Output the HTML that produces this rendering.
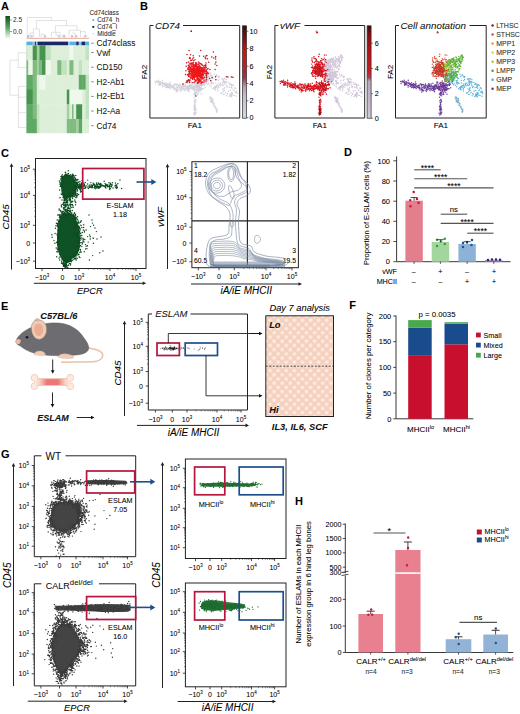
<!DOCTYPE html>
<html><head><meta charset="utf-8"><style>
html,body{margin:0;padding:0;background:#fff;width:520px;height:714px;overflow:hidden}
svg{display:block}
text{font-family:"Liberation Sans", sans-serif;stroke:rgba(0,0,0,0.3);stroke-width:0.22px}
</style></head><body>
<svg width="520" height="714" viewBox="0 0 520 714">
<defs>
<linearGradient id="gA" x1="0" y1="0" x2="0" y2="1"><stop offset="0" stop-color="#0b4f1c"/><stop offset="0.5" stop-color="#5aa55e"/><stop offset="1" stop-color="#ffffff"/></linearGradient>
<linearGradient id="gRed" x1="0" y1="0" x2="0" y2="1"><stop offset="0" stop-color="#3a0810"/><stop offset="0.12" stop-color="#7a0c14"/><stop offset="0.28" stop-color="#cc1414"/><stop offset="0.42" stop-color="#c81a1e"/><stop offset="0.56" stop-color="#9c3050"/><stop offset="0.66" stop-color="#b49aaa"/><stop offset="0.76" stop-color="#c6bece"/><stop offset="1" stop-color="#d8d4de"/></linearGradient>
<linearGradient id="gBone" x1="0" y1="0" x2="1" y2="0"><stop offset="0" stop-color="#fce9e0"/><stop offset="0.15" stop-color="#f8cfc4"/><stop offset="0.35" stop-color="#ec7676"/><stop offset="0.65" stop-color="#ec7676"/><stop offset="0.85" stop-color="#f8cfc4"/><stop offset="1" stop-color="#fce9e0"/></linearGradient>
<linearGradient id="gRed2" x1="0" y1="0" x2="0" y2="1"><stop offset="0" stop-color="#3a0810"/><stop offset="0.1" stop-color="#8a0c14"/><stop offset="0.3" stop-color="#b81418"/><stop offset="0.5" stop-color="#c42024"/><stop offset="0.56" stop-color="#a84058"/><stop offset="0.6" stop-color="#b8a8bc"/><stop offset="1" stop-color="#d0cad8"/></linearGradient>
<radialGradient id="rSpot"><stop offset="0" stop-color="#fff4ee"/><stop offset="0.45" stop-color="#fbe2d6"/><stop offset="1" stop-color="#f2c8b4" stop-opacity="0"/></radialGradient><pattern id="pLat" width="8.1" height="8.4" patternUnits="userSpaceOnUse" x="266" y="316"><rect width="8.1" height="8.4" fill="#f5d0bd"/><circle cx="0" cy="0" r="3.4" fill="url(#rSpot)"/><circle cx="8.1" cy="0" r="3.4" fill="url(#rSpot)"/><circle cx="0" cy="8.4" r="3.4" fill="url(#rSpot)"/><circle cx="8.1" cy="8.4" r="3.4" fill="url(#rSpot)"/><circle cx="4.05" cy="4.2" r="3.4" fill="url(#rSpot)"/></pattern>
</defs>
<text x="1" y="10" font-size="11" font-weight="bold" fill="#000">A</text>
<rect x="5.4" y="16" width="4.6" height="23" fill="url(#gA)"/>
<line x1="10" y1="20" x2="12" y2="20" stroke="#555" stroke-width="0.6"/>
<text x="13" y="22.3" font-size="6.5" fill="#444">2.5</text>
<line x1="10" y1="31.5" x2="12" y2="31.5" stroke="#555" stroke-width="0.6"/>
<text x="13" y="33.8" font-size="6.5" fill="#444">0.0</text>
<path d="M27.3 37V17.5H51.5V20.5 M36.4 20.5H66.5V25.7 M36.4 20.5V29 M33.4 29H39.4 M33.4 29V37 M39.4 29V37 M30 37V33H33.4 M41 37V34H44V37 M55.4 25.7H77V30.3 M55.4 25.7V32.3 M51.5 32.3H60V37 M51.5 32.3V37 M56 32.3V35H58V37 M69 30.3H80.5V33 M69 30.3V37 M72 33H75V37 M80.5 31.6H85.4V37 M80.5 31.6V37 M62 37V35H65V37 M87 37V35" fill="none" stroke="#c9c9c9" stroke-width="0.55"/>
<rect x="26.4" y="37.8" width="62.6" height="1.1" fill="#eab3a0"/>
<rect x="27" y="35.2" width="2.2" height="2.4" fill="#9fc6e8"/>
<rect x="30.5" y="35.2" width="2.2" height="2.4" fill="#c8c8e8"/>
<rect x="44" y="35.2" width="2.2" height="2.4" fill="#e0c0d0"/>
<rect x="58" y="35.2" width="2.2" height="2.4" fill="#d0d0e8"/>
<rect x="63" y="35.2" width="2.2" height="2.4" fill="#e0b8c8"/>
<rect x="71" y="35.2" width="2.2" height="2.4" fill="#e8b0c8"/>
<rect x="75" y="35.2" width="2.2" height="2.4" fill="#e8b8c8"/>
<rect x="84" y="35.2" width="2.2" height="2.4" fill="#e8c0c0"/>
<rect x="26.4" y="41.6" width="6.4" height="3.9" fill="#56b1e2"/>
<rect x="32.7" y="41.6" width="2.1" height="3.9" fill="#9cbde4"/>
<rect x="34.8" y="41.6" width="1.5" height="3.9" fill="#2a3a7a"/>
<rect x="36.2" y="41.6" width="1.3" height="3.9" fill="#9cbde4"/>
<rect x="37.5" y="41.6" width="30.6" height="3.9" fill="#1c2866"/>
<rect x="68" y="41.6" width="2" height="3.9" fill="#9cc4ea"/>
<rect x="70" y="41.6" width="6.3" height="3.9" fill="#5ab2e2"/>
<rect x="76.2" y="41.6" width="2.6" height="3.9" fill="#1c2866"/>
<rect x="78.8" y="41.6" width="2.8" height="3.9" fill="#8cbde4"/>
<rect x="81.5" y="41.6" width="3.5" height="3.9" fill="#1c2866"/>
<rect x="85" y="41.6" width="4" height="3.9" fill="#56b1e2"/>
<rect x="26.4" y="45.5" width="6.7" height="15.1" fill="#ddefd9"/>
<rect x="32.7" y="45.5" width="4.5" height="15.1" fill="#46944e"/>
<rect x="36.8" y="45.5" width="3.1" height="15.1" fill="#a3d0a1"/>
<rect x="39.5" y="45.5" width="6.4" height="15.1" fill="#46944e"/>
<rect x="45.5" y="45.5" width="5.8" height="15.1" fill="#c3e2bf"/>
<rect x="50.9" y="45.5" width="6.8" height="15.1" fill="#ddefd9"/>
<rect x="57.3" y="45.5" width="4.5" height="15.1" fill="#ddefd9"/>
<rect x="61.4" y="45.5" width="5.8" height="15.1" fill="#ddefd9"/>
<rect x="66.8" y="45.5" width="3" height="15.1" fill="#ddefd9"/>
<rect x="69.4" y="45.5" width="4.5" height="15.1" fill="#eff8ed"/>
<rect x="73.5" y="45.5" width="3.1" height="15.1" fill="#ddefd9"/>
<rect x="76.2" y="45.5" width="3" height="15.1" fill="#ddefd9"/>
<rect x="78.8" y="45.5" width="3.8" height="15.1" fill="#ddefd9"/>
<rect x="82.2" y="45.5" width="3.8" height="15.1" fill="#ddefd9"/>
<rect x="85.6" y="45.5" width="3.4" height="15.1" fill="#c3e2bf"/>
<rect x="26.4" y="60.2" width="6.7" height="15.1" fill="#eff8ed"/>
<rect x="32.7" y="60.2" width="4.5" height="15.1" fill="#7fbb7f"/>
<rect x="36.8" y="60.2" width="3.1" height="15.1" fill="#a3d0a1"/>
<rect x="39.5" y="60.2" width="6.4" height="15.1" fill="#46944e"/>
<rect x="45.5" y="60.2" width="5.8" height="15.1" fill="#eff8ed"/>
<rect x="50.9" y="60.2" width="6.8" height="15.1" fill="#ddefd9"/>
<rect x="57.3" y="60.2" width="4.5" height="15.1" fill="#7fbb7f"/>
<rect x="61.4" y="60.2" width="5.8" height="15.1" fill="#c3e2bf"/>
<rect x="66.8" y="60.2" width="3" height="15.1" fill="#ddefd9"/>
<rect x="69.4" y="60.2" width="4.5" height="15.1" fill="#7fbb7f"/>
<rect x="73.5" y="60.2" width="3.1" height="15.1" fill="#ddefd9"/>
<rect x="76.2" y="60.2" width="3" height="15.1" fill="#ddefd9"/>
<rect x="78.8" y="60.2" width="3.8" height="15.1" fill="#c3e2bf"/>
<rect x="82.2" y="60.2" width="3.8" height="15.1" fill="#ddefd9"/>
<rect x="85.6" y="60.2" width="3.4" height="15.1" fill="#ddefd9"/>
<rect x="26.4" y="74.9" width="6.7" height="15.1" fill="#5fa865"/>
<rect x="32.7" y="74.9" width="4.5" height="15.1" fill="#7fbb7f"/>
<rect x="36.8" y="74.9" width="3.1" height="15.1" fill="#ddefd9"/>
<rect x="39.5" y="74.9" width="6.4" height="15.1" fill="#eff8ed"/>
<rect x="45.5" y="74.9" width="5.8" height="15.1" fill="#ddefd9"/>
<rect x="50.9" y="74.9" width="6.8" height="15.1" fill="#ddefd9"/>
<rect x="57.3" y="74.9" width="4.5" height="15.1" fill="#ddefd9"/>
<rect x="61.4" y="74.9" width="5.8" height="15.1" fill="#ddefd9"/>
<rect x="66.8" y="74.9" width="3" height="15.1" fill="#ddefd9"/>
<rect x="69.4" y="74.9" width="4.5" height="15.1" fill="#ddefd9"/>
<rect x="73.5" y="74.9" width="3.1" height="15.1" fill="#ddefd9"/>
<rect x="76.2" y="74.9" width="3" height="15.1" fill="#ddefd9"/>
<rect x="78.8" y="74.9" width="3.8" height="15.1" fill="#5fa865"/>
<rect x="82.2" y="74.9" width="3.8" height="15.1" fill="#5fa865"/>
<rect x="85.6" y="74.9" width="3.4" height="15.1" fill="#c3e2bf"/>
<rect x="26.4" y="89.6" width="6.7" height="15.1" fill="#46944e"/>
<rect x="32.7" y="89.6" width="4.5" height="15.1" fill="#7fbb7f"/>
<rect x="36.8" y="89.6" width="3.1" height="15.1" fill="#ddefd9"/>
<rect x="39.5" y="89.6" width="6.4" height="15.1" fill="#ddefd9"/>
<rect x="45.5" y="89.6" width="5.8" height="15.1" fill="#ddefd9"/>
<rect x="50.9" y="89.6" width="6.8" height="15.1" fill="#ddefd9"/>
<rect x="57.3" y="89.6" width="4.5" height="15.1" fill="#ddefd9"/>
<rect x="61.4" y="89.6" width="5.8" height="15.1" fill="#ddefd9"/>
<rect x="66.8" y="89.6" width="3" height="15.1" fill="#46944e"/>
<rect x="69.4" y="89.6" width="4.5" height="15.1" fill="#eff8ed"/>
<rect x="73.5" y="89.6" width="3.1" height="15.1" fill="#eff8ed"/>
<rect x="76.2" y="89.6" width="3" height="15.1" fill="#eff8ed"/>
<rect x="78.8" y="89.6" width="3.8" height="15.1" fill="#eff8ed"/>
<rect x="82.2" y="89.6" width="3.8" height="15.1" fill="#ddefd9"/>
<rect x="85.6" y="89.6" width="3.4" height="15.1" fill="#c3e2bf"/>
<rect x="26.4" y="104.3" width="6.7" height="15.1" fill="#5fa865"/>
<rect x="32.7" y="104.3" width="4.5" height="15.1" fill="#7fbb7f"/>
<rect x="36.8" y="104.3" width="3.1" height="15.1" fill="#c3e2bf"/>
<rect x="39.5" y="104.3" width="6.4" height="15.1" fill="#ddefd9"/>
<rect x="45.5" y="104.3" width="5.8" height="15.1" fill="#ddefd9"/>
<rect x="50.9" y="104.3" width="6.8" height="15.1" fill="#ddefd9"/>
<rect x="57.3" y="104.3" width="4.5" height="15.1" fill="#ddefd9"/>
<rect x="61.4" y="104.3" width="5.8" height="15.1" fill="#ddefd9"/>
<rect x="66.8" y="104.3" width="3" height="15.1" fill="#a3d0a1"/>
<rect x="69.4" y="104.3" width="4.5" height="15.1" fill="#ddefd9"/>
<rect x="73.5" y="104.3" width="3.1" height="15.1" fill="#ddefd9"/>
<rect x="76.2" y="104.3" width="3" height="15.1" fill="#46944e"/>
<rect x="78.8" y="104.3" width="3.8" height="15.1" fill="#46944e"/>
<rect x="82.2" y="104.3" width="3.8" height="15.1" fill="#ddefd9"/>
<rect x="85.6" y="104.3" width="3.4" height="15.1" fill="#c3e2bf"/>
<rect x="26.4" y="119" width="6.7" height="14.2" fill="#5fa865"/>
<rect x="32.7" y="119" width="4.5" height="14.2" fill="#5fa865"/>
<rect x="36.8" y="119" width="3.1" height="14.2" fill="#c3e2bf"/>
<rect x="39.5" y="119" width="6.4" height="14.2" fill="#ddefd9"/>
<rect x="45.5" y="119" width="5.8" height="14.2" fill="#ddefd9"/>
<rect x="50.9" y="119" width="6.8" height="14.2" fill="#ddefd9"/>
<rect x="57.3" y="119" width="4.5" height="14.2" fill="#ddefd9"/>
<rect x="61.4" y="119" width="5.8" height="14.2" fill="#ddefd9"/>
<rect x="66.8" y="119" width="3" height="14.2" fill="#7fbb7f"/>
<rect x="69.4" y="119" width="4.5" height="14.2" fill="#7fbb7f"/>
<rect x="73.5" y="119" width="3.1" height="14.2" fill="#7fbb7f"/>
<rect x="76.2" y="119" width="3" height="14.2" fill="#a3d0a1"/>
<rect x="78.8" y="119" width="3.8" height="14.2" fill="#5fa865"/>
<rect x="82.2" y="119" width="3.8" height="14.2" fill="#ddefd9"/>
<rect x="85.6" y="119" width="3.4" height="14.2" fill="#ddefd9"/>
<rect x="26.4" y="60.2" width="1.8" height="14.7" fill="#7fbb7f"/>
<rect x="39.5" y="60.2" width="2.5" height="14.7" fill="#7fbb7f"/>
<rect x="72" y="104.3" width="1.5" height="14.7" fill="#7fbb7f"/>
<rect x="26.4" y="45.5" width="0.9" height="14.7" fill="#c3e2bf"/>
<path d="M26 52.8H18.2V67.6H26 M18.2 60.2H10V95.2H18.5 M26 86.4H18.5V127.5H26 M18.5 97.2H26 M18.5 112.7H26" fill="none" stroke="#c9c9c9" stroke-width="0.55"/>
<line x1="91.3" y1="43.2" x2="93.6" y2="43.2" stroke="#444" stroke-width="0.7"/>
<text x="96.6" y="46.2" font-size="8.3" fill="#1a1a1a">Cd74class</text>
<line x1="91.3" y1="52.5" x2="93.6" y2="52.5" stroke="#444" stroke-width="0.7"/>
<text x="96.6" y="55.5" font-size="8.3" fill="#1a1a1a">Vwf</text>
<line x1="91.3" y1="67.3" x2="93.6" y2="67.3" stroke="#444" stroke-width="0.7"/>
<text x="96.6" y="70.3" font-size="8.3" fill="#1a1a1a">CD150</text>
<line x1="91.3" y1="81.8" x2="93.6" y2="81.8" stroke="#444" stroke-width="0.7"/>
<text x="96.6" y="84.8" font-size="8.3" fill="#1a1a1a">H2-Ab1</text>
<line x1="91.3" y1="96.4" x2="93.6" y2="96.4" stroke="#444" stroke-width="0.7"/>
<text x="96.6" y="99.4" font-size="8.3" fill="#1a1a1a">H2-Eb1</text>
<line x1="91.3" y1="111" x2="93.6" y2="111" stroke="#444" stroke-width="0.7"/>
<text x="96.6" y="114" font-size="8.3" fill="#1a1a1a">H2-Aa</text>
<line x1="91.3" y1="125.7" x2="93.6" y2="125.7" stroke="#444" stroke-width="0.7"/>
<text x="96.6" y="128.7" font-size="8.3" fill="#1a1a1a">Cd74</text>
<text x="89.5" y="14.6" font-size="6.3" fill="#333">Cd74class</text>
<rect x="92.4" y="19.2" width="1.8" height="1.8" fill="#56b1e2"/>
<text x="97.3" y="22.3" font-size="6.3" fill="#333">Cd74_h</text>
<rect x="92.4" y="26" width="1.8" height="1.8" fill="#111"/>
<text x="97.3" y="29.1" font-size="6.3" fill="#333">Cd74_l</text>
<rect x="92.4" y="32.8" width="1.8" height="1.8" fill="#dde8f5"/>
<text x="97.3" y="35.9" font-size="6.3" fill="#333">Middle</text>
<text x="140" y="10" font-size="11" font-weight="bold" fill="#000">B</text>
<path d="M183 25.5H239.7V118H149.9V25.5H153.4" fill="none" stroke="#222" stroke-width="1"/>
<text x="154.9" y="29.3" font-size="9.8" font-style="italic" fill="#111">CD74</text>
<text x="147.3" y="72" font-size="8" text-anchor="middle" transform="rotate(-90 147.3 72)">FA2</text>
<text x="194.8" y="127.8" font-size="8" text-anchor="middle">FA1</text>
<path d="M235.1 87.8h0M225.6 92.5h0M234.7 87.9h0M224.1 88.3h0M227 87.5h0M225.9 83.9h0M208.4 73h0M229.8 95.8h0M225.5 81.6h0M231.5 92.5h0M222.1 78.7h0M212.8 83h0M213.4 83.2h0M203.3 75.1h0M231.1 87h0M216.7 74.7h0M207.4 72.4h0M206.5 72.5h0M227.6 94.2h0M224.5 90.4h0M215.1 86.9h0M217.7 89.6h0M215 88.8h0M224.6 82.9h0M235.9 92.4h0M222.3 79.6h0M227.2 93.5h0M213.9 87.8h0M237.1 93.6h0M223.5 80h0M215.5 89.8h0M217.1 87.3h0M231.3 95.1h0M231.1 94.5h0M222.5 79.1h0M232.5 93h0M226.5 95.8h0M214.4 74.2h0M221.8 92.7h0M223.7 89.6h0M218.7 77.4h0M230.4 84h0M233.8 85.6h0M219.1 87.3h0M208.7 77h0M215 86.7h0M216.4 85.4h0M207.3 73.2h0M223.4 81h0M233.1 84.6h0M222.3 78.8h0M230 83.1h0M236 91.9h0M231.4 97.1h0M211 73h0M209.1 76.7h0M204.9 73.3h0M223.4 82.3h0M211.2 86.7h0M226 82.2h0M218 76.2h0M209.9 73h0M211.1 81.2h0M234.4 95.5h0M230.2 90.4h0M203.9 75.8h0M229.1 96.4h0M226.3 79.8h0M223.2 91.7h0M205.7 80.4h0M211.2 75.2h0M219.2 76.4h0M210.5 75.7h0M233.1 95.1h0M206.9 83.6h0M232.2 88.3h0M218.2 80.8h0M231.5 84.4h0M209.9 73.5h0M227.6 86.4h0M211.5 82.7h0M207.5 79h0M207.9 84.8h0M219.1 79.4h0M211.2 77.2h0M205.4 79.5h0M231.9 85.7h0M208.6 83.3h0M204.8 74.3h0M223.8 84.9h0M211.8 77.4h0M223.9 90.4h0M231.1 87.2h0M209.2 73.7h0M228.3 82.6h0M232.2 94.5h0M215.1 76.3h0M215.3 87.5h0M217.9 85.4h0M231.3 94.5h0M220.4 85.8h0M208.5 74.7h0M203 74.5h0M222.7 85.6h0M233.2 90.6h0M203.5 75.2h0M219.7 85h0M212 75.2h0M216.5 75.6h0M223.2 94.4h0M231.6 96.4h0M215.9 82.9h0M232.1 85.7h0M210.6 80.7h0M230.9 95.7h0M231.2 94h0M236.4 96.3h0M210.9 83h0M224.7 81.5h0M217.5 85.1h0M202.6 75.6h0M236.8 92.2h0M235.6 88.5h0M231 95h0M225 78.9h0M224.3 78.5h0M220.6 83.3h0M212.9 88.8h0M211.6 84.1h0M206.4 75.4h0M212.5 82.6h0M212.3 78.3h0M232.1 87.9h0M222.4 88.9h0M218.5 86.2h0M224 84.2h0M213.1 78.3h0M209.9 85.3h0M215.7 87.2h0M221.9 84.8h0M207.6 73.7h0M204.1 82.1h0M217.7 91.1h0M205.8 77.9h0M236.4 91.2h0M207.5 80.8h0M214.6 89.6h0M224.1 94.1h0M231.5 85.5h0M228.5 91.3h0M229.2 84.4h0M230.2 90.4h0M229.5 87.2h0M222.5 82.9h0M230.1 94.7h0M223.8 81.9h0M218.2 83.9h0M216 86.4h0M215.7 80.4h0M230.2 94.1h0M219.9 83.5h0M208.5 79.9h0M232.3 93.8h0M222.2 84.9h0M235 92.1h0M220.5 85.4h0M226.6 82.1h0M214.8 87.5h0M226.3 85.7h0M205.5 81.7h0M216.3 86.6h0M217.7 88.2h0M221 93.2h0M208 80.3h0M237.1 93.5h0M234.1 89.9h0M207.5 79.5h0M220.3 85.1h0M208.7 76.7h0M224.6 87.7h0M202.1 85.6h0M206.4 77.3h0M203.2 80.8h0M205.6 82.3h0M209 78.1h0M208.7 74.7h0M206.1 76.3h0M203.7 78.1h0M206.5 82.3h0M198.5 76h0M204.6 76.6h0M208 79.2h0M207 76.6h0M208.1 79.1h0M202.3 77.2h0M203.5 74.5h0M207.3 78.2h0M207.2 75.4h0M206.4 75.3h0M207.9 80.1h0M211.3 81.8h0M204.9 76.6h0M204.6 78.9h0M211.9 80.1h0M201.4 74.2h0M203.7 79.5h0M206.9 78.9h0M211.4 75.5h0M204.8 83.9h0M207.8 75.7h0M201.8 73.4h0M200.8 78.2h0M207 81h0M206.6 75.9h0M205 83.7h0M202.5 78.5h0M207 79.9h0M205.9 79.5h0M208.9 77.6h0M205.8 77.4h0M213.5 105.3h0M211 97.6h0M211.3 98.5h0M211.1 100.5h0M211.3 99.7h0M210.8 97.1h0M214.9 107.5h0M216 108.1h0M210.4 98h0M212.6 98.6h0M214.3 103.8h0M209.8 99.1h0M212.6 102.3h0M216.7 112.3h0M212.6 99.9h0M211.4 100.3h0M214.5 104h0M213 100.8h0M216.4 111.3h0M211.4 100.6h0M215.2 106.5h0M212.7 98.5h0M213.3 105h0M215.9 109.2h0M212.3 102.8h0M211.4 101.6h0M213.5 102.9h0M217 110.5h0M212.2 101.8h0M214 105.8h0M212 102.5h0M210.4 97.6h0M212.5 101.6h0M216.1 108.3h0M210.5 101.2h0M217.2 109.3h0M217.3 111.1h0M211.7 101.1h0M209.6 97h0M211.5 102.3h0M180.1 85h0M173.3 85.3h0M190 88.1h0M200.2 81.3h0M160 83.4h0M169.9 87.5h0M159.1 84.9h0M169.7 84.1h0M193.2 89h0M192 86.9h0M197.7 83.9h0M160.5 81.8h0M160.2 84h0M196.4 91.1h0M195.5 88.2h0M179.9 83.9h0M176.2 89.1h0M182.4 86.2h0M194.6 83.7h0M183.7 88.5h0M179.6 87.1h0M166 84.6h0M192.9 85.1h0M187.6 86.8h0M186.4 88.1h0M177.8 87.9h0M176.8 89.1h0M191.5 88.5h0M183.4 89.1h0M177.5 90.9h0M166.2 84.7h0M195.6 84.7h0M168 83.8h0M183.1 83.8h0M165 86.2h0M171.2 86.6h0M169.9 84.4h0M164.6 86.3h0M178.7 87.9h0M157.8 82.1h0M162.6 80.3h0M187.9 88.9h0M182.1 89.7h0M157.1 81.2h0M190.8 85.9h0M173.1 87.5h0M158.6 80.3h0M175.8 89.3h0M198.4 85h0M196.4 82.8h0M177.4 90.2h0M175.8 88.8h0M179.1 86.1h0M158.6 82.4h0M196.6 81h0M200.6 84.9h0M167.5 87.5h0M162.6 83.4h0M182.5 87.3h0M159.1 83.5h0M195 86.7h0M198.5 83.2h0M174.2 85.1h0M180.7 89.2h0M192.1 82.7h0M168 87.2h0M186.9 88.5h0M162.7 85.7h0M203.8 81.8h0M203.6 83.7h0M197.8 87.2h0M188.7 89.8h0M200.6 85.1h0M174.5 90h0M158.8 84.6h0M183.3 88.9h0M178.2 86.4h0M185.1 86.6h0M165.8 87.6h0M187.8 90.1h0M174 87.8h0M172 86.7h0M171.4 86h0M184.8 87h0M181.3 88.3h0M197.4 84.3h0M196.6 90.9h0M194.6 89.1h0M180.8 91.6h0M187.2 86.3h0M196 86.8h0M180 87.6h0M170.6 88.7h0M182.2 85.8h0M197.3 83.4h0M199.5 88.9h0M177.6 84.5h0M197.8 87.4h0M195.2 85.3h0M159.6 82.9h0M186.7 86.4h0M200.5 83.3h0M168.5 87h0M188 87.6h0M165 83.8h0M186.5 90.4h0M180.3 90.4h0M185.6 84h0M202.4 84.9h0M165.8 85.4h0M196.8 86.4h0M196.6 83.8h0M184.4 90.7h0M180.7 85.6h0M162.2 84.9h0M199.5 84.9h0M168 87h0M187.2 88.6h0M155.1 81.4h0M155.4 83.5h0M160.7 84.9h0M174 88.8h0M172.7 85.8h0M202.1 84.6h0M187.3 83.2h0M194.6 83.8h0M178.2 90.5h0M200.1 84.1h0M175.8 84.1h0M184.4 86.1h0M186.4 87.8h0M176.2 92h0M183.4 88.6h0M171.9 87.2h0M156.6 81h0M181.6 86.8h0M169.1 86.2h0M175.8 84.8h0M200.3 89.5h0M188.4 87.9h0M188.6 87.2h0M193.9 88.2h0M160.1 84.2h0M174.3 87.2h0M168.1 88h0M170.9 86.9h0M189.5 84.9h0M169.9 81.9h0M190 89.1h0M198.8 86.5h0M168 85.2h0M190.7 86.4h0M176.8 84.5h0M180.1 85.9h0M160.8 83.8h0M189.2 89.3h0M188.5 89.6h0M157.7 81.6h0M204 85.5h0M193.3 87.5h0M168.6 87.6h0M163.8 83h0M185.3 86.1h0M190.4 85.8h0M194.1 90h0M195.1 84.4h0M196.2 85.9h0M172.5 86.2h0M167.2 85.2h0M191 85h0M203.2 88.5h0M163.9 84.5h0M160.2 83.7h0M170 85.3h0M167.9 87.7h0M200.8 85.5h0M195.6 92.7h0M184 86.1h0M195.6 86.5h0M201.1 87.6h0M161.2 82.7h0M199.6 86.6h0M182.3 85.2h0M189.8 88.7h0M173.1 87.2h0M170.5 83.8h0M176 86.9h0M188.3 90.8h0M198.7 89.4h0M197 87.9h0M184.3 86.7h0M191.2 85.5h0M188.2 86.4h0M198.4 88.5h0M199.3 89.8h0M203.2 84.8h0M165.1 84.7h0M201.1 88.3h0M164.6 86.4h0M162.5 87.1h0M194.8 82.4h0M159 85.3h0M193.1 87.4h0M171.7 86.7h0M158.3 82.5h0M199.8 87.3h0M166.1 85.6h0M192.8 89.7h0M185.2 88.7h0M185.1 86.6h0M172.7 85.5h0M193.7 87.9h0M173.9 86.9h0M184.1 88.9h0M179.7 87.5h0M189.8 86.3h0M193.8 86.3h0M192.7 87.8h0M181.8 87.1h0M179.2 87.9h0M204.4 84.4h0M200.8 88.3h0M179.2 88.6h0M166 82.7h0M201.4 86.2h0M176.1 85.3h0M176.3 87.1h0M194.9 84.3h0M188.9 87.2h0M189.8 85h0M192.3 88.3h0M188.9 85.5h0M189.3 86.7h0M189 91.8h0M183.3 85.1h0M183.6 88.6h0M199.9 84.4h0M185.9 86.1h0M169.1 84.1h0M191.1 83h0M199.5 86.1h0M197.7 84.7h0M167.6 86.2h0M178.5 85.2h0M183.2 88.5h0M203 81.7h0M184 84.3h0M167.1 84.1h0M185.5 89.4h0M177.3 87.4h0M170.1 85.8h0M168.9 84.6h0M176.7 90.5h0M162.5 82.2h0M169.1 87.4h0M189.2 87.6h0M181.2 89.8h0M174.3 88.3h0M196.2 87.8h0M188.3 86.7h0M202.2 82.2h0M191.1 87.7h0M194 88.3h0M185.5 85.5h0M157.4 81.9h0M183.4 85.8h0M184.1 86.2h0M182.7 87.2h0M191.4 84.7h0M159.2 81.6h0M195.2 85.1h0M172.7 87.7h0M165.4 85.9h0M188.4 88.4h0M192.7 86.7h0M191.3 88.2h0M204 79.6h0M166.6 86.9h0M156.4 81.9h0M173.4 87.9h0M197.6 84.6h0M181.8 88h0M199.2 81h0M173.4 87.2h0M185.5 89.1h0M183.4 86.5h0M196.9 91h0M187.6 87.9h0M185.1 88.9h0M176.4 90.3h0M174.7 83.9h0M186.6 88.6h0M182.4 87h0M181.5 87h0M199.6 86.9h0M170.1 84.9h0M195.1 86.1h0M191.5 88.3h0M198.8 89.9h0M171 86.6h0M199.5 78.6h0M194.1 89.6h0M197.6 94.6h0M197.2 85.1h0M202.2 88.9h0M203.4 88.7h0M197.3 89.5h0M195.6 85.5h0M196.3 86.2h0M200.2 85.4h0M198.8 85.3h0M200.5 77.7h0M197.3 87.6h0M194.8 90.4h0M198.5 91.3h0M200.7 89.2h0M197.5 83.3h0M197.3 85.4h0M198.6 85.4h0M206.8 81.6h0M201.3 85.4h0M197.2 90.1h0M197.9 82.9h0M199.1 86.3h0M191.9 87.7h0M194.8 84.5h0M199.3 88h0M197.1 94.3h0M199.1 84.9h0M198.6 86.6h0M191.5 81.7h0M193.9 94h0M197.4 86.1h0M196.3 90.3h0M198 92.8h0M200.2 92.6h0M197.6 88.3h0M196.6 86.4h0M192.9 85h0M195.1 84.8h0M201.4 87.9h0M201.4 89.9h0M200.6 90.4h0M196.1 89.7h0M197 85.2h0M201.4 94.3h0M195.1 92.9h0M200.3 84.1h0M198.7 88.3h0M199 85.8h0M194.2 87.1h0M200.4 89.6h0M199.8 90.7h0M195 86.9h0M198.9 90.4h0M198.4 88.7h0M198.3 94.1h0M191.6 86.9h0M205.1 87.8h0M192.6 87.5h0M194.9 103.7h0M194.5 108h0M195.3 93.7h0M195.3 99.4h0M194.8 102.4h0M196.6 92h0M195.1 103.9h0M195.7 108.8h0M195.4 107.1h0M195.2 104.4h0M195.6 113.6h0M195.2 106.6h0M194.3 109.6h0M196 101.1h0M196.3 112.1h0M195.2 99.9h0M195.5 99.8h0M195.2 107.6h0M195.3 106.3h0M195.8 93.4h0M195.4 94.8h0M195.3 113.4h0M195 113.9h0M194.4 101.9h0M195.8 108.7h0M194.5 105.3h0M194.5 94.8h0M194.1 108.9h0M195.2 92.2h0M194.8 93.9h0M194.4 113.2h0M194.4 93.2h0M196.1 109.9h0M194.5 107.9h0M195.2 110h0M194.4 100.4h0M195.2 109.8h0M194 97.2h0M193.4 113.1h0M195 92.8h0M194.9 113.2h0M194.5 110.1h0M195.5 95.6h0M195.9 95.7h0M195.9 101.8h0M194.5 107h0M195.4 99.4h0M193.9 106.4h0M195.1 112.6h0M194.8 92.1h0M194.2 108.9h0M194.5 114.3h0M195.4 109h0M195.6 112.1h0M195.2 112.1h0M195.1 110.1h0M194.4 110.6h0M194.7 113.2h0M194.2 115.1h0M194.5 110.9h0M195.3 112.8h0M194.7 109.9h0M194.3 108.9h0M195.6 114.1h0" stroke="#d2cedb" stroke-width="1.4" stroke-linecap="round"/>
<path d="M204 81.9h0M198.4 73.1h0M186.3 82.2h0M193.1 66.2h0M201.8 82.2h0M201.2 83.7h0M205.2 57.4h0M211.8 56.9h0M216.9 65.5h0M192.9 82.7h0M195.9 63.8h0M196.5 72.7h0M186.6 62.7h0M190.9 78.2h0M185.9 70.7h0M193.9 65.4h0M203.3 74.2h0M190.2 58.2h0M189.6 82.6h0M190.5 54.7h0M202.1 69.8h0M213.4 51.9h0M193.2 55.7h0M204.1 65.4h0M198.6 80.2h0M206.4 79.2h0M215.6 59.1h0M215.1 63.9h0M187.5 81.1h0M189.1 50.6h0M194.9 59.8h0M215.9 79.6h0M198.9 68h0M212.2 77.4h0M206.2 67.4h0M189.5 58.3h0M206.3 69.9h0M210.7 80.6h0M215.7 56.6h0M188.3 80.5h0M203.6 56.2h0M207.4 58.7h0M193.2 62.5h0M202.1 73h0M188.2 75.2h0M205.3 66h0M206.7 77.2h0M186.2 66.2h0M206.9 74.1h0M206 56.1h0M215.6 76.7h0M193.1 64.6h0M215.6 57h0M198.6 82.7h0M213.8 57.9h0M208.7 62.2h0M206.5 76.1h0M189.9 57.6h0M192.6 59h0M187 54.6h0M198.5 64.3h0M188.3 69.8h0M215.1 69.6h0M196.9 74h0M199.5 56h0M200.8 50.6h0M206.9 55.5h0M197.4 82.7h0M209.7 78.4h0M205.8 71.6h0" stroke="#b4141e" stroke-width="1.5" stroke-linecap="round"/>
<path d="M198.7 82h0M188.4 65.5h0M192.1 75.5h0M202.8 70.4h0M200.3 71.8h0M198.4 69.5h0M196.8 72h0M202.6 82.3h0M187.8 74.5h0M196.9 76.5h0M202.2 75.6h0M200.9 67.6h0M188.4 79.7h0M203 67.6h0M203.4 75.1h0M192 77.4h0M193.5 68.6h0M189.2 71h0M202 68.9h0M187.6 81.9h0M206.1 75.2h0M194.2 66.4h0M188.7 74.6h0M203.4 67.1h0M196.9 70.7h0M195.6 74.3h0M207.4 69.1h0M201.2 77h0M195.5 71.3h0M190.2 77h0M194.2 69h0M197.2 68h0M191.7 70.6h0M204.4 71h0M199.5 65.2h0M194.9 64.9h0M196.4 74.8h0M188.2 67.9h0M198.2 67.7h0M200.9 76.5h0M199.1 70h0M196.7 69.1h0M196.2 73.5h0M195.4 76.5h0M209.9 69.5h0M198.6 75.8h0M200.1 70.9h0M194.5 76.7h0M200 74.3h0M192.9 74.9h0M200.9 71.1h0M200.1 82.1h0M187.5 74.8h0M191 65.7h0M195.7 74.5h0M197.2 66.6h0M189.7 69.4h0M197 68.1h0M189.3 80.1h0M192.7 71.3h0M194.1 69.3h0M197.1 70.6h0M200 66.5h0M189.4 81.1h0M196.5 75.6h0M202.8 74.6h0M197.1 64.8h0M188.8 76.5h0M200.3 74.6h0M188.5 62.1h0M191.6 66.5h0M197.7 67.2h0M204.9 69.1h0M194.1 76h0M198.6 67.8h0M201 80.9h0M190.7 70.8h0M191.5 63h0M200.1 75.2h0M201.8 74h0M193.5 66.5h0M191.3 75.6h0M195.4 81.2h0M199.3 63.1h0M201.4 77.8h0M197.1 66.3h0M205.8 65.9h0M196.5 63.1h0M190.6 64.1h0M202.4 77.5h0M194.8 65.7h0M196.6 73.8h0M189.2 66.6h0M196.4 75.3h0M197.3 74.1h0M190.6 60.4h0M198.5 67.7h0M196.3 70.2h0M199.3 68.4h0M204.2 72.1h0M199.6 74.9h0M202.2 73.9h0M188 69.1h0M206.3 74.2h0M199.7 74.2h0M193.6 68.8h0M193.6 77.4h0M198.8 80.4h0M199.4 80.9h0M199.2 66.4h0M205.8 73.6h0M203 73h0M195.2 72.8h0M191.2 66.4h0M192.4 69.5h0M190 71.5h0M198.5 81.5h0M206.3 71.8h0M201.4 71h0M198.9 71.8h0M194.1 72.4h0M189.3 74.1h0M195.4 66.9h0M195.1 74.6h0M193.4 74.2h0M199.8 79.4h0M191.3 71.5h0M199.5 79.1h0M198.2 75.6h0M189.4 69.2h0M205.4 70.7h0M208 68.6h0M195.5 64.5h0M200.2 73.3h0M207.2 72.8h0M195.6 65.3h0M196.5 76.5h0M200.7 77.8h0M201.3 71.8h0M200 72.8h0M190.1 80.1h0M198.8 67h0M198.9 73.4h0M202 78.8h0M204.8 67.5h0M198.6 73.7h0M191.2 69.8h0M197.9 75.5h0M208.2 73.4h0M193.8 60.8h0M202.4 71.4h0M196.3 67.3h0M200.7 63.5h0M197.5 72.6h0M198.4 78.2h0M196.4 72.4h0M201.3 64.6h0M195.4 72.3h0M201.8 68.2h0M201 73.8h0M189.2 65h0M189.5 72.7h0M198 75.4h0M201.1 69.4h0M202.4 75.9h0M199.3 74.3h0M190.3 73.7h0M191.6 66.3h0M195.1 72.7h0M196.6 70.4h0M191.7 72.9h0M193.1 65.3h0M197.4 78.9h0M194.8 66.9h0M204.1 80.2h0M195.4 71h0M197.6 76.7h0M199.2 63.3h0M191.2 66.1h0M199.1 72.5h0M206.2 70.7h0M198.5 72.4h0M197.6 83.1h0M198.4 79h0M203.6 69.1h0M200.5 70.2h0M197.5 72.8h0M197 69.8h0M205 70.7h0M200.5 80h0M200.1 76.9h0M204.1 77.2h0M205.8 65.2h0M207.1 72.1h0M187.8 68.9h0M189.7 71.9h0M189.2 67.2h0M198.4 72.8h0M192.8 70.9h0M196.4 72.4h0M196.9 70.9h0M201.5 64.3h0M194.3 72.6h0M194.8 69.4h0M194.6 73h0M203.4 71.1h0M195.5 73.7h0M195.6 62.7h0M198.3 70.2h0M193.9 75h0M197.1 69.3h0M197 71.4h0M199.2 73.1h0M194.4 65.9h0M191.2 71.3h0M190.9 75.6h0M190 63.4h0M195.9 63.5h0M205.4 67.2h0M196.6 70.8h0M192.6 63.5h0M202.2 82.4h0M189.3 74.7h0M196.8 76.1h0M194.2 75.5h0M201.6 74.9h0M204.4 71.2h0M204.9 68.6h0M205.6 58.8h0M197 68.2h0M196.9 76.9h0M200.6 72.5h0M205.7 64.9h0M192.7 79.2h0M198.6 62h0M198.7 66.3h0M204.6 77.5h0M194.1 78.2h0M192.6 76.4h0M199.9 71.4h0M189.5 70.7h0M191.9 60.3h0M199.9 73.8h0M194.3 82.2h0M200.9 72.3h0M193.5 57.8h0M199.4 76.6h0M193.8 65.2h0M196.7 64h0M196.9 75.7h0M204.8 73.3h0M197.9 75.6h0M204.2 70.5h0M190.5 68.2h0M190.4 67.7h0M196.3 73.6h0M197.7 72.3h0M195 74h0M201.5 75.6h0M204.7 70.6h0M195.6 80.1h0M197.9 74h0M195.2 76.7h0M194.8 67.2h0M196.6 69.9h0M201.2 70.2h0M197.5 71h0M198.7 69h0M202.6 65.2h0M194.9 68.6h0M200.3 72.2h0M199.4 70.4h0M193.2 66.6h0M195.2 69.4h0M198.4 73.7h0M202 71.5h0M193 66.9h0M197.2 73.7h0M207 72.9h0M206 81h0M191.4 77.8h0M202.8 78.5h0M196.8 76.6h0M194.4 71.7h0M197 80.6h0M195.8 76.6h0M197.2 68.6h0M198.2 75.2h0M193.2 75h0M193.2 67.8h0M198 70.9h0M191.8 64.2h0M197 73.2h0M194.5 72.9h0M189 73.9h0M199.1 73.3h0M193.7 72.4h0M197.6 77.1h0M198.3 73.2h0M193.1 76.1h0M203 69.6h0M200.2 73.5h0M196.7 65.8h0M206 63h0M198.5 70.2h0M202.9 70h0M197.1 74.9h0M199.3 69.5h0M200.4 73.9h0M202 69.6h0M196.7 70.1h0M192.5 73.2h0M199 78.8h0M195.2 73.9h0M202.8 71.5h0M197.2 72.6h0M193.3 67.3h0M202.7 72.8h0M196.5 66.1h0M197.5 77.6h0M190.9 67.7h0M202.6 78.8h0M204.9 69.4h0M200 68.4h0M199.6 70.3h0M197.9 78.4h0M198.7 70.8h0M197.2 73.3h0M194.2 73h0M200 79.4h0" stroke="#e8161e" stroke-width="1.6" stroke-linecap="round"/>
<path d="M192.1 63.5h0M197 79.1h0M194 75.8h0M197.1 68.4h0M199.4 66.7h0M192.8 71.7h0M199.6 73.4h0M194.4 70h0M195.2 73.2h0M197.6 78.2h0M197.6 73.1h0M194.3 79h0M195.6 72.9h0M201.6 78.8h0M197 72.6h0M192.5 77h0M193.2 76.6h0M192 73.4h0M196.4 73.5h0M195.8 74.4h0M190.7 68.9h0M194.4 79.7h0M194.4 69.6h0M192.4 73.1h0M199.3 70.9h0M197 73.7h0M193.6 69.5h0M194.3 70.3h0M196.9 66.5h0M199.1 75.8h0M197 78.6h0M197.1 66.7h0M195.1 74.7h0M192.4 68.8h0M196.5 74.9h0M193.3 72.1h0M193 70.9h0M194.7 77h0M188.9 71.7h0M200.9 74.2h0M195.5 76.1h0M191.2 68.5h0M188.7 67.6h0M195.8 76.1h0M193.4 70.5h0M196.4 75.3h0M195.9 65.9h0M192.9 63.6h0M195.8 69.9h0M192.5 78.6h0M199.8 74.8h0M195.9 73.6h0M192.7 72.8h0M202 69.8h0M192.5 73.6h0M198.2 76.1h0M191.3 72.5h0M193.9 68.4h0M195.2 71.2h0M198.3 74.6h0M192 73.3h0M193.6 70.7h0M193.1 76.9h0M193.4 66.7h0M192 76h0M202.9 69.1h0M193.6 71.8h0M189.7 74.5h0M194.7 74h0M203.2 72h0M197.8 76.1h0M192.6 70.8h0M200.7 75.6h0M195.4 69h0M198.2 74.9h0M203 78.4h0M197.9 74h0M195.1 71h0M196 73.9h0M197.3 77h0M196.1 71h0M197.9 78.7h0M191.8 74.6h0M196.9 75h0M196.8 72.7h0M194.5 79.2h0M201.3 67.8h0M185.5 74.6h0M192.4 71.1h0M189 74.3h0M194.7 71h0M198.2 82h0M200.3 77.3h0M193.4 75.4h0M194.8 77.3h0M197.1 72.9h0M196.9 70.4h0M197.8 78.6h0M193.6 75.1h0M188.8 76.5h0" stroke="#f01818" stroke-width="1.6" stroke-linecap="round"/>
<path d="M191.2 31.2h0" stroke="#b0141c" stroke-width="1.8" stroke-linecap="round"/>
<path d="M226.4 76.8h0M227.9 77h0M231.4 77h0M232.9 77.3h0M186.9 81h0M215.9 62h0M182.9 84h0M195.9 96h0" stroke="#b0141c" stroke-width="1.6" stroke-linecap="round"/>
<rect x="242.4" y="25.8" width="4.2" height="92.4" fill="url(#gRed)" stroke="#333" stroke-width="0.7"/>
<line x1="246.6" y1="31.2" x2="248.4" y2="31.2" stroke="#333" stroke-width="0.7"/>
<text x="249.6" y="33.7" font-size="7.2">10</text>
<line x1="246.6" y1="48.5" x2="248.4" y2="48.5" stroke="#333" stroke-width="0.7"/>
<text x="249.6" y="51" font-size="7.2">8</text>
<line x1="246.6" y1="66.2" x2="248.4" y2="66.2" stroke="#333" stroke-width="0.7"/>
<text x="249.6" y="68.7" font-size="7.2">6</text>
<line x1="246.6" y1="83.5" x2="248.4" y2="83.5" stroke="#333" stroke-width="0.7"/>
<text x="249.6" y="86" font-size="7.2">4</text>
<line x1="246.6" y1="100.8" x2="248.4" y2="100.8" stroke="#333" stroke-width="0.7"/>
<text x="249.6" y="103.3" font-size="7.2">2</text>
<line x1="246.6" y1="117.7" x2="248.4" y2="117.7" stroke="#333" stroke-width="0.7"/>
<text x="249.6" y="120.2" font-size="7.2">0</text>
<path d="M304.5 25.5H364.7V118H274.9V25.5H278.4" fill="none" stroke="#222" stroke-width="1"/>
<text x="279.9" y="29.3" font-size="9.8" font-style="italic" fill="#111">vWF</text>
<text x="272.3" y="72" font-size="8" text-anchor="middle" transform="rotate(-90 272.3 72)">FA2</text>
<text x="319.8" y="127.8" font-size="8" text-anchor="middle">FA1</text>
<path d="M324.5 63.6h0M325 62.2h0M324.7 69.2h0M326.3 67.1h0M322.2 68.6h0M323.4 74.3h0M327.2 67.5h0M323.5 65.2h0M322.1 66.6h0M325.8 70.1h0M329.6 78.5h0M325.8 68.1h0M336.3 58.7h0M326.3 68.8h0M328.4 70h0M327.2 69.8h0M328.1 71.9h0M322.2 63.6h0M327.9 62.8h0M324.8 71.1h0M326 71.2h0M330.1 69.5h0M329.4 67.5h0M323.7 67.8h0M329.3 65.4h0M327.6 71.7h0M325.3 71.2h0M333.5 65.2h0M328.3 67.2h0M332.5 69.6h0M330.6 64.5h0M327.9 68h0M322.6 75.2h0M330.6 59.3h0M330.1 67.3h0M329.2 69.8h0M323.4 66.9h0M332.4 65.1h0M324.8 61.2h0M324.2 69.7h0M333 70.1h0M328.6 79.2h0M326.3 64.6h0M329.5 70.7h0M324.9 62.2h0M328.8 69.2h0M324 67h0M326.3 70.3h0M327.5 67.6h0M326.8 73.3h0M326.8 61.2h0M332.4 72.7h0M330.7 61.4h0M329 65.9h0M336.2 59.8h0M332.5 60h0M339.1 60.7h0M326.6 75h0M328.1 80.2h0M332.3 59.6h0M326.6 65.8h0M325 65.1h0M326.4 80.8h0M323.2 65.1h0M325.8 79.8h0M335.9 64.7h0M329.8 63.5h0M327.8 64h0M342 57.8h0M342.1 60.1h0M329.4 76.7h0M339.2 66.2h0M322.9 67.3h0M329.7 79.3h0M326 64.3h0M340.7 55.3h0M330.5 76.4h0M341.2 61.4h0M329 61.9h0M327.4 73.8h0M328.5 61.9h0M322 74.9h0M341.7 55.2h0M326.8 67.3h0M330 61.3h0M330.9 67.8h0M341.4 59.4h0M334.7 63.4h0M328.6 64.3h0M338.3 56.6h0M326 74.8h0M322.6 69.4h0M328.7 81h0M323.9 68h0M336.8 66.6h0M326.8 65.8h0M334.9 72.7h0M335.9 57.8h0M339.6 62.4h0M333.8 64.6h0M337.4 59.9h0M327.1 61.1h0M325.1 78.4h0M334 63.3h0M332.6 60.7h0M342.7 57.3h0M331.9 76.6h0M340.1 66.6h0M327.4 75.5h0M341.8 57.4h0M334.4 71.2h0M326.5 64.5h0M327.3 70.7h0M335.6 60h0M322.1 63.3h0M336.1 59.5h0M328.5 60h0M338.6 69.3h0M330.2 69.4h0M335.3 57h0M325.3 73.3h0M330.5 62.1h0M328.4 80.2h0M328.5 69.8h0M329.4 65.7h0M329.5 59.8h0M337.2 60h0M330.8 76.6h0M330.4 78.3h0M331.6 58.9h0M322.2 69.4h0M323.8 71.3h0M329.7 68.1h0M325 62.1h0M332.8 79.5h0M324.2 67.7h0M339.2 58.8h0M338.4 60.5h0M330.4 77.4h0M339.3 59.4h0M326.5 65.3h0M332.8 64.9h0M322.8 69.7h0M339.5 57.7h0M334.5 69.4h0M335.1 62.8h0M330.7 70.2h0M330.8 72.3h0M331.3 66.3h0M322.4 71.2h0M332.2 60.9h0M331.5 59.3h0M324.6 66.1h0M323.8 66.4h0M332.5 64.7h0M341.9 58.2h0M326 81h0M332.2 80.3h0M341.1 59h0M323.3 64h0M337.8 58.8h0M340.7 61.9h0M339 58.4h0M332.4 79.3h0M326.3 61.6h0M332.5 63.1h0M325.3 79.8h0M325.4 75.7h0M324.3 68.8h0M335.3 64.2h0M334.1 78.3h0M335.1 65.1h0M338.7 61.6h0M329.5 75.1h0M331.2 59.3h0M339.1 61.3h0M334.2 72.4h0M334.8 66.2h0M332.7 78.7h0M322 64.1h0M324.1 64.1h0M326.6 70.3h0M334.3 60h0M335 67.3h0M324.7 79.8h0M323.9 71.7h0M330.3 61.6h0M322.1 71.9h0M333.7 64h0M335.5 66.5h0M327.1 78.9h0M322.8 68.9h0M330.4 60.9h0M323.1 75.5h0M322.2 69.4h0M341.7 58.3h0M326.1 70.9h0M332.5 71.8h0M339 59.2h0M328.4 62.6h0M337.5 67.1h0M337.5 66.7h0M328.9 74.7h0M336.8 61.7h0M333.5 66.3h0M338.5 68.6h0M327.5 71.8h0M327.4 60.9h0M337.6 63.3h0M340.4 63.4h0M326.9 79h0M335.1 73.2h0M331.8 77.2h0M331.1 74.1h0M333.9 62.8h0M326.4 71.3h0M324.1 79.6h0M336.4 71.6h0M336.5 74.4h0M323.3 70.4h0M329.5 76.6h0M323.3 77.9h0M335.2 76.8h0M335.2 62.3h0M337.8 60h0M328.6 65.9h0M327.8 73.8h0M329.6 63.2h0M322.6 65.6h0M331.1 75.4h0M329.2 73.5h0M333.2 60.3h0M340 57h0M339.1 59.1h0M322 67.8h0M332.2 76h0M325.8 67.9h0M329.2 77h0M327.4 80h0M327.9 60.3h0M336.6 68h0M324.2 71.7h0M323.6 75.8h0M335.1 64.1h0M330.3 65.2h0M340.6 56.8h0M340.6 55.2h0M326.2 61.6h0M329.9 78.4h0M326.8 66.9h0M333.1 74.9h0M337.7 72h0M329.2 63.3h0M325.2 77.3h0M335.8 74.5h0M325.5 66.3h0M338.1 70.1h0M324.5 67h0M340.5 60.9h0M325.9 62.6h0M327.1 63.3h0M332.9 58.8h0M328.8 59.6h0M324 64.9h0M337.3 66.2h0M326 71.7h0M330.3 75.9h0M336.5 68h0M335.2 67h0M324.9 70.8h0M330.4 74.5h0M334 74.7h0M330.7 60.7h0M335.4 66.8h0M328.5 71.5h0M324 65.8h0M335.1 61.3h0M330.8 66.8h0M335 65.6h0M325.7 72.2h0M338.2 65h0M332.2 80.8h0M322.7 69.2h0M325.3 75.6h0M324 70h0M333.3 73.9h0M332.7 71.8h0M339.3 68.6h0M330.5 80.1h0M326.3 73h0M330.1 75.1h0M327.7 65.3h0M322.2 65.8h0M330.7 73.4h0M329.3 61.7h0M326.6 74.5h0M326.5 76.1h0M330.1 60.2h0M324.6 75.5h0M331.8 69.7h0M326.6 80.5h0M329.3 71.7h0M331.7 62.4h0M333.4 57.9h0M339.4 64.1h0M339.8 61.7h0M329.8 61.3h0M330.8 59.5h0M322 74h0M327.8 61.1h0M328.2 67.4h0M330.9 71.7h0M335.7 64.3h0M323.1 76.9h0M324.8 76.9h0M335.7 61.3h0M326.8 75.5h0M325.4 78.6h0M334.7 75.6h0M326 73.2h0M333 74.5h0M331.1 78.3h0M333.6 61.6h0M331.7 58.4h0M332.2 68h0M333.2 77.8h0M331.7 69.7h0M329.8 65.8h0M342.1 56.5h0M335.3 71.7h0M322.5 71h0M328.8 81h0M332.6 67.6h0M340.7 55.4h0M337 71.4h0M329 77.8h0M329.6 67.3h0M332.9 75.3h0M326.3 66.3h0M330.8 69.5h0M339.3 62.4h0M339.3 65.4h0M332.5 61.8h0M332.5 80.8h0M335.6 75.9h0M328.8 63.1h0M328.2 70.3h0M335.2 75.7h0M322.7 74h0M322.9 62.6h0M360.1 87.8h0M350.6 92.5h0M359.7 87.9h0M349.1 88.3h0M352 87.5h0M350.9 83.9h0M333.4 73h0M354.8 95.8h0M350.5 81.6h0M356.5 92.5h0M347.1 78.7h0M337.8 83h0M338.4 83.2h0M328.3 75.1h0M356.1 87h0M341.7 74.7h0M332.4 72.4h0M331.5 72.5h0M352.6 94.2h0M349.5 90.4h0M340.1 86.9h0M342.7 89.6h0M340 88.8h0M349.6 82.9h0M360.9 92.4h0M347.3 79.6h0M352.2 93.5h0M338.9 87.8h0M362.1 93.6h0M348.5 80h0M340.5 89.8h0M342.1 87.3h0M356.3 95.1h0M356.1 94.5h0M347.5 79.1h0M357.5 93h0M351.5 95.8h0M339.4 74.2h0M346.8 92.7h0M348.7 89.6h0M343.7 77.4h0M355.4 84h0M358.8 85.6h0M344.1 87.3h0M333.7 77h0M340 86.7h0M341.4 85.4h0M332.3 73.2h0M348.4 81h0M358.1 84.6h0M347.3 78.8h0M355 83.1h0M361 91.9h0M356.4 97.1h0M336 73h0M334.1 76.7h0M329.9 73.3h0M348.4 82.3h0M336.2 86.7h0M351 82.2h0M343 76.2h0M334.9 73h0M336.1 81.2h0M359.4 95.5h0M355.2 90.4h0M328.9 75.8h0M354.1 96.4h0M351.3 79.8h0M348.2 91.7h0M330.7 80.4h0M336.2 75.2h0M344.2 76.4h0M335.5 75.7h0M358.1 95.1h0M331.9 83.6h0M357.2 88.3h0M343.2 80.8h0M356.5 84.4h0M334.9 73.5h0M352.6 86.4h0M336.5 82.7h0M332.5 79h0M332.9 84.8h0M344.1 79.4h0M336.2 77.2h0M330.4 79.5h0M356.9 85.7h0M333.6 83.3h0M329.8 74.3h0M348.8 84.9h0M336.8 77.4h0M348.9 90.4h0M356.1 87.2h0M334.2 73.7h0M353.3 82.6h0M357.2 94.5h0M340.1 76.3h0M340.3 87.5h0M342.9 85.4h0M356.3 94.5h0M345.4 85.8h0M333.5 74.7h0M328 74.5h0M347.7 85.6h0M358.2 90.6h0M328.5 75.2h0M344.7 85h0M337 75.2h0M341.5 75.6h0M348.2 94.4h0M356.6 96.4h0M340.9 82.9h0M357.1 85.7h0M335.6 80.7h0M355.9 95.7h0M356.2 94h0M361.4 96.3h0M335.9 83h0M349.7 81.5h0M342.5 85.1h0M327.6 75.6h0M361.8 92.2h0M360.6 88.5h0M356 95h0M350 78.9h0M349.3 78.5h0M345.6 83.3h0M337.9 88.8h0M336.6 84.1h0M331.4 75.4h0M337.5 82.6h0M337.3 78.3h0M357.1 87.9h0M347.4 88.9h0M343.5 86.2h0M349 84.2h0M338.1 78.3h0M334.9 85.3h0M340.7 87.2h0M346.9 84.8h0M332.6 73.7h0M329.1 82.1h0M342.7 91.1h0M330.8 77.9h0M361.4 91.2h0M332.5 80.8h0M339.6 89.6h0M349.1 94.1h0M356.5 85.5h0M353.5 91.3h0M354.2 84.4h0M355.2 90.4h0M354.5 87.2h0M347.5 82.9h0M355.1 94.7h0M348.8 81.9h0M343.2 83.9h0M341 86.4h0M340.7 80.4h0M355.2 94.1h0M344.9 83.5h0M333.5 79.9h0M357.3 93.8h0M347.2 84.9h0M360 92.1h0M345.5 85.4h0M351.6 82.1h0M339.8 87.5h0M351.3 85.7h0M330.5 81.7h0M341.3 86.6h0M342.7 88.2h0M346 93.2h0M333 80.3h0M362.1 93.5h0M359.1 89.9h0M332.5 79.5h0M345.3 85.1h0M333.7 76.7h0M349.6 87.7h0M327.1 85.6h0M331.4 77.3h0M328.2 80.8h0M330.6 82.3h0M334 78.1h0M333.7 74.7h0M331.1 76.3h0M328.7 78.1h0M331.5 82.3h0M323.5 76h0M329.6 76.6h0M333 79.2h0M332 76.6h0M333.1 79.1h0M327.3 77.2h0M328.5 74.5h0M332.3 78.2h0M332.2 75.4h0M331.4 75.3h0M332.9 80.1h0M336.3 81.8h0M329.9 76.6h0M329.6 78.9h0M336.9 80.1h0M326.4 74.2h0M328.7 79.5h0M331.9 78.9h0M336.4 75.5h0M329.8 83.9h0M332.8 75.7h0M326.8 73.4h0M325.8 78.2h0M332 81h0M331.6 75.9h0M330 83.7h0M327.5 78.5h0M332 79.9h0M330.9 79.5h0M333.9 77.6h0M330.8 77.4h0M338.5 105.3h0M336 97.6h0M336.3 98.5h0M336.1 100.5h0M336.3 99.7h0M335.8 97.1h0M339.9 107.5h0M341 108.1h0M335.4 98h0M337.6 98.6h0M339.3 103.8h0M334.8 99.1h0M337.6 102.3h0M341.7 112.3h0M337.6 99.9h0M336.4 100.3h0M339.5 104h0M338 100.8h0M341.4 111.3h0M336.4 100.6h0M340.2 106.5h0M337.7 98.5h0M338.3 105h0M340.9 109.2h0M337.3 102.8h0M336.4 101.6h0M338.5 102.9h0M342 110.5h0M337.2 101.8h0M339 105.8h0M337 102.5h0M335.4 97.6h0M337.5 101.6h0M341.1 108.3h0M335.5 101.2h0M342.2 109.3h0M342.3 111.1h0M336.7 101.1h0M334.6 97h0M336.5 102.3h0" stroke="#d0c4da" stroke-width="1.4" stroke-linecap="round"/>
<path d="M315 76h0M313.2 86.4h0M315.2 72.7h0M315.1 64.5h0M318.9 106.4h0M320.4 109h0M313.5 68.1h0M306.5 87h0M318.9 74.5h0M329 79.6h0M299.3 88.3h0M310.5 89.1h0M305.7 89.2h0M318.7 87.9h0M326.4 87.9h0M317.3 68.9h0M284.2 81.6h0M314.8 85h0M319.9 64.4h0M322.5 83.3h0M323.2 71.8h0M312.2 86.3h0M326.4 89.9h0M329 85.5h0M326.4 86.2h0M322.2 59.9h0M308.4 89.1h0M319.7 68.3h0M315.7 73.1h0M319.7 113.2h0M315.7 69.3h0M317.1 71.3h0M323.4 88.7h0M321.3 70.1h0M312 57.9h0M320.9 76.1h0M318.8 86.3h0M319.6 83.7h0M324.3 88h0M324.5 78.6h0M317.6 66.3h0M301.4 90.3h0M320.2 85.1h0M321.3 69.1h0M324.2 74.2h0M321.6 72.9h0M317.3 73.6h0M321.6 73.3h0M299.2 85.1h0M298.4 87.9h0M310.9 86.1h0M314.5 84.9h0M316.4 64.7h0M318.7 62.3h0M319.2 70.8h0M320.2 104.4h0M326.2 70.4h0M317.8 61.4h0M321.4 91.1h0M320 86.7h0M314.2 87.6h0M320.6 92.7h0M318.6 83.2h0M283.6 80.3h0M292.2 85.2h0M314.2 73.4h0M325.5 70.5h0M317.6 75.9h0M319.7 74.4h0M326.2 55.1h0M327.2 82.2h0M321.1 73.9h0M281.6 81h0M280.1 81.4h0M317.1 61.7h0M327 76h0M305.3 90.4h0M319.3 75.1h0M319.5 105.3h0M320.2 92.2h0M293.5 87h0M303.2 90.5h0M322.9 71h0M311.4 87.8h0M325.6 85.1h0M294.7 84.1h0M302.4 90.2h0M292.9 87.7h0M318.3 69.6h0M323.4 71.6h0M315.9 65.7h0M315.4 73.6h0M319 97.2h0M285.7 84.9h0M320 86.9h0M313.1 72.7h0M314.3 86.7h0M301 86.9h0M325.3 89.5h0M316.8 64.5h0M317.9 85.1h0M308.4 86.5h0M317.9 63.9h0M323 74.8h0M327.4 84.9h0M319.9 113.2h0M325.5 77.7h0M318.4 71.6h0M322.7 84.7h0M301.2 89.1h0M322.7 70.6h0M320.2 107.6h0M312.3 83.2h0M316.8 71.8h0M314 58.2h0M320.3 106.3h0M320.8 67.2h0M319.6 67h0M321.6 81h0M284.1 84.9h0M322.2 85.1h0M317.1 82.7h0M320.4 94.8h0M322 85.2h0M323.8 89.9h0M307.4 86.2h0M309.1 88.9h0M298.1 87.5h0M318.9 65h0M320.1 86.1h0M285.8 83.8h0M312.7 74.8h0M321.1 71.4h0M322.4 86.1h0M320.4 71.9h0M313.3 90.8h0M317 86.9h0M313.9 87.2h0M301.2 92h0M319.5 108h0M316.6 86.9h0M306.6 86.8h0M299 87.8h0M321.3 75.8h0M315.9 70.1h0M313.3 86.7h0M293.1 88h0M288.9 84.5h0M319.4 64h0M319.2 108.9h0M317.4 76.2h0M300.8 88.8h0M321 86.8h0M318.6 64.2h0M321.2 85.9h0M295.9 86.9h0M323.4 88.5h0M312.9 62.2h0M313.1 70.1h0M321 61h0M320.1 92.9h0M295.1 84.9h0M287.5 87.1h0M286.2 82.7h0M324.1 84.9h0M322.7 83.9h0M320.1 103.9h0M320.7 108.8h0M282.4 81.9h0M310.3 86.1h0M287.7 85.7h0M320.2 110h0M309.4 90.7h0M322.2 75.5h0M284.6 82.9h0M331.8 81.6h0M322.7 68.3h0M320.2 112.1h0M322.7 67h0M325.4 75.7h0M306.2 89.8h0M317.9 73.2h0M319.8 93.9h0M316.8 68.5h0M321.6 82.2h0M318.9 88.2h0M301.8 89.1h0M320 65.3h0M315 66.9h0M325 61.1h0M319.8 82.4h0M324.8 87.3h0M311.7 64.1h0M310.6 84h0M283.6 82.4h0M320.4 107.1h0M322 87.9h0M315.7 73h0M317.6 87.5h0M304.7 87.5h0M293 87.2h0M321.2 63.4h0M312.8 90.1h0M320.3 99.4h0M323.7 88.3h0M305.8 91.6h0M300.8 84.1h0M318.1 74.9h0M317.6 71.5h0M319.4 113.2h0M313.4 88.4h0M304.6 87.1h0M322.6 71.5h0M306.3 88.3h0M322.6 67.8h0M321.9 72.7h0M320.9 95.7h0M315.7 86.4h0M317.9 72.7h0M317.5 32.5h0M303.5 85.2h0M322.1 94.3h0M324.5 55h0M316.6 32.7h0M282.7 81.6h0M318.2 89h0M321.6 86.4h0M291 82.7h0M307.7 87.2h0M319.3 109.6h0M312.2 88.6h0M320.3 112.8h0M296.2 86.6h0M297.7 87.7h0M308.6 88.6h0M316.8 70.7h0M316.1 74.3h0M303.2 86.4h0M325.5 75.7h0M320.2 62.3h0M317.4 69.9h0M320 113.9h0M319.3 70.1h0M322.6 84.6h0M321.4 70.7h0M320.6 67.6h0M320.7 76.4h0M318.1 87.4h0M320.7 64.7h0M296 86.6h0M313 87.6h0M314.2 70.1h0M318.3 74.2h0M324.4 64.2h0M319.2 67.4h0M283.3 82.5h0M293 83.8h0M322.9 82.9h0M325.2 92.6h0M291 84.6h0M321.5 75.4h0M320.4 76.2h0M324.6 86.9h0M323.6 85.4h0M318.9 69.2h0M325.8 59.7h0M314.8 88.7h0M300.8 84.8h0M314.2 89.3h0M309 86.1h0M293.6 87.6h0M322.2 90.1h0M317.8 89.7h0M322.9 64.1h0M326.3 85.4h0M308.4 88.6h0M287.5 82.2h0M322.2 71.1h0M319.9 84.3h0M305.7 85.6h0M321.3 86.2h0M319.1 67.8h0M319.6 71.2h0M318.3 87.5h0M321.8 86.4h0M312.6 87.9h0M320.9 69.1h0M323.5 91.3h0M313.7 89.8h0M313.4 87.9h0M315.4 85.8h0M320.6 112.1h0M320.5 69.6h0M318.6 71.9h0M321.3 90.3h0M323.4 59.6h0M324.6 86.6h0M310.1 86.6h0M316.2 67.3h0M306.8 87.1h0M322.3 89.5h0M325.5 83.3h0M280.4 83.5h0M317.3 70.2h0M315.7 78.6h0M302.5 90.9h0M315.5 58.4h0M320.5 99.8h0M314.5 62.4h0M313.6 87.2h0M324.8 90.7h0M316.5 88.3h0M315.3 71.8h0M307.3 85.2h0M309.4 86.1h0M310.1 86.6h0M322.4 84.3h0M325.3 84.1h0M290.8 87.6h0M318.3 63.2h0M310.2 88.7h0M316.2 74.5h0M320.2 109.8h0M324.5 70.5h0M316.5 88.5h0M319.9 64.7h0M293 85.2h0M319 71.9h0M312.6 70.7h0M319.7 83.5h0M325.2 59.6h0M315.2 70.1h0M294.1 86.2h0M324.8 76.6h0M317.7 73.3h0M313.6 76.2h0M284.1 83.5h0M299 88.8h0M316.1 68.6h0M298.4 87.2h0M319.8 69h0M322.2 74.6h0M314.8 86.3h0M319.9 66.2h0M319.8 92.1h0M325.8 88.3h0M314.4 67.8h0M321.2 63.7h0M281.4 81.9h0M316.4 63.3h0M311.8 72.7h0M291.1 85.6h0" stroke="#e8161e" stroke-width="1.45" stroke-linecap="round"/>
<path d="M319.5 110.9h0M307.4 87h0M318.3 76.1h0M304.2 87.9h0M298.9 86.9h0M299.7 83.9h0M290.4 85.9h0M285.2 83.7h0M316.2 85.5h0M312.4 72.8h0M316.4 59.5h0M282.1 81.2h0M318 64.4h0M322.7 71.6h0M324.5 88.9h0M319.3 73.9h0M312.3 61.2h0M322 69.7h0M285.5 81.8h0M308.1 83.8h0M290 86.2h0M318.2 75.2h0M313.9 70.4h0M321.1 72.8h0M293 87h0M305.1 85.9h0M317.3 88.3h0M316.3 72.3h0M320.1 110.1h0M297.7 85.8h0M310.5 89.4h0M320.6 114.1h0M324.9 66h0M316.7 73.5h0M318.3 68.7h0M324.2 58.1h0M290.1 84.7h0M289.6 86.4h0M326 74.9h0M289.6 86.3h0M315.7 76.7h0M330.1 87.8h0M325.6 90.4h0M311.6 88.6h0M322.1 72.4h0M321.1 109.9h0M319.5 107.9h0M308.4 85.8h0M325.2 81.3h0M299.3 87.2h0M317.1 71h0M309 84.3h0M328.8 81.8h0M320.5 88.2h0M311.4 88.1h0M311.6 67.4h0M325.1 84.1h0M320.1 71.3h0M319.5 110.1h0M310.1 88.9h0M307.1 89.7h0M298.1 87.2h0M299.5 90h0M314.8 68h0M320.2 85.3h0M290 83.8h0M323.5 83.2h0M321.6 92h0M294.9 87.5h0M321.5 62.5h0M321.7 58.6h0M324 85.8h0M308.2 88.5h0M318.5 74.3h0M320.2 99.9h0M321.6 90.9h0M315.8 85.9h0M295.5 83.8h0M295 85.3h0M321.3 69h0M322.3 83.4h0M327.1 84.6h0M292.6 86.2h0M319.3 62.3h0M321.6 70.9h0M315 88.1h0M304.9 83.9h0M323.8 86.5h0M318.9 70.7h0M320.7 75.7h0M304.1 86.1h0M315.2 71.9h0M326.1 88.3h0M326.4 94.3h0M319.7 109.9h0M326.1 87.6h0M321.7 72h0M321.7 62.5h0M320.6 85.5h0M312.6 71.3h0M315 73.3h0M316.1 87.7h0M316.9 87.7h0M323.9 70h0M297 86.7h0M321 66.4h0M321.5 69.7h0M323.8 69.2h0M321.4 67.7h0M319.2 54.2h0M317.2 68.7h0M319.3 108.9h0M320.1 84.8h0M309.3 86.7h0M324.5 86.1h0M309.1 86.2h0M318.1 67.4h0M326.4 62.6h0M294.1 87.4h0M316.7 72.2h0M302.8 87.9h0M324.5 84.9h0M319.1 71h0M310.5 85.5h0M319.1 108.9h0M316.5 81.7h0M325.7 89.2h0M316.3 67h0M318.7 56.4h0M320.4 71.5h0M328.4 88.7h0M312.6 86.8h0M321.2 68.2h0M319.9 103.7h0M320.7 60.8h0M318.7 69.5h0M317.7 73.7h0M319.4 110.6h0M329.4 84.4h0M319.5 94.8h0M319.2 73.5h0M314.7 68.6h0M303.7 87.9h0M316.1 74.6h0M301.3 87.1h0M297.5 86.2h0M318.5 74.4h0M313.8 68.9h0M322.8 64.4h0M319.4 74.9h0M320.6 113.6h0M287.2 84.9h0M316.9 73.7h0M318.2 74.8h0M305.1 85h0M318.2 75h0M314 91.8h0M320.9 67.8h0M318.5 69.5h0M320 92.8h0M321.4 75.3h0M294.9 81.9h0M318.8 66.7h0M318.3 72.2h0M325.8 85.5h0M317.2 67.6h0M304.2 88.6h0M323.3 94.1h0M316.4 84.7h0M298.3 85.3h0M319 88.3h0M316.3 88.2h0M320.4 99.4h0M319.1 89.6h0M295.1 85.8h0M317.9 85h0M321 70.1h0M293.9 84.6h0M316.9 31.8h0M311.9 60h0M315.4 70.4h0M316.8 70.4h0M320.2 106.6h0M319.2 69.8h0M322.3 85.4h0M322.5 64.4h0M284 85.3h0M292.1 84.1h0M321.7 74.4h0M301.8 84.5h0M322 72.4h0M285 83.4h0M318.8 68.9h0M322.6 77.3h0M313.5 89.6h0M314.7 66.6h0M328.2 88.5h0M312.4 76h0M320.5 75h0M312.8 65.9h0M324.2 79.7h0M319.5 114.3h0M328 81.7h0M319.5 72.2h0M324.9 84.4h0M317.5 65.3h0M316.1 83h0M318.9 94h0M320.8 108.7h0M317.4 67.7h0M295.6 88.7h0M311.4 73.8h0M321.9 91h0M320 70.1h0M321.2 71.8h0M319.2 73.5h0M319.2 87.1h0M316.1 70.6h0M319.6 66.1h0M308.3 85.1h0M306.8 88h0M301.1 85.3h0M323.1 65.8h0M319.8 90.4h0M307.5 87.3h0M320.6 84.7h0M287.6 83.4h0M315.6 68h0M323 92.8h0M312.3 67.4h0M319.4 93.2h0M318 66.3h0M320.1 84.4h0M322.8 87.4h0M315.6 65.8h0M319 69.6h0M314.9 70.9h0M322.7 68.2h0M319.6 89.1h0M302.3 87.4h0M308.7 88.5h0M321.2 87.8h0M324.7 74.4h0M322.8 64.8h0M288.8 83h0M320.4 68.8h0M319.5 68.7h0M319.1 90h0M319.8 84.5h0M320.5 95.6h0M319.1 65.7h0M327.2 88.9h0M313.8 67.9h0M323.6 86.6h0M320.8 93.4h0M307.2 85.8h0M323.3 66.8h0M326 73.5h0M320.3 93.7h0M320.9 101.8h0M315 89.1h0M320.6 86.5h0M317.7 87.8h0M316.5 71.9h0M301.7 90.5h0M324.1 86.3h0M322.6 88.3h0M318.9 66.2h0M325.2 85.4h0M296.4 86h0M312.9 88.9h0M319.4 101.9h0M323.4 85h0M321.3 112.1h0M322.3 87.6h0M282.8 82.1h0M320.1 112.6h0M297.7 85.5h0M287.6 80.3h0M296.9 87.2h0M328.2 84.8h0M322.5 73.6h0M318.4 113.1h0M313.9 85.5h0M319.2 70.1h0M325.4 89.6h0M325.9 70.6h0M311.7 86.4h0M319.5 107h0M319.8 102.4h0M320.1 73.3h0M319.2 115.1h0M318.7 65h0M321.6 75.7h0M316.5 67.3h0M315.4 61.2h0M305 87.6h0M322.8 87.2h0M317.1 64.3h0M324.3 89.8h0M296.7 86.7h0M328.6 83.7h0M323.7 89.4h0M324.2 81h0M315.7 67.1h0M291.6 86.9h0M321.1 82.6h0M321.4 82.8h0M319.4 71.8h0M308.3 88.9h0M322.1 63.3h0M311.9 88.5h0M317.7 86.7h0M327.8 69.5h0M321.8 72.6h0M319.4 100.4h0M316 85h0M321.6 83.8h0M325.6 84.9h0M294.1 84.1h0M314 56.8h0M294.9 84.4h0M325.5 73.1h0M319 71.8h0M313.3 68.4h0M320.3 113.4h0M315.1 58.7h0M322.6 94.6h0M321 101.1h0M285.1 84.2h0M318.9 70.8h0M315.9 71.2h0M322.8 76.2h0M285.2 84h0M290.8 85.4h0M319.6 83.8h0M309.8 87h0M323.9 90.4h0M311.5 90.4h0M291.2 84.7h0M302.6 84.5h0M319 65.8h0M300.8 89.3h0M314 72h0M292.5 87.5h0M318.7 71h0M319.6 71.5h0M321.1 89.7h0M316.6 60.7h0M318.9 68.8h0M283.8 84.6h0M323.8 85.3h0M319.3 66.9h0" stroke="#c8141e" stroke-width="1.45" stroke-linecap="round"/>
<path d="M319.9 110h0M319.9 112h0M319.9 114h0" stroke="#901018" stroke-width="2.2" stroke-linecap="round"/>
<path d="M316.2 31.2h0" stroke="#c8a0b8" stroke-width="1.8" stroke-linecap="round"/>
<rect x="367.1" y="25.8" width="4" height="92.4" fill="url(#gRed2)" stroke="#333" stroke-width="0.7"/>
<line x1="371.1" y1="43.2" x2="372.9" y2="43.2" stroke="#333" stroke-width="0.7"/>
<text x="374.8" y="45.7" font-size="7.2">6</text>
<line x1="371.1" y1="68.6" x2="372.9" y2="68.6" stroke="#333" stroke-width="0.7"/>
<text x="374.8" y="71.1" font-size="7.2">4</text>
<line x1="371.1" y1="93.6" x2="372.9" y2="93.6" stroke="#333" stroke-width="0.7"/>
<text x="374.8" y="96.1" font-size="7.2">2</text>
<line x1="371.1" y1="118.2" x2="372.9" y2="118.2" stroke="#333" stroke-width="0.7"/>
<text x="374.8" y="120.7" font-size="7.2">0</text>
<path d="M469.5 25.5H486.2V118H395.5V25.5H399" fill="none" stroke="#222" stroke-width="1"/>
<text x="400.5" y="29.3" font-size="9.8" font-style="italic" fill="#111">Cell annotation</text>
<text x="392.9" y="72" font-size="8" text-anchor="middle" transform="rotate(-90 392.9 72)">FA2</text>
<text x="440.9" y="127.8" font-size="8" text-anchor="middle">FA1</text>
<path d="M459.1 105.3h0M456.6 97.6h0M456.9 98.5h0M456.7 100.5h0M456.9 99.7h0M456.4 97.1h0M460.5 107.5h0M461.6 108.1h0M456 98h0M458.2 98.6h0M459.9 103.8h0M455.4 99.1h0M458.2 102.3h0M462.3 112.3h0M458.2 99.9h0M457 100.3h0M460.1 104h0M458.6 100.8h0M462 111.3h0M457 100.6h0M460.8 106.5h0M458.3 98.5h0M458.9 105h0M461.5 109.2h0M457.9 102.8h0M457 101.6h0M459.1 102.9h0M462.6 110.5h0M457.8 101.8h0M459.6 105.8h0M457.6 102.5h0M456 97.6h0M458.1 101.6h0M461.7 108.3h0M456.1 101.2h0M462.8 109.3h0M462.9 111.1h0M457.3 101.1h0M455.2 97h0M457.1 102.3h0" stroke="#7ab0c8" stroke-width="1.4" stroke-linecap="round"/>
<path d="M480.7 87.8h0M471.2 92.5h0M480.3 87.9h0M469.7 88.3h0M472.6 87.5h0M471.5 83.9h0M454 73h0M475.4 95.8h0M471.1 81.6h0M477.1 92.5h0M467.7 78.7h0M458.4 83h0M459 83.2h0M448.9 75.1h0M476.7 87h0M462.3 74.7h0M453 72.4h0M452.1 72.5h0M473.2 94.2h0M470.1 90.4h0M460.7 86.9h0M463.3 89.6h0M460.6 88.8h0M470.2 82.9h0M481.5 92.4h0M467.9 79.6h0M472.8 93.5h0M459.5 87.8h0M482.7 93.6h0M469.1 80h0M461.1 89.8h0M462.7 87.3h0M476.9 95.1h0M476.7 94.5h0M468.1 79.1h0M478.1 93h0M472.1 95.8h0M460 74.2h0M467.4 92.7h0M469.3 89.6h0M464.3 77.4h0M476 84h0M479.4 85.6h0M464.7 87.3h0M454.3 77h0M460.6 86.7h0M462 85.4h0M452.9 73.2h0M469 81h0M478.7 84.6h0M467.9 78.8h0M475.6 83.1h0M481.6 91.9h0M477 97.1h0M456.6 73h0M454.7 76.7h0M450.5 73.3h0M469 82.3h0M456.8 86.7h0M471.6 82.2h0M463.6 76.2h0M455.5 73h0M456.7 81.2h0M480 95.5h0M475.8 90.4h0M449.5 75.8h0M474.7 96.4h0M471.9 79.8h0M468.8 91.7h0M451.3 80.4h0M456.8 75.2h0M464.8 76.4h0M456.1 75.7h0M478.7 95.1h0M452.5 83.6h0M477.8 88.3h0M463.8 80.8h0M477.1 84.4h0M455.5 73.5h0M473.2 86.4h0M457.1 82.7h0M453.1 79h0M453.5 84.8h0M464.7 79.4h0M456.8 77.2h0M451 79.5h0M477.5 85.7h0M454.2 83.3h0M450.4 74.3h0M469.4 84.9h0M457.4 77.4h0M469.5 90.4h0M476.7 87.2h0M454.8 73.7h0M473.9 82.6h0M477.8 94.5h0M460.7 76.3h0M460.9 87.5h0M463.5 85.4h0M476.9 94.5h0M466 85.8h0M454.1 74.7h0M448.6 74.5h0M468.3 85.6h0M478.8 90.6h0M449.1 75.2h0M465.3 85h0M457.6 75.2h0M462.1 75.6h0M468.8 94.4h0M477.2 96.4h0M461.5 82.9h0M477.7 85.7h0M456.2 80.7h0M476.5 95.7h0M476.8 94h0M482 96.3h0M456.5 83h0M470.3 81.5h0M463.1 85.1h0M448.2 75.6h0M482.4 92.2h0M481.2 88.5h0M476.6 95h0M470.6 78.9h0M469.9 78.5h0M466.2 83.3h0M458.5 88.8h0M457.2 84.1h0M452 75.4h0M458.1 82.6h0M457.9 78.3h0M477.7 87.9h0M468 88.9h0M464.1 86.2h0M469.6 84.2h0M458.7 78.3h0M455.5 85.3h0M461.3 87.2h0M467.5 84.8h0M453.2 73.7h0M449.7 82.1h0M463.3 91.1h0M451.4 77.9h0M482 91.2h0M453.1 80.8h0M460.2 89.6h0M469.7 94.1h0M477.1 85.5h0M474.1 91.3h0M474.8 84.4h0M475.8 90.4h0M475.1 87.2h0M468.1 82.9h0M475.7 94.7h0M469.4 81.9h0M463.8 83.9h0M461.6 86.4h0M461.3 80.4h0M475.8 94.1h0M465.5 83.5h0M454.1 79.9h0M477.9 93.8h0M467.8 84.9h0M480.6 92.1h0M466.1 85.4h0M472.2 82.1h0M460.4 87.5h0M471.9 85.7h0M451.1 81.7h0M461.9 86.6h0M463.3 88.2h0M466.6 93.2h0M453.6 80.3h0M482.7 93.5h0M479.7 89.9h0M453.1 79.5h0M465.9 85.1h0M454.3 76.7h0M470.2 87.7h0M447.7 85.6h0M452 77.3h0M448.8 80.8h0M451.2 82.3h0M454.6 78.1h0M454.3 74.7h0M451.7 76.3h0M449.3 78.1h0M452.1 82.3h0M444.1 76h0M450.2 76.6h0M453.6 79.2h0M452.6 76.6h0M453.7 79.1h0M447.9 77.2h0M449.1 74.5h0M452.9 78.2h0M452.8 75.4h0M452 75.3h0M453.5 80.1h0M456.9 81.8h0M450.5 76.6h0M450.2 78.9h0M457.5 80.1h0M447 74.2h0M449.3 79.5h0M452.5 78.9h0M457 75.5h0M450.4 83.9h0M453.4 75.7h0M447.4 73.4h0M446.4 78.2h0M452.6 81h0M452.2 75.9h0M450.6 83.7h0M448.1 78.5h0M452.6 79.9h0M451.5 79.5h0M454.5 77.6h0M451.4 77.4h0" stroke="#5ab4d8" stroke-width="1.4" stroke-linecap="round"/>
<path d="M425.7 85h0M418.9 85.3h0M435.6 88.1h0M445.8 81.3h0M405.6 83.4h0M415.5 87.5h0M404.7 84.9h0M415.3 84.1h0M438.8 89h0M437.6 86.9h0M443.3 83.9h0M406.1 81.8h0M405.8 84h0M442 91.1h0M441.1 88.2h0M425.5 83.9h0M421.8 89.1h0M428 86.2h0M440.2 83.7h0M429.3 88.5h0M425.2 87.1h0M411.6 84.6h0M438.5 85.1h0M433.2 86.8h0M432 88.1h0M423.4 87.9h0M422.4 89.1h0M437.1 88.5h0M429 89.1h0M423.1 90.9h0M411.8 84.7h0M441.2 84.7h0M413.6 83.8h0M428.7 83.8h0M410.6 86.2h0M416.8 86.6h0M415.5 84.4h0M410.2 86.3h0M424.3 87.9h0M403.4 82.1h0M408.2 80.3h0M433.5 88.9h0M427.7 89.7h0M402.7 81.2h0M436.4 85.9h0M418.7 87.5h0M404.2 80.3h0M421.4 89.3h0M444 85h0M442 82.8h0M423 90.2h0M421.4 88.8h0M424.7 86.1h0M404.2 82.4h0M442.2 81h0M446.2 84.9h0M413.1 87.5h0M408.2 83.4h0M428.1 87.3h0M404.7 83.5h0M440.6 86.7h0M444.1 83.2h0M419.8 85.1h0M426.3 89.2h0M437.7 82.7h0M413.6 87.2h0M432.5 88.5h0M408.3 85.7h0M449.4 81.8h0M449.2 83.7h0M443.4 87.2h0M434.3 89.8h0M446.2 85.1h0M420.1 90h0M404.4 84.6h0M428.9 88.9h0M423.8 86.4h0M430.7 86.6h0M411.4 87.6h0M433.4 90.1h0M419.6 87.8h0M417.6 86.7h0M417 86h0M430.4 87h0M426.9 88.3h0M443 84.3h0M442.2 90.9h0M440.2 89.1h0M426.4 91.6h0M432.8 86.3h0M441.6 86.8h0M425.6 87.6h0M416.2 88.7h0M427.8 85.8h0M442.9 83.4h0M445.1 88.9h0M423.2 84.5h0M443.4 87.4h0M440.8 85.3h0M405.2 82.9h0M432.3 86.4h0M446.1 83.3h0M414.1 87h0M433.6 87.6h0M410.6 83.8h0M432.1 90.4h0M425.9 90.4h0M431.2 84h0M448 84.9h0M411.4 85.4h0M442.4 86.4h0M442.2 83.8h0M430 90.7h0M426.3 85.6h0M407.8 84.9h0M445.1 84.9h0M413.6 87h0M432.8 88.6h0M400.7 81.4h0M401 83.5h0M406.3 84.9h0M419.6 88.8h0M418.3 85.8h0M447.7 84.6h0M432.9 83.2h0M440.2 83.8h0M423.8 90.5h0M445.7 84.1h0M421.4 84.1h0M430 86.1h0M432 87.8h0M421.8 92h0M429 88.6h0M417.5 87.2h0M402.2 81h0M427.2 86.8h0M414.7 86.2h0M421.4 84.8h0M445.9 89.5h0M434 87.9h0M434.2 87.2h0M439.5 88.2h0M405.7 84.2h0M419.9 87.2h0M413.7 88h0M416.5 86.9h0M435.1 84.9h0M415.5 81.9h0M435.6 89.1h0M444.4 86.5h0M413.6 85.2h0M436.3 86.4h0M422.4 84.5h0M425.7 85.9h0M406.4 83.8h0M434.8 89.3h0M434.1 89.6h0M403.3 81.6h0M449.6 85.5h0M438.9 87.5h0M414.2 87.6h0M409.4 83h0M430.9 86.1h0M436 85.8h0M439.7 90h0M440.7 84.4h0M441.8 85.9h0M418.1 86.2h0M412.8 85.2h0M436.6 85h0M448.8 88.5h0M409.5 84.5h0M405.8 83.7h0M415.6 85.3h0M413.5 87.7h0M446.4 85.5h0M441.2 92.7h0M429.6 86.1h0M441.2 86.5h0M446.7 87.6h0M406.8 82.7h0M445.2 86.6h0M427.9 85.2h0M435.4 88.7h0M418.7 87.2h0M416.1 83.8h0M421.6 86.9h0M433.9 90.8h0M444.3 89.4h0M442.6 87.9h0M429.9 86.7h0M436.8 85.5h0M433.8 86.4h0M444 88.5h0M444.9 89.8h0M448.8 84.8h0M410.7 84.7h0M446.7 88.3h0M410.2 86.4h0M408.1 87.1h0M440.4 82.4h0M404.6 85.3h0M438.7 87.4h0M417.3 86.7h0M403.9 82.5h0M445.4 87.3h0M411.7 85.6h0M438.4 89.7h0M430.8 88.7h0M430.7 86.6h0M418.3 85.5h0M439.3 87.9h0M419.5 86.9h0M429.7 88.9h0M425.3 87.5h0M435.4 86.3h0M439.4 86.3h0M438.3 87.8h0M427.4 87.1h0M424.8 87.9h0M450 84.4h0M446.4 88.3h0M424.8 88.6h0M411.6 82.7h0M447 86.2h0M421.7 85.3h0M421.9 87.1h0M440.5 84.3h0M434.5 87.2h0M435.4 85h0M437.9 88.3h0M434.5 85.5h0M434.9 86.7h0M434.6 91.8h0M428.9 85.1h0M429.2 88.6h0M445.5 84.4h0M431.5 86.1h0M414.7 84.1h0M436.7 83h0M445.1 86.1h0M443.3 84.7h0M413.2 86.2h0M424.1 85.2h0M428.8 88.5h0M448.6 81.7h0M429.6 84.3h0M412.7 84.1h0M431.1 89.4h0M422.9 87.4h0M415.7 85.8h0M414.5 84.6h0M422.3 90.5h0M408.1 82.2h0M414.7 87.4h0M434.8 87.6h0M426.8 89.8h0M419.9 88.3h0M441.8 87.8h0M433.9 86.7h0M447.8 82.2h0M436.7 87.7h0M439.6 88.3h0M431.1 85.5h0M403 81.9h0M429 85.8h0M429.7 86.2h0M428.3 87.2h0M437 84.7h0M404.8 81.6h0M440.8 85.1h0M418.3 87.7h0M411 85.9h0M434 88.4h0M438.3 86.7h0M436.9 88.2h0M449.6 79.6h0M412.2 86.9h0M402 81.9h0M419 87.9h0M443.2 84.6h0M427.4 88h0M444.8 81h0M419 87.2h0M431.1 89.1h0M429 86.5h0M442.5 91h0M433.2 87.9h0M430.7 88.9h0M422 90.3h0M420.3 83.9h0M432.2 88.6h0M428 87h0M427.1 87h0M445.2 86.9h0M415.7 84.9h0M440.7 86.1h0M437.1 88.3h0M444.4 89.9h0M416.6 86.6h0M445.1 78.6h0M439.7 89.6h0M443.2 94.6h0M442.8 85.1h0M447.8 88.9h0M449 88.7h0M442.9 89.5h0M441.2 85.5h0M441.9 86.2h0M445.8 85.4h0M444.4 85.3h0M446.1 77.7h0M442.9 87.6h0M440.4 90.4h0M444.1 91.3h0M446.3 89.2h0M443.1 83.3h0M442.9 85.4h0M444.2 85.4h0M452.4 81.6h0M446.9 85.4h0M442.8 90.1h0M443.5 82.9h0M444.7 86.3h0M437.5 87.7h0M440.4 84.5h0M444.9 88h0M442.7 94.3h0M444.7 84.9h0M444.2 86.6h0M437.1 81.7h0M439.5 94h0M443 86.1h0M441.9 90.3h0M443.6 92.8h0M445.8 92.6h0M443.2 88.3h0M442.2 86.4h0M438.5 85h0M440.7 84.8h0M447 87.9h0M447 89.9h0M446.2 90.4h0M441.7 89.7h0M442.6 85.2h0M447 94.3h0M440.7 92.9h0M445.9 84.1h0M444.3 88.3h0M444.6 85.8h0M439.8 87.1h0M446 89.6h0M445.4 90.7h0M440.6 86.9h0M444.5 90.4h0M444 88.7h0M443.9 94.1h0M437.2 86.9h0M450.7 87.8h0M438.2 87.5h0M440.5 103.7h0M440.1 108h0M440.9 93.7h0M440.9 99.4h0M440.4 102.4h0M442.2 92h0M440.7 103.9h0M441.3 108.8h0M441 107.1h0M440.8 104.4h0M441.2 113.6h0M440.8 106.6h0M439.9 109.6h0M441.6 101.1h0M441.9 112.1h0M440.8 99.9h0M441.1 99.8h0M440.8 107.6h0M440.9 106.3h0M441.4 93.4h0M441 94.8h0M440.9 113.4h0M440.6 113.9h0M440 101.9h0M441.4 108.7h0M440.1 105.3h0M440.1 94.8h0M439.7 108.9h0M440.8 92.2h0M440.4 93.9h0M440 113.2h0M440 93.2h0M441.7 109.9h0M440.1 107.9h0M440.8 110h0M440 100.4h0M440.8 109.8h0M439.6 97.2h0M439 113.1h0M440.6 92.8h0M440.5 113.2h0M440.1 110.1h0M441.1 95.6h0M441.5 95.7h0M441.5 101.8h0M440.1 107h0M441 99.4h0M439.5 106.4h0M440.7 112.6h0M440.4 92.1h0M439.8 108.9h0M440.1 114.3h0M441 109h0M441.2 112.1h0M440.8 112.1h0M440.7 110.1h0M440 110.6h0M440.3 113.2h0M439.8 115.1h0M440.1 110.9h0M440.9 112.8h0M440.3 109.9h0M439.9 108.9h0M441.2 114.1h0" stroke="#6a3d9a" stroke-width="1.4" stroke-linecap="round"/>
<path d="M447.4 61.2h0M453 72.7h0M451.3 61.4h0M449.6 65.9h0M456.8 59.8h0M453.1 60h0M459.7 60.7h0M447.2 75h0M448.7 80.2h0M452.9 59.6h0M447.2 65.8h0M445.6 65.1h0M447 80.8h0M443.8 65.1h0M446.4 79.8h0M456.5 64.7h0M450.4 63.5h0M448.4 64h0M462.6 57.8h0M462.7 60.1h0M450 76.7h0M459.8 66.2h0M443.5 67.3h0M450.3 79.3h0M446.6 64.3h0M461.3 55.3h0M451.1 76.4h0M461.8 61.4h0M449.6 61.9h0M448 73.8h0M449.1 61.9h0M442.6 74.9h0M462.3 55.2h0M447.4 67.3h0M450.6 61.3h0M451.5 67.8h0M462 59.4h0M455.3 63.4h0M449.2 64.3h0M458.9 56.6h0M446.6 74.8h0M443.2 69.4h0M449.3 81h0M444.5 68h0M457.4 66.6h0M447.4 65.8h0M455.5 72.7h0M456.5 57.8h0M460.2 62.4h0M454.4 64.6h0M458 59.9h0M447.7 61.1h0M445.7 78.4h0M454.6 63.3h0M453.2 60.7h0M463.3 57.3h0M452.5 76.6h0M460.7 66.6h0M448 75.5h0M462.4 57.4h0M455 71.2h0M447.1 64.5h0M447.9 70.7h0M456.2 60h0M442.7 63.3h0M456.7 59.5h0M449.1 60h0M459.2 69.3h0M450.8 69.4h0M455.9 57h0M445.9 73.3h0M451.1 62.1h0M449 80.2h0M449.1 69.8h0M450 65.7h0M450.1 59.8h0M457.8 60h0M451.4 76.6h0M451 78.3h0M452.2 58.9h0M442.8 69.4h0M444.4 71.3h0M450.3 68.1h0M445.6 62.1h0M453.4 79.5h0M444.8 67.7h0M459.8 58.8h0M459 60.5h0M451 77.4h0M459.9 59.4h0M447.1 65.3h0M453.4 64.9h0M443.4 69.7h0M460.1 57.7h0M455.1 69.4h0M455.7 62.8h0M451.3 70.2h0M451.4 72.3h0M451.9 66.3h0M443 71.2h0M452.8 60.9h0M452.1 59.3h0M445.2 66.1h0M444.4 66.4h0M453.1 64.7h0M462.5 58.2h0M446.6 81h0M452.8 80.3h0M461.7 59h0M443.9 64h0M458.4 58.8h0M461.3 61.9h0M459.6 58.4h0M453 79.3h0M446.9 61.6h0M453.1 63.1h0M445.9 79.8h0M446 75.7h0M444.9 68.8h0M455.9 64.2h0M454.7 78.3h0M455.7 65.1h0M459.3 61.6h0M450.1 75.1h0M451.8 59.3h0M459.7 61.3h0M454.8 72.4h0M455.4 66.2h0M453.3 78.7h0M442.6 64.1h0M444.7 64.1h0M447.2 70.3h0M454.9 60h0M455.6 67.3h0M445.3 79.8h0M444.5 71.7h0M450.9 61.6h0M442.7 71.9h0M454.3 64h0M456.1 66.5h0M447.7 78.9h0M443.4 68.9h0M451 60.9h0M443.7 75.5h0M442.8 69.4h0M462.3 58.3h0M446.7 70.9h0M453.1 71.8h0M459.6 59.2h0M449 62.6h0M458.1 67.1h0M458.1 66.7h0M449.5 74.7h0M457.4 61.7h0M454.1 66.3h0M459.1 68.6h0M448.1 71.8h0M448 60.9h0M458.2 63.3h0M461 63.4h0M447.5 79h0M455.7 73.2h0M452.4 77.2h0M451.7 74.1h0M454.5 62.8h0M447 71.3h0M444.7 79.6h0M457 71.6h0M457.1 74.4h0M443.9 70.4h0M450.1 76.6h0M443.9 77.9h0M455.8 76.8h0M455.8 62.3h0M458.4 60h0M449.2 65.9h0M448.4 73.8h0M450.2 63.2h0M443.2 65.6h0M451.7 75.4h0M449.8 73.5h0M453.8 60.3h0M460.6 57h0M459.7 59.1h0M442.6 67.8h0M452.8 76h0M446.4 67.9h0M449.8 77h0M448 80h0M448.5 60.3h0M457.2 68h0M444.8 71.7h0M444.2 75.8h0M455.7 64.1h0M450.9 65.2h0M461.2 56.8h0M461.2 55.2h0M446.8 61.6h0M450.5 78.4h0M447.4 66.9h0M453.7 74.9h0M458.3 72h0M449.8 63.3h0M445.8 77.3h0M456.4 74.5h0M446.1 66.3h0M458.7 70.1h0M445.1 67h0M461.1 60.9h0M446.5 62.6h0M447.7 63.3h0M453.5 58.8h0M449.4 59.6h0M444.6 64.9h0M457.9 66.2h0M446.6 71.7h0M450.9 75.9h0M457.1 68h0M455.8 67h0M445.5 70.8h0M451 74.5h0M454.6 74.7h0M451.3 60.7h0M456 66.8h0M449.1 71.5h0M444.6 65.8h0M455.7 61.3h0M451.4 66.8h0M455.6 65.6h0M446.3 72.2h0M458.8 65h0M452.8 80.8h0M443.3 69.2h0M445.9 75.6h0M444.6 70h0M453.9 73.9h0M453.3 71.8h0M459.9 68.6h0M451.1 80.1h0M446.9 73h0M450.7 75.1h0M448.3 65.3h0M442.8 65.8h0M451.3 73.4h0M449.9 61.7h0M447.2 74.5h0M447.1 76.1h0M450.7 60.2h0M445.2 75.5h0M452.4 69.7h0M447.2 80.5h0M449.9 71.7h0M452.3 62.4h0M454 57.9h0M460 64.1h0M460.4 61.7h0M450.4 61.3h0M451.4 59.5h0M442.6 74h0M448.4 61.1h0M448.8 67.4h0M451.5 71.7h0M456.3 64.3h0M443.7 76.9h0M445.4 76.9h0M456.3 61.3h0M447.4 75.5h0M446 78.6h0M455.3 75.6h0M446.6 73.2h0M453.6 74.5h0M451.7 78.3h0M454.2 61.6h0M452.3 58.4h0M452.8 68h0M453.8 77.8h0M452.3 69.7h0M450.4 65.8h0M462.7 56.5h0M455.9 71.7h0M443.1 71h0M449.4 81h0M453.2 67.6h0M461.3 55.4h0M457.6 71.4h0M449.6 77.8h0M450.2 67.3h0M453.5 75.3h0M446.9 66.3h0M451.4 69.5h0M459.9 62.4h0M459.9 65.4h0M453.1 61.8h0M453.1 80.8h0M456.2 75.9h0M449.4 63.1h0M448.8 70.3h0M455.8 75.7h0M443.3 74h0M443.5 62.6h0" stroke="#5aae3a" stroke-width="1.4" stroke-linecap="round"/>
<path d="M450.2 78.5h0M446.4 68.1h0M456.9 58.7h0M446.9 68.8h0M449 70h0M447.8 69.8h0M448.7 71.9h0M442.8 63.6h0M448.5 62.8h0M445.4 71.1h0M446.6 71.2h0M450.7 69.5h0M450 67.5h0M444.3 67.8h0M449.9 65.4h0M448.2 71.7h0M445.9 71.2h0M454.1 65.2h0M448.9 67.2h0M453.1 69.6h0M451.2 64.5h0M448.5 68h0M443.2 75.2h0M451.2 59.3h0M450.7 67.3h0M449.8 69.8h0M444 66.9h0M453 65.1h0M445.4 61.2h0M444.8 69.7h0M453.6 70.1h0M449.2 79.2h0M446.9 64.6h0M450.1 70.7h0M445.5 62.2h0M449.4 69.2h0M444.6 67h0M446.9 70.3h0M448.1 67.6h0M447.4 73.3h0" stroke="#a6cc3c" stroke-width="1.4" stroke-linecap="round"/>
<path d="M445.1 63.6h0M445.6 62.2h0M445.3 69.2h0M446.9 67.1h0M442.8 68.6h0M444 74.3h0M447.8 67.5h0M444.1 65.2h0M442.7 66.6h0M446.4 70.1h0" stroke="#e6d43c" stroke-width="1.4" stroke-linecap="round"/>
<path d="M443.5 64.1h0M439.4 68.9h0M445.5 66h0M439.5 69.2h0M441.4 67.2h0M446.1 70.5h0M439.9 75.1h0M441.5 69.1h0M439.6 65.8h0M436.3 73.1h0M445.6 61.1h0M437 59.5h0M445 64.2h0M441.3 64.7h0" stroke="#f0a040" stroke-width="1.4" stroke-linecap="round"/>
<path d="M441.9 75.8h0M439.3 65h0M438 76.2h0M434.1 68.1h0M443.6 74.8h0M440 74.9h0M440.6 65.3h0M434.4 67.9h0M443.3 68.3h0M436.8 67.3h0M434.5 70.4h0M435.8 72.7h0M437.7 61.7h0M442.6 69.7h0M441 68.8h0M442.8 74.6h0M442.4 72.6h0M444.8 74.2h0M441.6 61h0M443.2 77.3h0M438.9 68.7h0M447 62.6h0M441.7 82.6h0M436.7 74.3h0M446.8 70.4h0M442 75.3h0M436.7 70.6h0M441.1 75h0M439.9 70.1h0M436.3 69.3h0M443.2 71.5h0M436.9 67h0M442.3 58.6h0M442.2 73.3h0M446.1 73.1h0M439.8 73.5h0M433 76h0M441.2 67.6h0M444.8 79.7h0M435 67.8h0M441 71.9h0M438.6 66.3h0M447.6 76h0M435.7 64.5h0M446.1 75.7h0M446.6 74.9h0M436.9 72.3h0M432.2 67.4h0M439.8 73.5h0M437.4 70.4h0M441.7 72.8h0M442.3 72h0M438.8 74.8h0M440.2 67h0M437.7 71h0M439.6 71.8h0M440 71.8h0M439.5 65h0M441.5 76.1h0M441.6 70.1h0M441.6 66.4h0M433.2 71.3h0M436.7 74.6h0M436.1 58.4h0M436.3 78.6h0M438.6 64.4h0M437.3 73.5h0M441.8 71.8h0M445.3 74.4h0M439.9 73.9h0M446 75.7h0M443.7 65.8h0M439.5 74.5h0M438.9 76.1h0M442.1 75.4h0M439.2 83.2h0M444.5 70h0M440.3 83.5h0M438.8 75.2h0M443.5 71h0M435.8 71.9h0M441.3 76.4h0M442.8 71.1h0M443.1 73.6h0M440.7 71.3h0M439.1 74.3h0M436.2 68h0M440 64h0M438.4 61.4h0M437.5 73.7h0M442 70.7h0M439.2 64.2h0M446.6 73.5h0M443.9 66.8h0M439.3 62.3h0M442.8 75.5h0M433.2 70.7h0M442.3 62.5h0M433.4 65.9h0M437.7 64.3h0M440.1 72.2h0M442.3 74.4h0M445.4 76.6h0M435.3 68.6h0M436.2 65.8h0M439.7 71h0M441.8 63.4h0M435.5 70.9h0M439.3 69.5h0M439.8 67.4h0M442.5 72.7h0M439.7 67.8h0M436.5 71.2h0M434.6 72h0M440.5 64.4h0M439.1 69.5h0M441.7 73.9h0M439.9 66.9h0M439.5 70.7h0M442.6 72.4h0M437.4 64.5h0M438.7 67.4h0M436 70.4h0M438.2 71.5h0M441.9 69h0M448.4 69.5h0M444 71.6h0M444 59.6h0M437.3 72.2h0M442.2 82.2h0M435.7 58.7h0M434.6 58.2h0M446.8 55.1h0M444.8 58.1h0M445.8 59.6h0M436 61.2h0M439.8 54.2h0M432.6 57.9h0M439.3 56.4h0M434.6 56.8h0M437.2 60.7h0M432.5 60h0M445.1 55h0M446.4 59.7h0" stroke="#d84a30" stroke-width="1.4" stroke-linecap="round"/>
<path d="M437.7 71.3h0M437.8 67.6h0M435.4 68h0M442.2 70.9h0M441.9 70.1h0M439.8 69.8h0M433 72.8h0M440.2 71.2h0M432.9 61.2h0M435.6 66.9h0M439.5 68.8h0M440.2 66.1h0M439.5 70.8h0M436.3 76.7h0M440.3 74.4h0M436.5 65.7h0M437.4 68.5h0M440.6 70.1h0M437 64.7h0M436.8 74.5h0M435.8 70.1h0M439.9 62.3h0M438.7 74.9h0M438.1 65.3h0M440.1 68.7h0M433.7 72.7h0M440.7 73.3h0M443.3 70.6h0M438.9 63.2h0M440.5 66.2h0M437 63.3h0M435.3 66.6h0M442.8 59.9h0M433.7 70.1h0M443.3 71.6h0M439.7 65.7h0M434.8 73.4h0M442.1 69.7h0M439.3 71h0M443.8 71.8h0M440.2 71.5h0M433.3 74.8h0M441.7 71.4h0M441.3 60.8h0M437.9 73.6h0M434.2 76.2h0M440.3 68.3h0M439.6 71.9h0M438.9 74.2h0M436.3 67.1h0M441.9 69.1h0M435.6 73.3h0M443.3 67h0M433.9 68.4h0M438 67.7h0M443.1 64.4h0M442.7 63.3h0M435.9 71.8h0M442.2 72.9h0M439.6 69.6h0M439 71.6h0M437.9 70.2h0M440.4 69h0M441 71.5h0M445.1 70.5h0M437.1 67.3h0M438.5 73.2h0M437.4 70.7h0M434.8 70.1h0M439.8 70.1h0M437.1 71.9h0M439.4 66.7h0M446.5 70.6h0M436.7 68.6h0M437.8 68.7h0M441.8 63.7h0M438.3 73.3h0M441.3 75.7h0M432.9 67.4h0M437.4 71.8h0M442.1 62.5h0M440.8 62.3h0M439.1 74.4h0M438 69.9h0M441.1 69.6h0M438.2 75.9h0M442 67.7h0M441.5 67.8h0M438.9 72.2h0M439.2 71.9h0M433.5 62.2h0M440.5 64.7h0M435.1 62.4h0M442.7 72.4h0M443.4 64.8h0M438.5 63.9h0M441 76.2h0M435.6 76h0M441.8 68.2h0M438.2 66.3h0M439.8 70.8h0M443.4 64.4h0M442.2 75.7h0M443.3 68.2h0M436 73.6h0M438.9 69.6h0M443.2 67.8h0M432.4 72.7h0M439.5 66.2h0M438.5 72.7h0M438.8 75h0M438.3 73.7h0M443.4 76.2h0M436.3 73h0M432.3 64.1h0M432 73.8h0M434.4 68.9h0M437.9 68.9h0M436.5 70.1h0M444.4 69.2h0M438.1 32.5h0M437.2 32.7h0M437.5 31.8h0" stroke="#c2372a" stroke-width="1.4" stroke-linecap="round"/>
<circle cx="492.6" cy="25.5" r="1.3" fill="#8a2a1e"/>
<text x="496.2" y="28" font-size="7" fill="#333">LTHSC</text>
<circle cx="492.6" cy="34.5" r="1.3" fill="#e0553a"/>
<text x="496.2" y="37" font-size="7" fill="#333">STHSC</text>
<circle cx="492.6" cy="43.6" r="1.3" fill="#f0a040"/>
<text x="496.2" y="46.1" font-size="7" fill="#333">MPP1</text>
<circle cx="492.6" cy="52.6" r="1.3" fill="#ecd83c"/>
<text x="496.2" y="55.1" font-size="7" fill="#333">MPP2</text>
<circle cx="492.6" cy="61.7" r="1.3" fill="#a6cc3c"/>
<text x="496.2" y="64.2" font-size="7" fill="#333">MPP3</text>
<circle cx="492.6" cy="70.7" r="1.3" fill="#4aa838"/>
<text x="496.2" y="73.2" font-size="7" fill="#333">LMPP</text>
<circle cx="492.6" cy="79.7" r="1.3" fill="#52acd6"/>
<text x="496.2" y="82.2" font-size="7" fill="#333">GMP</text>
<circle cx="492.6" cy="88.8" r="1.3" fill="#6a3a98"/>
<text x="496.2" y="91.3" font-size="7" fill="#333">MEP</text>
<text x="1" y="156.5" font-size="11" font-weight="bold" fill="#000">C</text>
<rect x="35.5" y="158.5" width="110.5" height="110" fill="none" stroke="#222" stroke-width="1"/>
<line x1="11.5" y1="269.5" x2="11.5" y2="165.2" stroke="#222" stroke-width="1"/>
<path d="M9.7 166.7L11.5 163.2L13.3 166.7Z" fill="#222"/>
<text x="8.6" y="216.9" font-size="9.8" text-anchor="middle" font-style="italic" transform="rotate(-90 8.6 216.9)">CD45</text>
<line x1="32.9" y1="169.2" x2="35.5" y2="169.2" stroke="#222" stroke-width="0.8"/>
<text x="30.1" y="171.7" font-size="7" text-anchor="end">10<tspan dy="-2.6" font-size="4.5">5</tspan></text>
<line x1="32.9" y1="195.4" x2="35.5" y2="195.4" stroke="#222" stroke-width="0.8"/>
<text x="30.1" y="197.9" font-size="7" text-anchor="end">10<tspan dy="-2.6" font-size="4.5">4</tspan></text>
<line x1="32.9" y1="225.3" x2="35.5" y2="225.3" stroke="#222" stroke-width="0.8"/>
<text x="30.1" y="227.8" font-size="7" text-anchor="end">10<tspan dy="-2.6" font-size="4.5">3</tspan></text>
<line x1="32.9" y1="243" x2="35.5" y2="243" stroke="#222" stroke-width="0.8"/>
<text x="30.1" y="245.5" font-size="7" text-anchor="end">0</text>
<line x1="32.9" y1="261.2" x2="35.5" y2="261.2" stroke="#222" stroke-width="0.8"/>
<text x="30.1" y="263.7" font-size="7" text-anchor="end">−10<tspan dy="-2.6" font-size="4.5">3</tspan></text>
<line x1="34.1" y1="187.5" x2="35.5" y2="187.5" stroke="#222" stroke-width="0.5"/>
<line x1="34.1" y1="182.9" x2="35.5" y2="182.9" stroke="#222" stroke-width="0.5"/>
<line x1="34.1" y1="179.6" x2="35.5" y2="179.6" stroke="#222" stroke-width="0.5"/>
<line x1="34.1" y1="177.1" x2="35.5" y2="177.1" stroke="#222" stroke-width="0.5"/>
<line x1="34.1" y1="175" x2="35.5" y2="175" stroke="#222" stroke-width="0.5"/>
<line x1="34.1" y1="173.3" x2="35.5" y2="173.3" stroke="#222" stroke-width="0.5"/>
<line x1="34.1" y1="171.7" x2="35.5" y2="171.7" stroke="#222" stroke-width="0.5"/>
<line x1="34.1" y1="170.4" x2="35.5" y2="170.4" stroke="#222" stroke-width="0.5"/>
<line x1="34.1" y1="216.3" x2="35.5" y2="216.3" stroke="#222" stroke-width="0.5"/>
<line x1="34.1" y1="211" x2="35.5" y2="211" stroke="#222" stroke-width="0.5"/>
<line x1="34.1" y1="207.3" x2="35.5" y2="207.3" stroke="#222" stroke-width="0.5"/>
<line x1="34.1" y1="204.4" x2="35.5" y2="204.4" stroke="#222" stroke-width="0.5"/>
<line x1="34.1" y1="202" x2="35.5" y2="202" stroke="#222" stroke-width="0.5"/>
<line x1="34.1" y1="200" x2="35.5" y2="200" stroke="#222" stroke-width="0.5"/>
<line x1="34.1" y1="198.3" x2="35.5" y2="198.3" stroke="#222" stroke-width="0.5"/>
<line x1="34.1" y1="196.8" x2="35.5" y2="196.8" stroke="#222" stroke-width="0.5"/>
<line x1="42" y1="268.5" x2="42" y2="271.1" stroke="#222" stroke-width="0.8"/>
<text x="42" y="279.5" font-size="7" text-anchor="middle">−10<tspan dy="-2.6" font-size="4.5">3</tspan></text>
<line x1="62.5" y1="268.5" x2="62.5" y2="271.1" stroke="#222" stroke-width="0.8"/>
<text x="62.5" y="279.5" font-size="7" text-anchor="middle">0</text>
<line x1="79" y1="268.5" x2="79" y2="271.1" stroke="#222" stroke-width="0.8"/>
<text x="79" y="279.5" font-size="7" text-anchor="middle">10<tspan dy="-2.6" font-size="4.5">3</tspan></text>
<line x1="110" y1="268.5" x2="110" y2="271.1" stroke="#222" stroke-width="0.8"/>
<text x="110" y="279.5" font-size="7" text-anchor="middle">10<tspan dy="-2.6" font-size="4.5">4</tspan></text>
<line x1="136" y1="268.5" x2="136" y2="271.1" stroke="#222" stroke-width="0.8"/>
<text x="136" y="279.5" font-size="7" text-anchor="middle">10<tspan dy="-2.6" font-size="4.5">5</tspan></text>
<line x1="88.3" y1="268.5" x2="88.3" y2="269.9" stroke="#222" stroke-width="0.5"/>
<line x1="93.8" y1="268.5" x2="93.8" y2="269.9" stroke="#222" stroke-width="0.5"/>
<line x1="97.7" y1="268.5" x2="97.7" y2="269.9" stroke="#222" stroke-width="0.5"/>
<line x1="100.7" y1="268.5" x2="100.7" y2="269.9" stroke="#222" stroke-width="0.5"/>
<line x1="103.1" y1="268.5" x2="103.1" y2="269.9" stroke="#222" stroke-width="0.5"/>
<line x1="105.2" y1="268.5" x2="105.2" y2="269.9" stroke="#222" stroke-width="0.5"/>
<line x1="107" y1="268.5" x2="107" y2="269.9" stroke="#222" stroke-width="0.5"/>
<line x1="108.6" y1="268.5" x2="108.6" y2="269.9" stroke="#222" stroke-width="0.5"/>
<line x1="117.8" y1="268.5" x2="117.8" y2="269.9" stroke="#222" stroke-width="0.5"/>
<line x1="122.4" y1="268.5" x2="122.4" y2="269.9" stroke="#222" stroke-width="0.5"/>
<line x1="125.7" y1="268.5" x2="125.7" y2="269.9" stroke="#222" stroke-width="0.5"/>
<line x1="128.2" y1="268.5" x2="128.2" y2="269.9" stroke="#222" stroke-width="0.5"/>
<line x1="130.2" y1="268.5" x2="130.2" y2="269.9" stroke="#222" stroke-width="0.5"/>
<line x1="132" y1="268.5" x2="132" y2="269.9" stroke="#222" stroke-width="0.5"/>
<line x1="133.5" y1="268.5" x2="133.5" y2="269.9" stroke="#222" stroke-width="0.5"/>
<line x1="134.8" y1="268.5" x2="134.8" y2="269.9" stroke="#222" stroke-width="0.5"/>
<line x1="33.8" y1="283.3" x2="144.2" y2="283.3" stroke="#222" stroke-width="1"/>
<path d="M142.7 281.5L146.2 283.3L142.7 285.1Z" fill="#222"/>
<text x="89.8" y="293.7" font-size="9.3" text-anchor="middle" font-style="italic">EPCR</text>
<path d="M66 174.5C67.2 174.3 68.8 174.5 70 175C71.2 175.5 72.6 176.3 73.5 177.5C74.4 178.7 75 180.2 75.5 182C76 183.8 76.5 186.2 76.5 188C76.5 189.8 76.2 191.6 75.5 193C74.8 194.4 73.8 195.7 72.5 196.5C71.2 197.3 69.5 197.9 68 198C66.5 198.1 64.6 198 63.5 197C62.4 196 61.9 194 61.5 192C61.1 190 61 187.2 61 185C61 182.8 61.2 180.5 61.5 179C61.8 177.5 62.2 176.8 63 176C63.8 175.2 64.8 174.7 66 174.5Z" fill="#0f5226"/>
<path d="M63 214C64.5 213.7 68.1 213.2 70 213.5C71.9 213.8 73.3 214.6 74.5 216C75.7 217.4 76.2 219.8 77 222C77.8 224.2 78.5 226.3 79 229C79.5 231.7 79.9 234.8 80 238C80.1 241.2 80 245.2 79.5 248C79 250.8 78.2 253.2 77 255C75.8 256.8 73.5 257.7 72 259C70.5 260.3 69.3 262.5 68 263C66.7 263.5 65.3 263.2 64 262C62.7 260.8 61.1 258.3 60 256C58.9 253.7 58 251.3 57.5 248C57 244.7 56.9 239.7 57 236C57.1 232.3 57.6 228.8 58 226C58.4 223.2 59 220.8 59.5 219C60 217.2 60.4 216.3 61 215.5C61.6 214.7 61.5 214.3 63 214Z" fill="#0f5226"/>
<path d="M75.5 182.6h0M72.3 174.4h0M70 198.5h0M68.3 170.8h0M74.3 175.9h0M68.9 193.9h0M68.4 173.5h0M73.7 179.8h0M75.3 194.6h0M73.9 177.3h0M74.3 189.6h0M70.4 194.8h0M76.1 187h0M74.8 189.4h0M63.8 198.1h0M65.5 172.1h0M63.6 197.4h0M73.7 181h0M62.3 174.6h0M76.7 186.8h0M60.6 185.3h0M71.7 177.2h0M70.4 174.6h0M61.4 178.2h0M65.2 197.3h0M61.7 176.8h0M61 185.4h0M77.5 187.4h0M70.5 197.7h0M74.9 194h0M62.7 183.4h0M72.6 196.9h0M77.1 187.6h0M62.1 194.3h0M65 197.6h0M60.3 186.4h0M65.9 197.3h0M75.1 180h0M65.1 177.9h0M73.5 181.1h0M75.7 192.3h0M75.5 189.2h0M73.2 174.9h0M60.8 178.6h0M68.8 176.8h0M67.1 174.1h0M74.1 196h0M66.2 174.5h0M62.4 178.7h0M74.6 190.7h0M70.2 192.6h0M59.6 190h0M70.2 196.9h0M76.5 187.1h0M61.8 175.8h0M61.2 193.9h0M61.5 180.2h0M59.8 184.1h0M77.3 191h0M61.4 186.4h0M61.3 182h0M68.4 175.2h0M65.3 172.7h0M75.9 193.4h0M72.4 175.8h0M71.1 177.6h0M60.9 179.9h0M67.2 198.4h0M61.8 184.9h0M60 182.4h0M68.6 177.1h0M74.9 195.6h0M61.8 194.4h0M68.6 177.1h0M62.2 176.5h0M60.8 183.8h0M60.2 186.5h0M76.9 185.3h0M64.2 196.8h0M65.4 174.5h0M72.5 177h0M75.7 192.8h0M76.7 182.6h0M70.2 196.1h0M66.9 174.4h0M60.1 197.8h0M66.7 175.3h0M76.1 179.4h0M75.8 195.6h0M60.9 176.6h0M72.7 174.1h0M71.5 176h0M67.4 198h0M74.9 194.7h0M63.4 195.2h0M64.1 195h0M72.6 194.7h0M64.6 175.5h0M73.4 175.7h0M74.9 177.8h0M73.3 195.9h0M65.5 172.7h0M66.3 198.6h0M62.9 176.4h0M59.3 181h0M72.7 193.8h0M63.9 197.1h0M74.8 182.8h0M75.2 178.5h0M72.3 193.5h0M76.3 225.5h0M73.6 256.1h0M78.5 237.3h0M79.1 245.5h0M71.9 213h0M79.9 230.5h0M60.1 214.6h0M75.7 218.9h0M81.2 239.1h0M61.2 216.8h0M68.1 214.4h0M64.4 265.1h0M78.6 221.1h0M70.4 261.2h0M70.5 265h0M61.1 216.1h0M59.7 220.2h0M75.5 252.7h0M76.1 256h0M79.1 223h0M59.2 215.2h0M60.1 254.6h0M57.6 244.2h0M76.6 242.6h0M77.9 254.9h0M77 224.6h0M65.4 262h0M58.9 226.8h0M77.5 232.5h0M81 237.7h0M77.1 224.5h0M57.4 225.8h0M79.1 226.5h0M64.3 259.3h0M78.5 226.5h0M77.9 242.3h0M66.1 217.7h0M80.4 249.5h0M78.7 228.8h0M61.9 260h0M78.3 246h0M77.8 223.2h0M69.7 260.4h0M71.3 215.3h0M75.2 217.6h0M58.5 228.1h0M57.2 235.1h0M59 258.1h0M70.1 214h0M58.9 242.3h0M63.9 260.4h0M57.1 220.1h0M61.8 214.6h0M58.4 234.3h0M71.1 258.9h0M57.5 248.9h0M67.2 259h0M62.1 214.8h0M79 249.1h0M66.4 263.6h0M77.2 258.3h0M66.9 266h0M79.9 238.5h0M67.6 261.3h0M77.8 241.9h0M75.2 223.3h0M57.4 223.8h0M76.6 247.5h0M54 240.6h0M72.6 219.2h0M79.6 231.5h0M80.1 235.3h0M68.6 264.9h0M55.1 233.4h0M61.5 263.2h0M80 229.4h0M66.6 216h0M75.3 217.1h0M74.2 220.1h0M75.7 215.1h0M67.9 265.6h0M77.2 224.5h0M74.4 216h0M77.8 250.7h0M59.6 217.8h0M58.4 223.3h0M61.8 213.4h0M73.8 259.6h0M63.8 263.6h0M65.3 214.6h0M57.8 229.9h0M78.3 248.7h0M64.3 213.1h0M70.9 261h0M81.8 246.6h0M76 221.6h0M58.7 239.8h0M58.1 242.3h0M64.4 261.7h0M79.9 252.4h0M56.7 256.8h0M75.6 258.8h0M80.6 245.4h0M58.1 224.3h0M79 245.5h0M77.9 236.6h0M79.5 227.5h0M59.9 256.9h0M80.4 250.9h0M54.9 243.3h0M65.4 213.3h0M79.2 256.8h0M60 215.8h0M75.4 214.2h0M76.4 226h0M60.7 216.1h0M57.5 224.8h0M64.5 256.9h0M61.7 261.7h0M70.4 210.3h0M72.2 260.5h0M56.4 223.3h0M78.8 227.6h0M79.9 233.5h0M79.1 254.6h0M75.1 219.3h0M80.2 242.6h0M59.9 216.4h0M73.2 256h0M74 255h0M71.3 215.1h0M57.1 234.2h0M80.8 225.1h0M63.9 215.8h0M59 241.2h0M72.4 260.1h0M59.9 215h0M76.1 226.4h0M60.9 211.8h0M69.7 261.1h0M71.4 261.7h0M74.4 256.6h0M67.5 213.2h0M51.9 234.8h0M67.9 212.1h0M77.1 235h0M73.5 215.2h0M60.2 254.8h0M74.9 252.5h0M74.9 255.4h0M63.3 211.6h0M80.8 233.2h0M78.2 253.9h0M80.8 238.3h0M65.7 262.2h0M62.1 221.2h0M61.8 212.6h0M76.9 218.7h0M69.4 263.4h0M60.8 225.1h0M80.5 222.3h0M76.2 259.9h0M71.9 256.3h0M64.3 214.1h0M78.9 239.8h0M78.5 236h0M70.6 263.7h0M57.9 251.7h0M77.3 223.6h0M63 264.4h0M57.3 219.9h0M76.2 217.4h0M80.8 221.8h0M57.5 249.7h0M59 231h0M79.6 246.9h0M58.5 221.4h0M56.2 247.9h0M76.8 224.8h0M59.4 217.4h0M74.6 223.7h0M69 261.8h0M79.8 243.3h0M58.7 237.6h0M78 225.2h0M56.4 242.1h0M67.4 261.4h0M59.6 216.1h0M70.7 260.2h0M62.9 213.4h0M84.3 251.7h0M77.4 252.2h0M76 257.9h0M58.4 222.2h0M77.5 219.8h0M55.4 228.3h0M70.4 257.5h0M52.1 237.3h0M55.9 225.7h0M75.1 216.1h0M77 224.5h0M58.7 220.1h0M75.1 217.8h0M80.6 235.9h0M74 218.5h0M76.6 222.3h0M56.8 242.4h0M74.6 256.3h0M61.9 217.6h0M78.6 232.9h0M77.6 216.7h0M75.1 258.5h0M73.8 257.7h0M57.5 226.7h0M74.4 258.5h0M56.9 251.7h0M59 245.2h0M66.2 211.3h0M59.6 260h0M81.3 252.1h0M67.9 196h0M71.2 201.2h0M63.7 208.7h0M61.4 204.9h0M66.4 200.1h0M61.4 206.7h0M62 200h0M63.5 202.2h0M66.1 203h0M68.4 210.6h0M64.9 210.6h0M65.9 198.3h0M67 197.9h0M64.9 201h0M64 213.7h0M66.7 214.8h0M65.7 209.9h0M73.2 207.2h0M66.7 215.1h0M76.3 196.3h0M65.4 200h0M69.9 204.6h0M67.7 212.7h0M66.5 202.2h0M75.1 201.4h0M67.7 200.2h0M69.7 198.4h0M69.4 199.6h0M67 204.9h0M72 202.1h0M60.5 210.5h0M65.9 202.9h0M72.9 207.2h0M63.7 205.5h0M66 213.7h0M68.8 208.2h0M74.1 213.7h0M72 196.7h0M66.1 206.7h0M64.3 212.7h0M64.4 209.3h0M70.6 199.8h0M64.2 215.7h0M64.1 199.8h0M66.7 201.5h0M65.9 198.4h0M69.8 199.5h0M70.7 211.9h0M71.4 213.2h0M70 198.5h0M68.3 205.4h0M73.3 214.6h0M65 215.2h0M70.3 202.9h0M74.8 200h0M65.3 206.9h0M68.8 213h0M66.3 211.5h0M67 198h0M61.9 215.2h0M72.3 210.5h0M71 202.3h0M65.4 211h0M63.4 196.9h0M70.4 212.1h0M65.5 205.4h0M68.2 206.9h0M64 196.5h0M65.5 213.2h0M67.1 209.5h0M57.8 214.9h0M71.7 215.1h0M72.2 210.6h0M69.9 208.1h0M75.6 204.8h0M67.9 207.9h0M68.2 196.6h0M64.2 214.5h0M66.9 198.7h0M68.1 215.9h0M66.8 198.9h0M64.4 214h0M64.4 198.6h0M62.7 204.3h0M67.3 204.4h0M66.9 197.1h0M68.8 215.1h0M67 212.8h0M66.9 209.9h0M65.9 205.9h0M64.9 206.2h0M67.1 212h0M72.3 204.4h0M72.7 201.3h0M67.3 208.9h0M71.2 207.4h0M70.5 206.3h0M64.1 215.8h0M67.2 202.6h0M67.7 202.3h0M69.8 196.7h0M69.8 214.4h0M59.2 209.9h0M67.8 210.6h0M67.2 210.6h0M63.8 200.1h0M62.2 211.5h0M65.3 199.4h0M63.1 212.1h0M72.9 215.6h0M68.9 198.1h0M68.8 210.5h0M66.8 211.6h0M61.5 206.3h0M59.1 209h0M63.7 209.1h0M63.2 211.1h0M64.7 207.5h0M69.8 204.4h0M69.9 204.6h0M63.7 203.8h0M65.7 204.5h0M60 197.8h0M74.3 196.3h0M66.3 205h0M63.3 207.8h0M65.1 196.3h0M69.1 213.5h0M69.9 205.3h0M65.8 202.5h0M74.5 212.7h0M69.9 200.8h0M66.8 211.9h0M72.9 205.4h0M64.9 212h0M68.8 213.3h0M68.2 207.9h0M65.5 215.7h0M66.1 198.9h0M62.9 197.2h0M66.8 212.2h0M65.6 209.3h0M59.1 214.7h0M68.3 208.3h0M71.1 204.4h0M70 201h0M72.5 198.4h0M64.3 200.6h0M64.3 202.5h0M71.1 204.8h0M67.9 210.4h0M64.8 202.6h0M75.8 202.5h0M63.8 208.1h0M70 208.5h0M69.5 208.8h0M66.5 198.5h0M67.8 207.2h0M68.5 208.4h0M69.9 214h0M64.1 207.7h0M66.7 201.5h0M67.4 201.2h0M64.8 204.8h0M68.9 199.8h0M65.8 198.6h0M67.8 203.9h0M70.3 211.2h0M63.5 203.9h0M69.5 211.5h0M81.3 186.5h0M81.4 183h0M81.8 188.5h0M79.8 185.6h0M76.9 180.7h0M81.2 185.2h0M79.9 187.2h0M78.7 182.1h0M76.2 184.7h0M79.8 188.9h0M75 192.2h0M78 179.4h0M76.8 182.2h0M80.8 189h0M77.3 183h0M77 183.6h0M77.4 193.8h0M80.5 192h0M81.2 191.1h0M75.8 178.9h0M76.2 183.2h0M78.7 194.4h0M79.1 186.6h0M76.7 197.6h0M80.3 184.8h0M75.3 197.6h0M76.8 195h0M75.8 191.1h0M77.5 195.8h0M77.1 180h0M85.8 187.4h0M104.2 181.3h0M105.8 185.2h0M80.7 187.2h0M117.4 187.3h0M92.3 186.3h0M85.3 182.5h0M88 187.2h0M84.3 184.3h0M98.9 183.9h0M85 186.4h0M84.7 185.3h0M87.7 184h0M100.7 185.4h0M107.5 186.8h0M78.4 184.9h0M111.5 186.7h0M83.3 186.1h0M102.6 185.7h0M90 184.9h0M112.3 185h0M105.9 184.7h0M110.1 184.6h0M104.9 186h0M91 186.4h0M94.5 186.4h0M82.6 184.4h0M100.6 186.9h0M94.6 185.9h0M91.5 185.1h0M115.5 187.6h0M109 182.7h0M100 186h0M82.1 183.9h0M88.3 188.5h0M91.1 187.6h0M94.7 184.9h0M106.7 185.3h0M110.2 186.3h0M90.9 182.6h0M83.4 186.1h0M93.2 183.2h0M92 187.4h0M96.9 188.1h0M110.8 184.6h0M99 186.8h0M108.2 186.5h0M106.2 184.4h0M94.6 187.4h0M100.7 183.5h0M92.9 185.2h0M110.4 188.6h0M90.4 186.7h0M116.6 185.8h0M78.3 186.7h0M100.7 183.7h0M100.1 183.8h0M80.8 187h0M115 186h0M105.4 186h0M104.1 186.3h0M115.4 182.9h0M78.9 187.2h0M109.5 185.4h0M83.7 183.2h0M83.9 185.3h0M99.6 187.7h0M94.3 184.1h0M97.7 184.9h0M109.7 189.4h0M105.7 184.6h0M98 188h0M110.3 183.2h0M105.9 187.9h0M96.5 183h0M99.7 184.5h0M116.5 188.6h0M107 185.6h0M98.1 186.1h0M91.8 185h0M107 186.1h0M117.8 183.8h0M104.4 186.3h0M80.1 186.2h0M101.3 185h0M96.4 186.8h0M80.2 188.5h0M100.9 183.9h0M96.2 184.9h0M92.2 187.7h0M117.1 187.7h0M111.4 184.6h0M80.1 187h0M82.5 186.9h0M95.3 188.7h0M116.4 185h0M86.8 185.9h0M89.1 186.1h0M79.2 184.6h0M105.4 185.2h0M101 184.4h0M107.8 184.6h0M106 185h0M97 183.9h0M89.6 187.5h0M103.2 185.9h0M85.2 188h0M112.4 182.8h0M111 184.3h0M89 185.9h0M98.4 183h0M100.6 186.6h0M96.1 187.4h0M97.2 186.2h0M103.5 185.6h0M105.3 185.9h0M98.5 187.2h0M109.1 186.2h0M101.2 186.1h0M89 186h0M116.4 186.2h0M105.4 187.2h0M108.7 186.5h0M105.2 186.3h0M116.7 187h0M99.2 188h0M94.1 187.7h0M115.5 185.3h0M103.9 185.9h0M100.6 186.3h0M85.5 187.9h0M99.8 187.6h0M95.5 186.1h0M97.4 184.8h0M113 188h0M109.7 187.3h0M97.7 187h0M121.6 188.5h0M102.4 185.2h0M105.1 183.4h0M107.7 185.8h0M98.7 187.9h0M111.3 186.3h0M93.5 184.5h0M92.5 187.3h0M102.7 185.8h0M101 186.3h0M91.1 186.1h0M109.6 188.7h0M95.8 186.8h0M76.6 188.1h0M79.8 186.1h0M84 188.6h0M81.6 187.7h0M82.1 180.4h0M81.4 184.7h0M85 186.2h0M77.7 184.3h0M83.2 186.4h0M80.3 190h0M82 185.8h0M84.1 188.1h0M81.7 187.3h0M71.9 189.3h0M78.8 188.3h0M78.2 186.3h0M76.2 188.7h0M77.6 190.8h0M80.6 187.3h0M77.7 183.6h0M81.2 185.3h0M79.9 181.5h0M78.9 187.1h0M76.1 182.7h0M76.7 186.6h0M78.4 182.2h0M78.3 186.9h0M76.3 186.9h0M87.7 180.1h0M77.5 185.1h0M80.7 190.2h0M79.8 183.7h0M75.8 175.4h0M74.5 190.5h0M76 187.7h0M81.4 184.5h0M75.1 193.1h0M82.4 187h0M75.1 186.7h0M75.3 180.9h0M79.9 185.9h0M80.7 186.4h0M79.4 186.3h0M75.8 185.3h0M81.7 191.6h0M73.5 189.9h0M77.4 189.3h0M77.7 185.4h0M80.1 185.7h0M80 188.6h0M83.3 230h0M83.1 239.9h0M85.7 249h0M74.3 245.7h0M74.3 243.1h0M90.2 236.7h0M86.1 230h0M78.1 232.7h0M88.2 242.1h0M75.7 225.5h0M77.5 245.3h0M84.4 232.1h0M83.5 239.1h0M77.9 241h0M89.7 235h0M79.2 237.2h0M76.9 240.4h0M77.6 220h0M81.2 220.8h0M79.6 239.1h0M87 248.6h0M81.9 227.4h0M80 257.6h0M82.2 244.1h0M93.3 238.3h0M81.1 225.5h0M87.6 236.6h0M90.5 226.6h0M86.2 246.2h0M79.7 246.8h0M84 242h0M76.3 246.8h0M78.7 222.4h0M82.3 232.4h0M83.7 224.7h0M74.4 233.5h0M77.2 236.4h0M82.5 242.9h0M80.1 240.2h0M77.3 222.1h0M76.5 233.5h0M77.4 219.6h0M76.4 233.1h0M74.4 234h0M78.7 243.6h0M83.7 227.4h0M81.8 235.5h0M78.5 249.9h0M83 241.1h0M73.4 235.1h0M84.5 230.9h0M74.7 227.9h0M80.1 228.7h0M93 238.1h0M79.7 233h0M81.7 242.6h0M77.6 233.6h0M84.8 239.5h0M82.9 238.3h0M76.5 242.6h0M66.6 265h0M65.1 267.2h0M63.4 266.2h0M64.8 265.4h0M66.7 261.5h0M64.8 265h0M63.7 265.5h0M66.8 260.2h0M66.7 267h0M64.1 264.5h0M63.7 261.9h0M63.6 263.3h0M65.3 265.2h0M67.1 260.7h0M65.7 264.4h0M65.1 263.5h0M64.2 266.4h0M67.4 261.4h0M66 262.9h0M66.4 264.2h0M62.3 263.3h0M65.2 267.4h0M67.9 267.6h0M65.4 266.2h0M63.4 262.7h0M67 261.7h0M65.6 268h0M65.7 266.6h0M65.5 265.8h0M64.5 264.1h0M87.5 245.7h0M92.5 223.1h0M85.5 244.6h0M93.6 225.2h0M96.4 231.6h0M93.4 243.2h0M89.4 259.9h0M90.3 238.9h0M92.6 255.6h0M99.8 252.8h0M120 180h0M103 251h0M89 215h0M92 220h0M97 239h0M101 237h0M95 228h0" stroke="#0c4a20" stroke-width="1.45" stroke-linecap="round"/>
<rect x="82.7" y="168.5" width="61.2" height="30.6" fill="none" stroke="#b5163c" stroke-width="1.7"/>
<line x1="136.5" y1="182" x2="154.3" y2="182" stroke="#1e4f8a" stroke-width="1.6"/>
<path d="M151.3 179L156.3 182L151.3 185Z" fill="#1e4f8a"/>
<text x="120" y="208.3" font-size="7.2" text-anchor="middle">E-SLAM</text>
<text x="120" y="216.5" font-size="7.2" text-anchor="middle">1.18</text>
<rect x="191.9" y="161.7" width="106.5" height="106" fill="none" stroke="#222" stroke-width="1"/>
<line x1="167.5" y1="269" x2="167.5" y2="165.7" stroke="#222" stroke-width="1"/>
<path d="M165.7 167.2L167.5 163.7L169.3 167.2Z" fill="#222"/>
<text x="163.8" y="217" font-size="9.8" text-anchor="middle" font-style="italic" transform="rotate(-90 163.8 217)">vWF</text>
<line x1="189.3" y1="171.5" x2="191.9" y2="171.5" stroke="#222" stroke-width="0.8"/>
<text x="186.5" y="174" font-size="7" text-anchor="end">10<tspan dy="-2.6" font-size="4.5">5</tspan></text>
<line x1="189.3" y1="197.8" x2="191.9" y2="197.8" stroke="#222" stroke-width="0.8"/>
<text x="186.5" y="200.3" font-size="7" text-anchor="end">10<tspan dy="-2.6" font-size="4.5">4</tspan></text>
<line x1="189.3" y1="227.2" x2="191.9" y2="227.2" stroke="#222" stroke-width="0.8"/>
<text x="186.5" y="229.7" font-size="7" text-anchor="end">10<tspan dy="-2.6" font-size="4.5">3</tspan></text>
<line x1="189.3" y1="243" x2="191.9" y2="243" stroke="#222" stroke-width="0.8"/>
<text x="186.5" y="245.5" font-size="7" text-anchor="end">0</text>
<line x1="189.3" y1="261.8" x2="191.9" y2="261.8" stroke="#222" stroke-width="0.8"/>
<text x="186.5" y="264.3" font-size="7" text-anchor="end">−10<tspan dy="-2.6" font-size="4.5">3</tspan></text>
<line x1="190.5" y1="189.9" x2="191.9" y2="189.9" stroke="#222" stroke-width="0.5"/>
<line x1="190.5" y1="185.3" x2="191.9" y2="185.3" stroke="#222" stroke-width="0.5"/>
<line x1="190.5" y1="182" x2="191.9" y2="182" stroke="#222" stroke-width="0.5"/>
<line x1="190.5" y1="179.4" x2="191.9" y2="179.4" stroke="#222" stroke-width="0.5"/>
<line x1="190.5" y1="177.3" x2="191.9" y2="177.3" stroke="#222" stroke-width="0.5"/>
<line x1="190.5" y1="175.6" x2="191.9" y2="175.6" stroke="#222" stroke-width="0.5"/>
<line x1="190.5" y1="174" x2="191.9" y2="174" stroke="#222" stroke-width="0.5"/>
<line x1="190.5" y1="172.7" x2="191.9" y2="172.7" stroke="#222" stroke-width="0.5"/>
<line x1="190.5" y1="218.3" x2="191.9" y2="218.3" stroke="#222" stroke-width="0.5"/>
<line x1="190.5" y1="213.2" x2="191.9" y2="213.2" stroke="#222" stroke-width="0.5"/>
<line x1="190.5" y1="209.5" x2="191.9" y2="209.5" stroke="#222" stroke-width="0.5"/>
<line x1="190.5" y1="206.7" x2="191.9" y2="206.7" stroke="#222" stroke-width="0.5"/>
<line x1="190.5" y1="204.3" x2="191.9" y2="204.3" stroke="#222" stroke-width="0.5"/>
<line x1="190.5" y1="202.4" x2="191.9" y2="202.4" stroke="#222" stroke-width="0.5"/>
<line x1="190.5" y1="200.6" x2="191.9" y2="200.6" stroke="#222" stroke-width="0.5"/>
<line x1="190.5" y1="199.1" x2="191.9" y2="199.1" stroke="#222" stroke-width="0.5"/>
<line x1="198.3" y1="267.7" x2="198.3" y2="270.3" stroke="#222" stroke-width="0.8"/>
<text x="198.3" y="279" font-size="7" text-anchor="middle">−10<tspan dy="-2.6" font-size="4.5">3</tspan></text>
<line x1="219" y1="267.7" x2="219" y2="270.3" stroke="#222" stroke-width="0.8"/>
<text x="219" y="279" font-size="7" text-anchor="middle">0</text>
<line x1="234.3" y1="267.7" x2="234.3" y2="270.3" stroke="#222" stroke-width="0.8"/>
<text x="234.3" y="279" font-size="7" text-anchor="middle">10<tspan dy="-2.6" font-size="4.5">3</tspan></text>
<line x1="266" y1="267.7" x2="266" y2="270.3" stroke="#222" stroke-width="0.8"/>
<text x="266" y="279" font-size="7" text-anchor="middle">10<tspan dy="-2.6" font-size="4.5">4</tspan></text>
<line x1="292" y1="267.7" x2="292" y2="270.3" stroke="#222" stroke-width="0.8"/>
<text x="292" y="279" font-size="7" text-anchor="middle">10<tspan dy="-2.6" font-size="4.5">5</tspan></text>
<line x1="243.8" y1="267.7" x2="243.8" y2="269.1" stroke="#222" stroke-width="0.5"/>
<line x1="249.4" y1="267.7" x2="249.4" y2="269.1" stroke="#222" stroke-width="0.5"/>
<line x1="253.4" y1="267.7" x2="253.4" y2="269.1" stroke="#222" stroke-width="0.5"/>
<line x1="256.5" y1="267.7" x2="256.5" y2="269.1" stroke="#222" stroke-width="0.5"/>
<line x1="259" y1="267.7" x2="259" y2="269.1" stroke="#222" stroke-width="0.5"/>
<line x1="261.1" y1="267.7" x2="261.1" y2="269.1" stroke="#222" stroke-width="0.5"/>
<line x1="262.9" y1="267.7" x2="262.9" y2="269.1" stroke="#222" stroke-width="0.5"/>
<line x1="264.5" y1="267.7" x2="264.5" y2="269.1" stroke="#222" stroke-width="0.5"/>
<line x1="273.8" y1="267.7" x2="273.8" y2="269.1" stroke="#222" stroke-width="0.5"/>
<line x1="278.4" y1="267.7" x2="278.4" y2="269.1" stroke="#222" stroke-width="0.5"/>
<line x1="281.7" y1="267.7" x2="281.7" y2="269.1" stroke="#222" stroke-width="0.5"/>
<line x1="284.2" y1="267.7" x2="284.2" y2="269.1" stroke="#222" stroke-width="0.5"/>
<line x1="286.2" y1="267.7" x2="286.2" y2="269.1" stroke="#222" stroke-width="0.5"/>
<line x1="288" y1="267.7" x2="288" y2="269.1" stroke="#222" stroke-width="0.5"/>
<line x1="289.5" y1="267.7" x2="289.5" y2="269.1" stroke="#222" stroke-width="0.5"/>
<line x1="290.8" y1="267.7" x2="290.8" y2="269.1" stroke="#222" stroke-width="0.5"/>
<line x1="191" y1="284" x2="300" y2="284" stroke="#222" stroke-width="1"/>
<path d="M298.5 282.2L302 284L298.5 285.8Z" fill="#222"/>
<text x="246.3" y="293.9" font-size="10" text-anchor="middle" font-style="italic">iA/iE MHCII</text>
<line x1="247.4" y1="161.7" x2="247.4" y2="267.7" stroke="#222" stroke-width="1.15"/>
<line x1="191.9" y1="220.8" x2="298.4" y2="220.8" stroke="#222" stroke-width="1.15"/>
<text x="194" y="168.2" font-size="6.8">1</text>
<text x="194" y="176.8" font-size="6.8">18.2</text>
<text x="296" y="168.2" font-size="6.8" text-anchor="end">2</text>
<text x="296" y="176.8" font-size="6.8" text-anchor="end">1.82</text>
<text x="194" y="253.4" font-size="6.8">4</text>
<text x="194" y="263.4" font-size="6.8">60.5</text>
<text x="296" y="253.4" font-size="6.8" text-anchor="end">3</text>
<text x="296" y="263.4" font-size="6.8" text-anchor="end">19.5</text>
<path d="M207.5 181.5C207.9 179 209.6 175.7 211 174C212.4 172.3 214.3 172.4 216 171.5C217.7 170.6 219.3 169.5 221 168.5C222.7 167.5 224.2 166.3 226 165.5C227.8 164.7 230.2 163.5 232 163.5C233.8 163.5 235.3 164.2 236.5 165.5C237.7 166.8 238.1 168.8 239 171C239.9 173.2 240.5 176.3 242 178.5C243.5 180.7 246.6 181.9 248 184C249.4 186.1 250.8 189 250.5 191C250.2 193 247.8 194.8 246 196C244.2 197.2 241.5 197.2 240 198.5C238.5 199.8 237.1 201.9 237 204C236.9 206.1 239.2 208.3 239.5 211C239.8 213.7 238.6 216.5 238.5 220C238.4 223.5 238.6 228.2 239 232C239.4 235.8 239 240.7 241 243C243 245.3 248.8 244.5 251 246C253.2 247.5 252 250.3 254.5 252C257 253.7 261.1 254.9 266 256C270.9 257.1 280.3 257.1 284 258.3C287.7 259.5 288.7 261.7 288 263C287.3 264.3 286.3 265.7 280 266.3C273.7 266.9 260 266.8 250 266.8C240 266.9 227 266.8 220 266.6C213 266.4 210.3 267.1 208 265.5C205.7 263.9 206.1 260.4 206 257C205.9 253.6 206.7 248.1 207.5 245C208.3 241.9 208.9 239.9 211 238.5C213.1 237.1 217.2 237.2 220 236.5C222.8 235.8 226.5 235.8 228 234C229.5 232.2 228.7 229.3 229 226C229.3 222.7 230.5 217.2 230 214C229.5 210.8 228 209.1 226 207C224 204.9 220.3 203.2 218 201.5C215.7 199.8 213.6 198.6 212 196.5C210.4 194.4 209.2 191.5 208.5 189C207.8 186.5 207.1 184 207.5 181.5Z" fill="none" stroke="#7888a0" stroke-width="0.65"/>
<path d="M210.5 182C210.8 180 211.6 177.6 213 176C214.4 174.4 216.8 173.8 219 172.5C221.2 171.2 223.8 169.1 226 168C228.2 166.9 230.4 166 232 166C233.6 166 234.6 166.7 235.5 168C236.4 169.3 236.8 171.8 237.5 174C238.2 176.2 238.7 179 240 181C241.3 183 244.3 184.3 245.5 186C246.7 187.7 247.4 189.7 247 191C246.6 192.3 244.6 193.1 243 194C241.4 194.9 238.9 195.2 237.5 196.5C236.1 197.8 234.7 199.8 234.5 202C234.3 204.2 236.3 206.8 236.5 210C236.7 213.2 235.6 217.3 235.5 221C235.4 224.7 235.5 228.1 236 232C236.5 235.9 236.3 241.8 238.5 244.5C240.7 247.2 246.7 246.9 249 248.5C251.3 250.1 250 252.4 252.5 254C255 255.6 259.1 256.9 264 258C268.9 259.1 278.7 259.5 282 260.5C285.3 261.5 286 263.1 284 264C282 264.9 277.3 265.5 270 265.8C262.7 266.1 249.3 266.1 240 266C230.7 265.9 219.1 266.7 214 265.5C208.9 264.3 210.2 262.1 209.5 259C208.8 255.9 209.2 250.1 210 247C210.8 243.9 211.7 241.8 214 240.5C216.3 239.2 221.2 239.8 224 239C226.8 238.2 229.7 238.2 231 236C232.3 233.8 231.7 229.7 232 226C232.3 222.3 233.5 217.7 233 214C232.5 210.3 231.2 206.5 229 204C226.8 201.5 222.5 200.7 220 199C217.5 197.3 215.5 195.8 214 194C212.5 192.2 211.6 190 211 188C210.4 186 210.2 184 210.5 182Z" fill="none" stroke="#7888a0" stroke-width="0.6"/>
<path d="M205.5 183C205.6 179.4 206.9 175.2 209.5 172.5C212.1 169.8 217.8 167.9 221 166.5C224.2 165.1 226.5 163.9 229 163.8C231.5 163.7 234.2 164.1 236 166C237.8 167.9 238 172.2 239.5 175C241 177.8 243.8 180.1 245 182.5C246.2 184.9 247.3 187.7 246.5 189.5C245.7 191.3 242.2 192.3 240 193.5C237.8 194.7 235.2 194.6 233.5 196.5C231.8 198.4 231.1 203.8 229.5 205C227.9 206.2 226.2 204.5 224 203.5C221.8 202.5 218.5 200.6 216 199C213.5 197.4 210.8 196.7 209 194C207.2 191.3 205.4 186.6 205.5 183Z" fill="none" stroke="#7888a0" stroke-width="0.6"/>
<path d="M208.5 184C208.2 181 209.9 177.8 212 175.5C214.1 173.2 218.2 171.5 221 170C223.8 168.5 226.3 166.8 228.5 166.5C230.7 166.2 232.7 166.8 234 168.5C235.3 170.2 235.2 174.3 236.5 177C237.8 179.7 241.2 182.3 241.5 184.5C241.8 186.7 240.2 188.8 238.5 190C236.8 191.2 233.6 190.9 231 192C228.4 193.1 225.8 196.2 223 196.5C220.2 196.8 216.4 195.6 214 193.5C211.6 191.4 208.8 187 208.5 184Z" fill="none" stroke="#7888a0" stroke-width="0.6"/>
<path d="M229 168C229.7 167 231 165.7 232 165.8C233 165.9 234.5 166.9 235 168.5C235.5 170.1 235.5 173.3 235 175.5C234.5 177.7 233.1 180.9 232 181.5C230.9 182.1 229.2 180.6 228.5 179C227.8 177.4 227.7 173.8 227.8 172C227.9 170.2 228.3 169 229 168Z" fill="none" stroke="#7888a0" stroke-width="0.6"/>
<path d="M220.3 185.6C220.3 186.1 220.1 186.7 219.8 187.1C219.5 187.6 219.1 188 218.6 188.3C218.1 188.6 217.5 188.8 216.9 188.8C216.3 188.8 215.7 188.7 215.2 188.5C214.7 188.2 214.3 187.7 214 187.3C213.7 186.8 213.5 186.1 213.5 185.6C213.5 185.1 213.7 184.5 214 184.1C214.3 183.6 214.7 183.2 215.2 182.9C215.7 182.6 216.3 182.4 216.9 182.4C217.5 182.4 218.1 182.5 218.6 182.7C219.1 183 219.5 183.5 219.8 183.9C220.1 184.4 220.3 185.1 220.3 185.6Z" fill="none" stroke="#7888a0" stroke-width="0.6"/>
<path d="M222.6 185.6C222.6 186.5 222.3 187.5 221.8 188.2C221.3 189 220.6 189.6 219.7 190.1C218.9 190.6 217.8 190.9 216.9 191C216 191.1 214.9 190.9 214.1 190.4C213.2 190 212.5 189.2 212 188.4C211.5 187.6 211.2 186.5 211.2 185.6C211.2 184.7 211.5 183.7 212 183C212.5 182.2 213.2 181.6 214.1 181.1C214.9 180.6 216 180.3 216.9 180.2C217.8 180.1 218.9 180.3 219.7 180.8C220.6 181.2 221.3 182 221.8 182.8C222.3 183.6 222.6 184.7 222.6 185.6Z" fill="none" stroke="#7888a0" stroke-width="0.6"/>
<path d="M224.9 185.6C224.9 186.9 224.5 188.2 223.8 189.3C223.1 190.3 222 191.3 220.9 192C219.7 192.6 218.2 193.1 216.9 193.2C215.6 193.3 214.1 193 212.9 192.4C211.8 191.8 210.7 190.7 210 189.5C209.3 188.4 208.9 186.9 208.9 185.6C208.9 184.3 209.3 183 210 181.9C210.7 180.9 211.8 179.9 212.9 179.2C214.1 178.6 215.6 178.1 216.9 178C218.2 177.9 219.7 178.2 220.9 178.8C222 179.4 223.1 180.5 223.8 181.7C224.5 182.8 224.9 184.3 224.9 185.6Z" fill="none" stroke="#7888a0" stroke-width="0.6"/>
<path d="M231 167.5C231.7 167.2 232.8 168.8 233.2 170C233.6 171.2 233.7 173.4 233.5 175C233.3 176.6 232.7 179 232 179.5C231.3 180 230 179.2 229.5 178C229 176.8 228.6 173.8 228.8 172C229.1 170.2 230.3 167.8 231 167.5Z" fill="none" stroke="#7888a0" stroke-width="0.6"/>
<path d="M228.5 186.5C228.7 185.3 229.7 185.1 230.5 186C231.3 186.9 232.9 190.1 233.5 192C234.1 193.9 234.2 196.4 234 197.5C233.8 198.6 232.8 199.2 232 198.5C231.2 197.8 230.1 195 229.5 193C228.9 191 228.3 187.7 228.5 186.5Z" fill="none" stroke="#7888a0" stroke-width="0.6"/>
<path d="M230.8 222C231.2 221.2 232.5 221.1 233 221.5C233.5 221.9 234.1 223.6 234 224.5C233.9 225.4 233.1 226.8 232.5 227C231.9 227.2 230.8 226.8 230.5 226C230.2 225.2 230.4 222.8 230.8 222Z" fill="none" stroke="#7888a0" stroke-width="0.6"/>
<path d="M254.5 239.3C254.5 238.1 254.8 236.4 255.5 235.8C256.2 235.2 257.7 235.2 258.5 235.8C259.3 236.4 260.5 238.1 260.5 239.3C260.5 240.5 259.3 242.2 258.5 242.8C257.7 243.4 256.2 243.4 255.5 242.8C254.8 242.2 254.5 240.5 254.5 239.3Z" fill="none" stroke="#7888a0" stroke-width="0.6"/>
<path d="M210.7 242.4C212.1 241 215.9 241.7 218.4 241.5C221 241.3 223.8 241 226.2 241.1C228.7 241.1 231.3 241.1 233.1 241.6C234.9 242 235.7 242.8 236.9 243.9C238.1 245 238.2 246.9 240.4 248C242.7 249.1 247.9 249.5 250.2 250.8C252.6 252.1 251.8 254.4 254.4 255.8C257.1 257.1 261.5 258.1 266 259C270.5 259.9 278.5 260.3 281.3 261.3C284.1 262.2 285.6 263.8 282.8 264.6C280 265.3 272.5 265.7 264.7 265.9C256.8 266.2 244.2 266.2 235.6 266.1C226.9 266.1 216.9 266.9 212.7 265.8C208.5 264.7 210.9 262.1 210.4 259.6C210 257 210 253.1 210.1 250.3C210.1 247.4 209.3 243.9 210.7 242.4Z" fill="none" stroke="#7888a0" stroke-width="0.55"/>
<path d="M211.3 244.4C212.7 243 216.4 243.7 218.9 243.5C221.4 243.3 224.1 243.1 226.4 243.1C228.8 243.1 231.4 243.2 233.2 243.6C235 244.1 236 244.8 237.3 245.8C238.6 246.8 238.7 248.5 240.9 249.5C243.1 250.5 248.1 250.9 250.4 252.1C252.8 253.2 252.3 255.3 254.9 256.6C257.5 257.8 261.7 258.6 266 259.5C270.3 260.3 278 260.7 280.7 261.6C283.3 262.4 284.8 263.9 282.1 264.6C279.3 265.3 272 265.6 264.3 265.9C256.7 266.1 244.6 266.1 236.1 266.1C227.6 266 217.5 266.7 213.3 265.7C209.1 264.7 211.3 262.5 210.9 260.1C210.4 257.7 210.5 254.2 210.6 251.6C210.7 248.9 210 245.7 211.3 244.4Z" fill="none" stroke="#7888a0" stroke-width="0.55"/>
<path d="M212 246.3C213.4 245.1 216.9 245.7 219.3 245.5C221.8 245.3 224.3 245.1 226.7 245.2C229 245.2 231.5 245.2 233.3 245.7C235.2 246.1 236.3 246.8 237.7 247.7C239 248.6 239.2 250.1 241.3 251C243.5 251.9 248.3 252.3 250.7 253.3C253 254.4 252.8 256.2 255.3 257.3C257.9 258.4 261.9 259.2 266 259.9C270.1 260.7 277.4 261 280 261.8C282.6 262.6 284 264 281.3 264.7C278.7 265.3 271.4 265.6 264 265.8C256.6 266.1 245 266 236.7 266C228.3 266 218.2 266.6 214 265.7C209.8 264.8 211.8 262.8 211.3 260.7C210.9 258.5 211.1 255.2 211.2 252.8C211.3 250.4 210.6 247.6 212 246.3Z" fill="none" stroke="#7888a0" stroke-width="0.55"/>
<path d="M212.7 248.3C214 247.2 217.4 247.7 219.8 247.5C222.1 247.3 224.6 247.2 226.9 247.2C229.2 247.3 231.6 247.3 233.4 247.7C235.3 248.1 236.7 248.8 238.1 249.6C239.4 250.4 239.6 251.7 241.8 252.5C243.9 253.3 248.6 253.7 250.9 254.6C253.2 255.5 253.3 257.1 255.8 258.1C258.3 259.1 262.1 259.7 266 260.4C269.9 261.1 276.9 261.4 279.3 262.1C281.8 262.8 283.2 264.1 280.6 264.7C278 265.3 270.9 265.6 263.7 265.8C256.4 266 245.4 266 237.2 265.9C229.1 265.9 218.9 266.5 214.7 265.7C210.4 264.9 212.3 263.1 211.8 261.2C211.3 259.3 211.6 256.3 211.7 254.1C211.9 252 211.3 249.4 212.7 248.3Z" fill="none" stroke="#7888a0" stroke-width="0.55"/>
<path d="M213.3 250.2C214.7 249.2 217.9 249.7 220.2 249.5C222.5 249.3 224.9 249.2 227.1 249.3C229.3 249.3 231.7 249.4 233.6 249.8C235.4 250.1 237 250.7 238.4 251.4C239.9 252.1 240.1 253.3 242.2 254C244.3 254.7 248.8 255.1 251.1 255.9C253.4 256.7 253.7 258.1 256.2 258.9C258.7 259.7 262.3 260.3 266 260.9C269.7 261.5 276.4 261.7 278.7 262.4C281 263 282.4 264.2 279.9 264.8C277.3 265.3 270.4 265.5 263.3 265.7C256.3 265.9 245.8 265.9 237.8 265.9C229.8 265.9 219.6 266.3 215.3 265.6C211.1 265 212.7 263.5 212.2 261.8C211.7 260.1 212.1 257.3 212.3 255.4C212.5 253.5 212 251.2 213.3 250.2Z" fill="none" stroke="#7888a0" stroke-width="0.55"/>
<path d="M214 252.2C215.3 251.3 218.4 251.6 220.7 251.5C222.9 251.4 225.2 251.3 227.3 251.3C229.5 251.4 231.8 251.5 233.7 251.8C235.6 252.2 237.3 252.7 238.8 253.3C240.3 253.9 240.6 254.9 242.7 255.5C244.8 256.1 249 256.5 251.3 257.2C253.7 257.9 254.2 259 256.7 259.7C259.1 260.4 262.4 260.9 266 261.4C269.6 261.9 275.8 262.1 278 262.7C280.2 263.2 281.7 264.3 279.2 264.8C276.7 265.3 269.8 265.5 263 265.7C256.2 265.8 246.2 265.8 238.3 265.8C230.5 265.8 220.3 266.2 216 265.6C211.7 265 213.2 263.8 212.7 262.3C212.1 260.8 212.6 258.4 212.8 256.7C213.1 255 212.7 253 214 252.2Z" fill="none" stroke="#7888a0" stroke-width="0.55"/>
<path d="M214.7 254.1C216 253.4 219 253.6 221.1 253.5C223.3 253.4 225.4 253.3 227.6 253.4C229.7 253.5 231.8 253.6 233.8 253.9C235.7 254.2 237.7 254.7 239.2 255.2C240.8 255.7 241.1 256.5 243.1 257C245.2 257.5 249.2 257.9 251.6 258.4C253.9 259 254.7 259.9 257.1 260.4C259.5 261 262.6 261.4 266 261.8C269.4 262.3 275.3 262.4 277.3 262.9C279.4 263.5 280.9 264.4 278.4 264.9C276 265.3 269.3 265.5 262.7 265.6C256.1 265.8 246.6 265.7 238.9 265.7C231.2 265.7 221 266 216.7 265.6C212.4 265.1 213.7 264.2 213.1 262.9C212.6 261.6 213.1 259.4 213.4 257.9C213.6 256.5 213.4 254.9 214.7 254.1Z" fill="none" stroke="#7888a0" stroke-width="0.55"/>
<path d="M215.3 256.1C216.6 255.4 219.5 255.6 221.6 255.5C223.6 255.4 225.7 255.4 227.8 255.4C229.8 255.5 231.9 255.7 233.9 255.9C235.9 256.2 238 256.7 239.6 257.1C241.2 257.5 241.5 258.1 243.6 258.5C245.6 258.9 249.4 259.3 251.8 259.7C254.1 260.2 255.2 260.8 257.6 261.2C259.9 261.7 262.8 262 266 262.3C269.2 262.7 274.7 262.8 276.7 263.2C278.6 263.7 280.1 264.6 277.7 264.9C275.3 265.3 268.7 265.4 262.3 265.6C256 265.7 246.9 265.7 239.4 265.7C231.9 265.7 221.6 265.9 217.3 265.5C213 265.2 214.1 264.5 213.6 263.4C213 262.4 213.6 260.5 213.9 259.2C214.2 258 214.1 256.7 215.3 256.1Z" fill="none" stroke="#7888a0" stroke-width="0.55"/>
<rect x="213" y="261.5" width="72" height="5.5" fill="#7f90a8" fill-opacity="0.6"/>
<rect x="210" y="264" width="60" height="3" fill="#6a7c94" fill-opacity="0.4"/>
<text x="344" y="155.5" font-size="11" font-weight="bold" fill="#000">D</text>
<line x1="396.6" y1="156.4" x2="396.6" y2="261.7" stroke="#222" stroke-width="0.9"/>
<line x1="396.7" y1="261.7" x2="510.5" y2="261.7" stroke="#222" stroke-width="0.9"/>
<line x1="393.3" y1="261.7" x2="396.6" y2="261.7" stroke="#222" stroke-width="0.8"/>
<text x="390" y="264.4" font-size="7.5" text-anchor="end">0</text>
<line x1="393.3" y1="241.5" x2="396.6" y2="241.5" stroke="#222" stroke-width="0.8"/>
<text x="390" y="244.2" font-size="7.5" text-anchor="end">20</text>
<line x1="393.3" y1="221.3" x2="396.6" y2="221.3" stroke="#222" stroke-width="0.8"/>
<text x="390" y="224" font-size="7.5" text-anchor="end">40</text>
<line x1="393.3" y1="201.2" x2="396.6" y2="201.2" stroke="#222" stroke-width="0.8"/>
<text x="390" y="203.9" font-size="7.5" text-anchor="end">60</text>
<line x1="393.3" y1="181" x2="396.6" y2="181" stroke="#222" stroke-width="0.8"/>
<text x="390" y="183.7" font-size="7.5" text-anchor="end">80</text>
<line x1="393.3" y1="160.8" x2="396.6" y2="160.8" stroke="#222" stroke-width="0.8"/>
<text x="390" y="163.5" font-size="7.5" text-anchor="end">100</text>
<text x="369.3" y="213" font-size="7.5" text-anchor="middle" transform="rotate(-90 369.3 213)">Proportion of E-SLAM cells (%)</text>
<rect x="405.4" y="200.7" width="17.4" height="61" fill="#e37f8c"/>
<line x1="414.1" y1="261.7" x2="414.1" y2="263.8" stroke="#222" stroke-width="0.8"/>
<path d="M413.7 192.1h0M410.2 200.2h0M418.6 202.7h0M410.5 206.2h0M417 199.1h0" stroke="#c8143c" stroke-width="2.5" stroke-linecap="round"/>
<rect x="431.7" y="242" width="17.5" height="19.7" fill="#a3d69f"/>
<line x1="440.4" y1="261.7" x2="440.4" y2="263.8" stroke="#222" stroke-width="0.8"/>
<path d="M437 239.7h0M444.8 238.7h0M437 246h0M444.8 244h0M441 241.5h0" stroke="#3c9c44" stroke-width="2.5" stroke-linecap="round"/>
<rect x="458.4" y="244" width="17.4" height="17.7" fill="#8db2d8"/>
<line x1="467.1" y1="261.7" x2="467.1" y2="263.8" stroke="#222" stroke-width="0.8"/>
<path d="M463 243h0M472 240h0M463 247.1h0M471.5 245.1h0M467 242h0" stroke="#1c5494" stroke-width="2.5" stroke-linecap="round"/>
<rect x="485" y="260.2" width="17.5" height="1.5" fill="#9a80c0"/>
<line x1="493.8" y1="261.7" x2="493.8" y2="263.8" stroke="#222" stroke-width="0.8"/>
<path d="M488 259.9h0M492 259.5h0M496 259.5h0M500 259.7h0" stroke="#3c2070" stroke-width="2.5" stroke-linecap="round"/>
<line x1="414.1" y1="200.7" x2="414.1" y2="197.5" stroke="#222" stroke-width="0.8"/>
<line x1="410.6" y1="197.5" x2="417.6" y2="197.5" stroke="#222" stroke-width="0.8"/>
<line x1="440.4" y1="242" x2="440.4" y2="239.7" stroke="#222" stroke-width="0.8"/>
<line x1="436.9" y1="239.7" x2="443.9" y2="239.7" stroke="#222" stroke-width="0.8"/>
<line x1="467.1" y1="244" x2="467.1" y2="241.7" stroke="#222" stroke-width="0.8"/>
<line x1="463.6" y1="241.7" x2="470.6" y2="241.7" stroke="#222" stroke-width="0.8"/>
<line x1="414.2" y1="169.8" x2="440.7" y2="169.8" stroke="#555" stroke-width="1.1"/>
<text x="427.4" y="170.9" font-size="8.6" text-anchor="middle">****</text>
<line x1="414.2" y1="178.8" x2="467.2" y2="178.8" stroke="#555" stroke-width="1.1"/>
<text x="440.7" y="179.9" font-size="8.6" text-anchor="middle">****</text>
<line x1="414.2" y1="187.9" x2="493.5" y2="187.9" stroke="#555" stroke-width="1.1"/>
<text x="453.9" y="189" font-size="8.6" text-anchor="middle">****</text>
<line x1="440.7" y1="214.2" x2="467.2" y2="214.2" stroke="#555" stroke-width="1.1"/>
<text x="453.9" y="212" font-size="7.8" text-anchor="middle">ns</text>
<line x1="440.7" y1="223.4" x2="493.5" y2="223.4" stroke="#555" stroke-width="1.1"/>
<text x="467.1" y="224.5" font-size="8.6" text-anchor="middle">****</text>
<line x1="467.2" y1="233.2" x2="493.5" y2="233.2" stroke="#555" stroke-width="1.1"/>
<text x="480.4" y="234.3" font-size="8.6" text-anchor="middle">****</text>
<text x="397" y="273.6" font-size="7.2" text-anchor="end">vWF</text>
<text x="397" y="284" font-size="7.2" text-anchor="end">MHCII</text>
<text x="413.7" y="273.6" font-size="7" text-anchor="middle">–</text>
<text x="413.7" y="284" font-size="7" text-anchor="middle">–</text>
<text x="440.4" y="273.6" font-size="7" text-anchor="middle">+</text>
<text x="440.4" y="284" font-size="7" text-anchor="middle">–</text>
<text x="467" y="273.6" font-size="7" text-anchor="middle">–</text>
<text x="467" y="284" font-size="7" text-anchor="middle">+</text>
<text x="494" y="273.6" font-size="7" text-anchor="middle">+</text>
<text x="494" y="284" font-size="7" text-anchor="middle">+</text>
<text x="1" y="310" font-size="11" font-weight="bold" fill="#000">E</text>
<text x="58.8" y="319" font-size="9.3" text-anchor="middle" font-weight="bold" font-style="italic" fill="#111">C57BL/6</text>
<path d="M86 347.5C94 349 101 350 102.5 354C103.5 358 100 361.5 92 361.8C82 362.2 70 362 61 362.3" fill="none" stroke="#e6c2aa" stroke-width="1.5"/>
<path d="M35.5 324.5C33 318 38 316.5 40.5 321C41 324 39.5 326 37 326Z" fill="#f0c6ae" stroke="#8a8a8a" stroke-width="0.4"/>
<path d="M15.8 341.5C17 337 22 332 29 328.5C36 325 46 322.5 58 323C70 323.5 79 330 84 338C87 342 89.5 346 88.5 349.5C87 353 82 354.5 76 355C64 356 48 356 38 354C30 352.5 24 349 20.5 346C18 345 16 344 15.8 341.5Z" fill="#6d6d71" stroke="#58585c" stroke-width="0.5"/>
<path d="M15.6 341.8C15.5 339.5 18 338 20 339.5C21.5 341 20.5 344 18 344.3C16.5 344.4 15.7 343 15.6 341.8Z" fill="#eab8a4"/>
<path d="M31.5 330C30.5 323.5 34 319.5 39 320C44.5 320.5 47.5 325.5 46.5 331.5C45.5 336.5 42 340 38 339.3C34.5 338.5 32 334.5 31.5 330Z" fill="#f2c9b1" stroke="#7a7a7e" stroke-width="0.5"/>
<path d="M34.2 330C33.8 326 36 323.5 39 323.8C42.2 324.3 43.6 327.5 43 331.5C42.3 335 40 336.5 37.8 335.8C35.8 335 34.5 332.5 34.2 330Z" fill="#e9ae96"/>
<circle cx="27" cy="337.2" r="1.3" fill="#151515"/>
<path d="M34 354.5C34.5 351.5 38 350.5 41 351C43.5 351.5 45.5 353 45.5 354.8C44 355.8 38 356 34 354.5Z" fill="#efcbb3" stroke="#c9a894" stroke-width="0.3"/>
<path d="M58 357C59 354 63 353.5 67 354C71 354.5 74 356 73.5 358C70 359 62 359 58 357Z" fill="#efcbb3" stroke="#c9a894" stroke-width="0.3"/>
<line x1="52.7" y1="359.5" x2="52.7" y2="371.8" stroke="#111" stroke-width="0.9"/>
<path d="M50.9 370.3L52.7 373.8L54.5 370.3Z" fill="#111"/>
<circle cx="34.5" cy="377.8" r="3.3" fill="#fce9e0" stroke="#efbfab" stroke-width="0.9"/>
<circle cx="34.5" cy="386.2" r="3.3" fill="#fce9e0" stroke="#efbfab" stroke-width="0.9"/>
<circle cx="70.2" cy="377.8" r="3.3" fill="#fce9e0" stroke="#efbfab" stroke-width="0.9"/>
<circle cx="70.2" cy="386.2" r="3.3" fill="#fce9e0" stroke="#efbfab" stroke-width="0.9"/>
<rect x="34.5" y="378.6" width="35.7" height="6.8" fill="#fce9e0" stroke="#efbfab" stroke-width="0.9"/>
<circle cx="34.5" cy="377.8" r="2.85" fill="#fce9e0"/>
<circle cx="34.5" cy="386.2" r="2.85" fill="#fce9e0"/>
<circle cx="70.2" cy="377.8" r="2.85" fill="#fce9e0"/>
<circle cx="70.2" cy="386.2" r="2.85" fill="#fce9e0"/>
<rect x="34.5" y="379.1" width="35.7" height="5.9" fill="url(#gBone)"/>
<line x1="52.5" y1="392.5" x2="52.5" y2="405.5" stroke="#111" stroke-width="0.9"/>
<path d="M50.7 404L52.5 407.5L54.3 404Z" fill="#111"/>
<text x="52.9" y="421.2" font-size="9" text-anchor="middle" font-weight="bold" font-style="italic" fill="#111">ESLAM</text>
<line x1="76.7" y1="417.5" x2="92.5" y2="417.5" stroke="#111" stroke-width="0.9"/>
<path d="M91 415.7L94.5 417.5L91 419.3Z" fill="#111"/>
<path d="M190.5 314H247.5V410H148.3V314H152" fill="none" stroke="#222" stroke-width="1"/>
<text x="155.2" y="317.4" font-size="9.5" font-style="italic" fill="#111">ESLAM</text>
<line x1="124.5" y1="416" x2="124.5" y2="322.8" stroke="#222" stroke-width="1"/>
<path d="M122.7 324.3L124.5 320.8L126.3 324.3Z" fill="#222"/>
<text x="121" y="373" font-size="9.8" text-anchor="middle" font-style="italic" transform="rotate(-90 121 373)">CD45</text>
<line x1="145.7" y1="322.3" x2="148.3" y2="322.3" stroke="#222" stroke-width="0.8"/>
<text x="142.9" y="324.8" font-size="7" text-anchor="end">10<tspan dy="-2.6" font-size="4.5">5</tspan></text>
<line x1="145.7" y1="346.3" x2="148.3" y2="346.3" stroke="#222" stroke-width="0.8"/>
<text x="142.9" y="348.8" font-size="7" text-anchor="end">10<tspan dy="-2.6" font-size="4.5">4</tspan></text>
<line x1="145.7" y1="371.5" x2="148.3" y2="371.5" stroke="#222" stroke-width="0.8"/>
<text x="142.9" y="374" font-size="7" text-anchor="end">10<tspan dy="-2.6" font-size="4.5">3</tspan></text>
<line x1="145.7" y1="386" x2="148.3" y2="386" stroke="#222" stroke-width="0.8"/>
<text x="142.9" y="388.5" font-size="7" text-anchor="end">0</text>
<line x1="145.7" y1="403.2" x2="148.3" y2="403.2" stroke="#222" stroke-width="0.8"/>
<text x="142.9" y="405.7" font-size="7" text-anchor="end">−10<tspan dy="-2.6" font-size="4.5">3</tspan></text>
<line x1="146.9" y1="339.1" x2="148.3" y2="339.1" stroke="#222" stroke-width="0.5"/>
<line x1="146.9" y1="334.8" x2="148.3" y2="334.8" stroke="#222" stroke-width="0.5"/>
<line x1="146.9" y1="331.9" x2="148.3" y2="331.9" stroke="#222" stroke-width="0.5"/>
<line x1="146.9" y1="329.5" x2="148.3" y2="329.5" stroke="#222" stroke-width="0.5"/>
<line x1="146.9" y1="327.6" x2="148.3" y2="327.6" stroke="#222" stroke-width="0.5"/>
<line x1="146.9" y1="326" x2="148.3" y2="326" stroke="#222" stroke-width="0.5"/>
<line x1="146.9" y1="324.6" x2="148.3" y2="324.6" stroke="#222" stroke-width="0.5"/>
<line x1="146.9" y1="323.4" x2="148.3" y2="323.4" stroke="#222" stroke-width="0.5"/>
<line x1="146.9" y1="363.9" x2="148.3" y2="363.9" stroke="#222" stroke-width="0.5"/>
<line x1="146.9" y1="359.5" x2="148.3" y2="359.5" stroke="#222" stroke-width="0.5"/>
<line x1="146.9" y1="356.3" x2="148.3" y2="356.3" stroke="#222" stroke-width="0.5"/>
<line x1="146.9" y1="353.9" x2="148.3" y2="353.9" stroke="#222" stroke-width="0.5"/>
<line x1="146.9" y1="351.9" x2="148.3" y2="351.9" stroke="#222" stroke-width="0.5"/>
<line x1="146.9" y1="350.2" x2="148.3" y2="350.2" stroke="#222" stroke-width="0.5"/>
<line x1="146.9" y1="348.7" x2="148.3" y2="348.7" stroke="#222" stroke-width="0.5"/>
<line x1="146.9" y1="347.5" x2="148.3" y2="347.5" stroke="#222" stroke-width="0.5"/>
<line x1="155.4" y1="410" x2="155.4" y2="412.6" stroke="#222" stroke-width="0.8"/>
<text x="155.4" y="421.5" font-size="7" text-anchor="middle">−10<tspan dy="-2.6" font-size="4.5">3</tspan></text>
<line x1="172.3" y1="410" x2="172.3" y2="412.6" stroke="#222" stroke-width="0.8"/>
<text x="172.3" y="421.5" font-size="7" text-anchor="middle">0</text>
<line x1="187" y1="410" x2="187" y2="412.6" stroke="#222" stroke-width="0.8"/>
<text x="187" y="421.5" font-size="7" text-anchor="middle">10<tspan dy="-2.6" font-size="4.5">3</tspan></text>
<line x1="217" y1="410" x2="217" y2="412.6" stroke="#222" stroke-width="0.8"/>
<text x="217" y="421.5" font-size="7" text-anchor="middle">10<tspan dy="-2.6" font-size="4.5">4</tspan></text>
<line x1="241" y1="410" x2="241" y2="412.6" stroke="#222" stroke-width="0.8"/>
<text x="241" y="421.5" font-size="7" text-anchor="middle">10<tspan dy="-2.6" font-size="4.5">5</tspan></text>
<line x1="196" y1="410" x2="196" y2="411.4" stroke="#222" stroke-width="0.5"/>
<line x1="201.3" y1="410" x2="201.3" y2="411.4" stroke="#222" stroke-width="0.5"/>
<line x1="205.1" y1="410" x2="205.1" y2="411.4" stroke="#222" stroke-width="0.5"/>
<line x1="208" y1="410" x2="208" y2="411.4" stroke="#222" stroke-width="0.5"/>
<line x1="210.3" y1="410" x2="210.3" y2="411.4" stroke="#222" stroke-width="0.5"/>
<line x1="212.4" y1="410" x2="212.4" y2="411.4" stroke="#222" stroke-width="0.5"/>
<line x1="214.1" y1="410" x2="214.1" y2="411.4" stroke="#222" stroke-width="0.5"/>
<line x1="215.6" y1="410" x2="215.6" y2="411.4" stroke="#222" stroke-width="0.5"/>
<line x1="224.2" y1="410" x2="224.2" y2="411.4" stroke="#222" stroke-width="0.5"/>
<line x1="228.5" y1="410" x2="228.5" y2="411.4" stroke="#222" stroke-width="0.5"/>
<line x1="231.4" y1="410" x2="231.4" y2="411.4" stroke="#222" stroke-width="0.5"/>
<line x1="233.8" y1="410" x2="233.8" y2="411.4" stroke="#222" stroke-width="0.5"/>
<line x1="235.7" y1="410" x2="235.7" y2="411.4" stroke="#222" stroke-width="0.5"/>
<line x1="237.3" y1="410" x2="237.3" y2="411.4" stroke="#222" stroke-width="0.5"/>
<line x1="238.7" y1="410" x2="238.7" y2="411.4" stroke="#222" stroke-width="0.5"/>
<line x1="239.9" y1="410" x2="239.9" y2="411.4" stroke="#222" stroke-width="0.5"/>
<line x1="137" y1="425.4" x2="247" y2="425.4" stroke="#222" stroke-width="1"/>
<path d="M245.5 423.6L249 425.4L245.5 427.2Z" fill="#222"/>
<text x="193.5" y="436.3" font-size="10" text-anchor="middle" font-style="italic">iA/iE MHCII</text>
<path d="M165.8 348.1h0M165.5 346.6h0M178.6 348.2h0M173.1 349.8h0M169.3 348.8h0M172.6 347.8h0M170.8 347.4h0M166.4 349.2h0M170.1 345.5h0M179.2 348.5h0M171.5 350h0M162.5 348.6h0M168.4 348.8h0M176.4 348.7h0M168.6 348.3h0M175.6 349.2h0M174.2 348.8h0M168.5 348.8h0M167.1 348.5h0M170.4 348.8h0M177.1 348.6h0M175.2 348.3h0M169.9 349.2h0M171.8 347.3h0M172.1 348.4h0M173.8 349h0M169.3 349.2h0M164.2 350.2h0M167.1 349h0M177.6 348.2h0M165.8 347.4h0M171.5 348.7h0M176.8 348.2h0M170.7 348.3h0M171.9 347.5h0M170 347.9h0M175.3 348h0M170.6 350.6h0M172.5 349.3h0M160.8 348.7h0M174.1 349h0M172.4 348.1h0M166 349.4h0M170.4 346.8h0M178.2 349.9h0M167.4 349.9h0M163.7 348.9h0M168.9 348.6h0M174.7 349.5h0M174.3 348.7h0M200.2 347.1h0M166.9 347.8h0M182.1 348.1h0M172.1 348.6h0M202.4 348.3h0M188 347.6h0M199.6 349.5h0M162.3 348.2h0M200.1 348.8h0M166.3 349h0M183.6 347.7h0M181.6 348.1h0M166.5 348.3h0M174.2 347.5h0M198.3 350.2h0M205.3 347.8h0M163.2 347.8h0M171.8 349.1h0M194.2 348.9h0M183.3 348.3h0M204.5 349.2h0M164.8 347.9h0M181 347.1h0M168.6 348.3h0M172.9 348.6h0M188.1 348.5h0M164.4 348.5h0M202.6 347.7h0M170.3 348.9h0M162.2 348.1h0M164 349.2h0M204.7 348.9h0M176.3 348.5h0M183.7 348.3h0M184.8 349.4h0M180.5 349.1h0M175.1 349.1h0M165.5 347.4h0M164.9 349.1h0M189.3 348.7h0" stroke="#555" stroke-width="0.9" stroke-linecap="round"/>
<path d="M179.5 348.1h0M173.8 348.2h0M174.1 347.2h0M164.9 349h0M172 348.3h0M173.3 348.9h0M170.3 347.8h0M173.2 348.4h0M179.7 348.6h0M172.9 349.1h0M173.8 348.2h0M174.4 346.9h0M169.8 348.1h0M176.4 348.5h0M169.8 347.6h0M171.8 348.5h0M173.6 349.6h0M174 348.7h0M173 349.9h0M170.8 348.3h0M176.2 348.3h0M173.2 349.5h0M174.5 347.9h0M170 348.9h0M176.6 348.4h0" stroke="#111" stroke-width="1.0" stroke-linecap="round"/>
<rect x="157" y="343" width="22.4" height="12.5" fill="none" stroke="#b5163c" stroke-width="1.7"/>
<rect x="185.2" y="343" width="32.3" height="12.5" fill="none" stroke="#1e4f8a" stroke-width="1.7"/>
<path d="M168.3 343V333.5H262" fill="none" stroke="#222" stroke-width="0.9"/>
<line x1="250" y1="333.5" x2="260.5" y2="333.5" stroke="#111" stroke-width="0.9"/>
<path d="M259 331.7L262.5 333.5L259 335.3Z" fill="#111"/>
<path d="M206 355.5V395.8H250" fill="none" stroke="#222" stroke-width="0.9"/>
<line x1="250" y1="395.8" x2="260.5" y2="395.8" stroke="#111" stroke-width="0.9"/>
<path d="M259 394L262.5 395.8L259 397.6Z" fill="#111"/>
<rect x="265.8" y="315.8" width="67.7" height="100.7" fill="url(#pLat)" stroke="#222" stroke-width="1"/>
<line x1="265.8" y1="366.2" x2="333.5" y2="366.2" stroke="#222" stroke-width="0.8" stroke-dasharray="2 1.5"/>
<text x="299.7" y="310.5" font-size="9.3" text-anchor="middle" font-style="italic">Day 7 analysis</text>
<text x="269.2" y="328" font-size="9.3" font-weight="bold" font-style="italic" fill="#111">Lo</text>
<text x="269.2" y="413.3" font-size="9.3" font-weight="bold" font-style="italic" fill="#111">Hi</text>
<text x="299.7" y="429.6" font-size="9.3" text-anchor="middle" font-weight="bold" font-style="italic" fill="#111">IL3, IL6, SCF</text>
<text x="349.3" y="309.4" font-size="11" font-weight="bold" fill="#000">F</text>
<line x1="396" y1="315.5" x2="396" y2="418.8" stroke="#222" stroke-width="0.9"/>
<line x1="396" y1="418.8" x2="473.3" y2="418.8" stroke="#222" stroke-width="0.9"/>
<line x1="393.2" y1="418.8" x2="396" y2="418.8" stroke="#222" stroke-width="0.8"/>
<text x="391.3" y="421.5" font-size="7.5" text-anchor="end">0</text>
<line x1="393.2" y1="393.1" x2="396" y2="393.1" stroke="#222" stroke-width="0.8"/>
<text x="391.3" y="395.8" font-size="7.5" text-anchor="end">50</text>
<line x1="393.2" y1="367.4" x2="396" y2="367.4" stroke="#222" stroke-width="0.8"/>
<text x="391.3" y="370.1" font-size="7.5" text-anchor="end">100</text>
<line x1="393.2" y1="341.7" x2="396" y2="341.7" stroke="#222" stroke-width="0.8"/>
<text x="391.3" y="344.4" font-size="7.5" text-anchor="end">150</text>
<line x1="393.2" y1="316" x2="396" y2="316" stroke="#222" stroke-width="0.8"/>
<text x="391.3" y="318.7" font-size="7.5" text-anchor="end">200</text>
<text x="371.3" y="366" font-size="7.8" text-anchor="middle" transform="rotate(-90 371.3 366)">Number of clones per category</text>
<rect x="408.2" y="355.1" width="23.5" height="63.7" fill="#c8102e"/>
<rect x="408.2" y="327.8" width="23.5" height="27.2" fill="#1a4b8c"/>
<rect x="408.2" y="320.1" width="23.5" height="7.7" fill="#4aa84c"/>
<rect x="444.5" y="344.3" width="23.5" height="74.5" fill="#c8102e"/>
<rect x="444.5" y="323.7" width="23.5" height="20.6" fill="#1a4b8c"/>
<rect x="444.5" y="322.2" width="23.5" height="1.5" fill="#4aa84c"/>
<text x="437" y="316.8" font-size="7.8" text-anchor="middle">p = 0.0035</text>
<rect x="476" y="332.6" width="4.8" height="4.8" fill="#c8102e"/>
<text x="483.5" y="337.5" font-size="7.2">Small</text>
<rect x="476" y="342.7" width="4.8" height="4.8" fill="#1a4b8c"/>
<text x="483.5" y="347.6" font-size="7.2">Mixed</text>
<rect x="476" y="352.8" width="4.8" height="4.8" fill="#4aa84c"/>
<text x="483.5" y="357.7" font-size="7.2">Large</text>
<text x="420.5" y="432.3" font-size="8" text-anchor="middle">MHCII<tspan dy="-3" font-size="5.5">lo</tspan></text>
<text x="456.5" y="432.3" font-size="8" text-anchor="middle">MHCII<tspan dy="-3" font-size="5.5">hi</tspan></text>
<text x="1" y="458" font-size="11" font-weight="bold" fill="#000">G</text>
<line x1="13.5" y1="686" x2="13.5" y2="465" stroke="#222" stroke-width="1"/>
<path d="M11.7 466.5L13.5 463L15.3 466.5Z" fill="#222"/>
<text x="10.6" y="575.3" font-size="10" text-anchor="middle" font-style="italic" transform="rotate(-90 10.6 575.3)">CD45</text>
<path d="M65.5 455.8H135.7V556.7H34.3V455.8H41.5" fill="none" stroke="#222" stroke-width="1"/>
<text x="45.6" y="459.8" font-size="10" fill="#111">WT</text>
<line x1="31.7" y1="465.5" x2="34.3" y2="465.5" stroke="#222" stroke-width="0.8"/>
<text x="28.9" y="468" font-size="7" text-anchor="end">10<tspan dy="-2.6" font-size="4.5">5</tspan></text>
<line x1="31.7" y1="485.8" x2="34.3" y2="485.8" stroke="#222" stroke-width="0.8"/>
<text x="28.9" y="488.3" font-size="7" text-anchor="end">10<tspan dy="-2.6" font-size="4.5">4</tspan></text>
<line x1="31.7" y1="506.4" x2="34.3" y2="506.4" stroke="#222" stroke-width="0.8"/>
<text x="28.9" y="508.9" font-size="7" text-anchor="end">10<tspan dy="-2.6" font-size="4.5">3</tspan></text>
<line x1="31.7" y1="526.6" x2="34.3" y2="526.6" stroke="#222" stroke-width="0.8"/>
<text x="28.9" y="529.1" font-size="7" text-anchor="end">10<tspan dy="-2.6" font-size="4.5">2</tspan></text>
<line x1="31.7" y1="546.2" x2="34.3" y2="546.2" stroke="#222" stroke-width="0.8"/>
<text x="28.9" y="548.7" font-size="7" text-anchor="end">10<tspan dy="-2.6" font-size="4.5">1</tspan></text>
<line x1="32.9" y1="479.7" x2="34.3" y2="479.7" stroke="#222" stroke-width="0.5"/>
<line x1="32.9" y1="476.1" x2="34.3" y2="476.1" stroke="#222" stroke-width="0.5"/>
<line x1="32.9" y1="473.6" x2="34.3" y2="473.6" stroke="#222" stroke-width="0.5"/>
<line x1="32.9" y1="471.6" x2="34.3" y2="471.6" stroke="#222" stroke-width="0.5"/>
<line x1="32.9" y1="470" x2="34.3" y2="470" stroke="#222" stroke-width="0.5"/>
<line x1="32.9" y1="468.6" x2="34.3" y2="468.6" stroke="#222" stroke-width="0.5"/>
<line x1="32.9" y1="467.5" x2="34.3" y2="467.5" stroke="#222" stroke-width="0.5"/>
<line x1="32.9" y1="466.4" x2="34.3" y2="466.4" stroke="#222" stroke-width="0.5"/>
<line x1="32.9" y1="500.2" x2="34.3" y2="500.2" stroke="#222" stroke-width="0.5"/>
<line x1="32.9" y1="496.6" x2="34.3" y2="496.6" stroke="#222" stroke-width="0.5"/>
<line x1="32.9" y1="494" x2="34.3" y2="494" stroke="#222" stroke-width="0.5"/>
<line x1="32.9" y1="492" x2="34.3" y2="492" stroke="#222" stroke-width="0.5"/>
<line x1="32.9" y1="490.4" x2="34.3" y2="490.4" stroke="#222" stroke-width="0.5"/>
<line x1="32.9" y1="489" x2="34.3" y2="489" stroke="#222" stroke-width="0.5"/>
<line x1="32.9" y1="487.8" x2="34.3" y2="487.8" stroke="#222" stroke-width="0.5"/>
<line x1="32.9" y1="486.7" x2="34.3" y2="486.7" stroke="#222" stroke-width="0.5"/>
<line x1="32.9" y1="520.5" x2="34.3" y2="520.5" stroke="#222" stroke-width="0.5"/>
<line x1="32.9" y1="517" x2="34.3" y2="517" stroke="#222" stroke-width="0.5"/>
<line x1="32.9" y1="514.4" x2="34.3" y2="514.4" stroke="#222" stroke-width="0.5"/>
<line x1="32.9" y1="512.5" x2="34.3" y2="512.5" stroke="#222" stroke-width="0.5"/>
<line x1="32.9" y1="510.9" x2="34.3" y2="510.9" stroke="#222" stroke-width="0.5"/>
<line x1="32.9" y1="509.5" x2="34.3" y2="509.5" stroke="#222" stroke-width="0.5"/>
<line x1="32.9" y1="508.4" x2="34.3" y2="508.4" stroke="#222" stroke-width="0.5"/>
<line x1="32.9" y1="507.3" x2="34.3" y2="507.3" stroke="#222" stroke-width="0.5"/>
<line x1="32.9" y1="540.3" x2="34.3" y2="540.3" stroke="#222" stroke-width="0.5"/>
<line x1="32.9" y1="536.8" x2="34.3" y2="536.8" stroke="#222" stroke-width="0.5"/>
<line x1="32.9" y1="534.4" x2="34.3" y2="534.4" stroke="#222" stroke-width="0.5"/>
<line x1="32.9" y1="532.5" x2="34.3" y2="532.5" stroke="#222" stroke-width="0.5"/>
<line x1="32.9" y1="530.9" x2="34.3" y2="530.9" stroke="#222" stroke-width="0.5"/>
<line x1="32.9" y1="529.6" x2="34.3" y2="529.6" stroke="#222" stroke-width="0.5"/>
<line x1="32.9" y1="528.5" x2="34.3" y2="528.5" stroke="#222" stroke-width="0.5"/>
<line x1="32.9" y1="527.5" x2="34.3" y2="527.5" stroke="#222" stroke-width="0.5"/>
<line x1="40.9" y1="556.7" x2="40.9" y2="559.3" stroke="#222" stroke-width="0.8"/>
<text x="40.9" y="567.5" font-size="7" text-anchor="middle">−10<tspan dy="-2.6" font-size="4.5">3</tspan></text>
<line x1="59.5" y1="556.7" x2="59.5" y2="559.3" stroke="#222" stroke-width="0.8"/>
<text x="59.5" y="567.5" font-size="7" text-anchor="middle">0</text>
<line x1="76" y1="556.7" x2="76" y2="559.3" stroke="#222" stroke-width="0.8"/>
<text x="76" y="567.5" font-size="7" text-anchor="middle">10<tspan dy="-2.6" font-size="4.5">3</tspan></text>
<line x1="103" y1="556.7" x2="103" y2="559.3" stroke="#222" stroke-width="0.8"/>
<text x="103" y="567.5" font-size="7" text-anchor="middle">10<tspan dy="-2.6" font-size="4.5">4</tspan></text>
<line x1="127.5" y1="556.7" x2="127.5" y2="559.3" stroke="#222" stroke-width="0.8"/>
<text x="127.5" y="567.5" font-size="7" text-anchor="middle">10<tspan dy="-2.6" font-size="4.5">5</tspan></text>
<line x1="84.1" y1="556.7" x2="84.1" y2="558.1" stroke="#222" stroke-width="0.5"/>
<line x1="88.9" y1="556.7" x2="88.9" y2="558.1" stroke="#222" stroke-width="0.5"/>
<line x1="92.3" y1="556.7" x2="92.3" y2="558.1" stroke="#222" stroke-width="0.5"/>
<line x1="94.9" y1="556.7" x2="94.9" y2="558.1" stroke="#222" stroke-width="0.5"/>
<line x1="97" y1="556.7" x2="97" y2="558.1" stroke="#222" stroke-width="0.5"/>
<line x1="98.8" y1="556.7" x2="98.8" y2="558.1" stroke="#222" stroke-width="0.5"/>
<line x1="100.4" y1="556.7" x2="100.4" y2="558.1" stroke="#222" stroke-width="0.5"/>
<line x1="101.8" y1="556.7" x2="101.8" y2="558.1" stroke="#222" stroke-width="0.5"/>
<line x1="110.4" y1="556.7" x2="110.4" y2="558.1" stroke="#222" stroke-width="0.5"/>
<line x1="114.7" y1="556.7" x2="114.7" y2="558.1" stroke="#222" stroke-width="0.5"/>
<line x1="117.8" y1="556.7" x2="117.8" y2="558.1" stroke="#222" stroke-width="0.5"/>
<line x1="120.1" y1="556.7" x2="120.1" y2="558.1" stroke="#222" stroke-width="0.5"/>
<line x1="122.1" y1="556.7" x2="122.1" y2="558.1" stroke="#222" stroke-width="0.5"/>
<line x1="123.7" y1="556.7" x2="123.7" y2="558.1" stroke="#222" stroke-width="0.5"/>
<line x1="125.1" y1="556.7" x2="125.1" y2="558.1" stroke="#222" stroke-width="0.5"/>
<line x1="126.4" y1="556.7" x2="126.4" y2="558.1" stroke="#222" stroke-width="0.5"/>
<path d="M62.3 502C64.2 501.9 67.4 501.7 69.5 502C71.6 502.3 73.3 502.8 74.9 503.8C76.5 504.8 78 506.3 78.9 507.9C79.8 509.4 80.4 511.3 80.3 513.3C80.2 515.2 79.2 517.5 78.5 519.6C77.7 521.6 77 523.8 75.8 525.4C74.6 527.1 72.9 528.4 71.3 529.5C69.6 530.5 67.8 531.4 65.9 531.7C63.9 532 61.5 531.8 59.6 531.3C57.6 530.7 55.5 529.9 54.2 528.6C52.8 527.2 52 525.3 51.5 523.2C51 521.1 51 518.4 51 516C51.1 513.6 51.3 510.7 51.9 508.8C52.5 506.8 53.6 505.3 54.6 504.3C55.7 503.2 57 502.8 58.2 502.5C59.5 502.1 60.4 502.1 62.3 502Z" fill="#444444"/>
<ellipse cx="59.5" cy="484.8" rx="5.5" ry="2.6" fill="#444444"/>
<path d="M87 480.3C100 479.8 115 480 126 480.8C127.5 482 127.3 483.6 126 484.3C112 484.8 100 484.6 87 484.3Z" fill="#444444"/>
<path d="M81.4 517.9h0M70.3 500.8h0M47 526.8h0M77.2 506.4h0M70.3 530.5h0M54.7 524.4h0M52.7 523.4h0M63.6 499.3h0M53.9 504.5h0M66 530.3h0M76.3 507.3h0M50.7 528.9h0M50.1 505.5h0M55.8 502.2h0M52.9 530.8h0M59.1 502.1h0M48.6 512.9h0M66.2 501.8h0M85.3 516.7h0M83.9 514.1h0M79.4 503.1h0M79.8 513.3h0M75.5 505.5h0M59.3 503h0M81.8 522.5h0M76.3 501h0M84.4 520.4h0M49.5 508.6h0M79.4 522h0M79.5 519.3h0M68.9 534.4h0M70.4 533.4h0M48.8 521.3h0M59.2 532.3h0M83.8 507.1h0M78.2 501.8h0M75.8 531.9h0M80.4 518.7h0M53.4 503.9h0M66.2 501.6h0M81.3 509.1h0M57.3 532.5h0M65.5 529.5h0M68.7 532.7h0M77.9 505.2h0M52.7 504.7h0M50.4 524h0M60.4 532.3h0M74.3 497.1h0M62.1 534.2h0M53 532.7h0M69 536.9h0M73 501h0M72.4 529.6h0M49.4 517.1h0M79.5 508h0M64.9 500.8h0M73.4 525.4h0M81 519.3h0M79.5 516.9h0M79.7 526.7h0M76.3 527.8h0M72.4 498.6h0M75.6 525.1h0M71.6 530.2h0M58.2 525h0M72.3 527h0M46.6 510.4h0M71.8 501.1h0M47.4 508.3h0M50 527.4h0M74.4 524.8h0M76.6 530.6h0M54.5 520.7h0M73.7 527.6h0M58.9 499h0M54 504.2h0M51 508.3h0M51.2 525.5h0M54.4 525.3h0M77.5 519.5h0M67.7 534.6h0M57.9 499.5h0M51.9 524.1h0M78.4 507.9h0M66.4 532.9h0M70.6 532.3h0M78.6 525.6h0M47.3 515h0M48.1 505.7h0M61.9 503.9h0M53.7 530h0M75.3 501.2h0M55.7 533.9h0M73.7 528.1h0M71 500.5h0M78.4 506.4h0M62.3 500.4h0M71.9 501.3h0M53.5 522.2h0M53.5 509.6h0M74.9 495.6h0M65.9 499.1h0M80.6 510.7h0M66.4 496.2h0M72.1 500.6h0M83.7 510.8h0M69.6 531.7h0M59 495.5h0M58.2 532.2h0M75.3 528.5h0M82.8 512.4h0M56.6 503.4h0M79.3 526.8h0M81.7 510.6h0M68.8 533.9h0M54.9 504.4h0M79.1 510.8h0M78.8 512.8h0M77.8 505.7h0M78.5 501.5h0M77.5 522.7h0M81.1 520.8h0M67.9 536.3h0M45.9 518.6h0M50.5 506.9h0M61.4 502.6h0M53.5 530.9h0M76.1 527.7h0M81.6 515.9h0M81 531.6h0M69.5 535.2h0M69.5 502h0M56.8 530.5h0M81.9 524.5h0M80.3 514.3h0M51.9 501.1h0M67.6 503.5h0M52.8 515.5h0M82.4 513.1h0M50.3 522.6h0M75.4 502.7h0M71 500.6h0M79.8 510.7h0M81.1 512.9h0M80.8 501h0M78.8 522.5h0M76.1 528.1h0M50.2 518.6h0M54.9 530.3h0M51.7 510.8h0M70.2 531.4h0M59.8 535.3h0M61.1 493.6h0M80 513.9h0M73.2 527.9h0M67.6 503.3h0M69.2 496.3h0M59.8 498.2h0M55.7 498.7h0M59.1 533.6h0M63.4 499.1h0M77.9 526.3h0M51 523.3h0M47.4 510.8h0M63.6 534.9h0M58.3 533h0M68.7 502.8h0M51.3 521.1h0M83.1 509.5h0M83.4 513.9h0M58.2 501.4h0M64.6 500.6h0M81.6 504.8h0M72.2 525.8h0M80.2 506h0M67.2 533.7h0M49.3 525.7h0M76.7 503.6h0M69.8 499.2h0M81.1 511.1h0M69.1 505.6h0M67.2 533.3h0M53 521.8h0M84.3 507.9h0M78.5 511.3h0M52 519.6h0M63.9 532.7h0M77 514.3h0M59.8 530.3h0M70.8 502h0M49.8 524.8h0M73.7 531.3h0M60.4 496.6h0M52.4 527h0M72 501.8h0M56.3 534.1h0M82.8 517.5h0M70 503.5h0M55.3 533.5h0M78.3 528h0M82.7 517.9h0M70.4 529.3h0M62.5 533.2h0M63 497h0M78.7 514.3h0M69.4 501.2h0M66.8 497.3h0M80.1 512.4h0M72.4 536.1h0M55.2 527.1h0M76.6 529h0M81.2 512.9h0M49.4 508.6h0M56.4 501.7h0M77.8 526.4h0M53.1 530.2h0M79.7 516.7h0M50.7 526.3h0M74.6 528.6h0M64.1 533.4h0M68.1 501.1h0M52.1 501.8h0M80 509.8h0M79.5 521.8h0M77.3 503h0M78.6 503.5h0M80.5 512.3h0M66.9 498.6h0M69.1 500.2h0M73.6 524.5h0M80.6 507.3h0M57.9 503.8h0M66.6 501.3h0M56 499h0M51.1 518.6h0M56 501.5h0M58.2 502.7h0M67.3 531.7h0M53.5 502.5h0M73.7 527.7h0M76.5 523.5h0M79.7 505.9h0M49.9 510.4h0M82.1 520.9h0M84.5 516.2h0M61.3 533h0M53.6 510.7h0M67.7 504.8h0M54.3 527.9h0M76 503.9h0M51.9 525.5h0M47.3 512.2h0M74.3 527.6h0M63.6 500.9h0M78.8 523.3h0M74.4 533.2h0M46.5 514h0M76.2 503.1h0M70.3 502.3h0M49.5 517h0M52 503.5h0M46.3 518.1h0M77.9 521.5h0M60.1 530.9h0M76.1 530.4h0M80.1 521.5h0M73.2 507.3h0M76.1 508.1h0M70 499.3h0M54.9 530.4h0M45.8 504.7h0M62.8 536.6h0M60.2 500.1h0M71.3 532.5h0M61.1 498.8h0M60.1 502.2h0M75.9 531.1h0M52.1 527.2h0M48.6 520.4h0M50.5 520h0M51.4 502.3h0M80.3 516.3h0M51.5 508.6h0M65 536.5h0M66.7 499.5h0M50.8 504.2h0M61 500.8h0M78.3 522.8h0M63.7 499.1h0M69.8 502.6h0M53.1 513h0M52 523.8h0M72.3 503.5h0M79.2 524.8h0M48.2 532h0M78 503.1h0M69.6 533.8h0M73.9 528.1h0M84.2 516.3h0M59 502.9h0M58.3 535.3h0M73.1 531.9h0M61.2 500.6h0M80.4 520h0M69.2 525.7h0M51.7 529.9h0M76.8 500.9h0M73.7 502.6h0M58.3 533.6h0M61.7 535h0M50.9 505.2h0M52 524.1h0M76.8 529h0M84.8 515.2h0M50.1 520.7h0M60 501.3h0M51.7 512.9h0M78.2 504.8h0M78 504h0M80.1 521.4h0M79.1 521.4h0M69.9 499h0M47.4 510.6h0M81.6 517.2h0M84.4 507.1h0M50.1 518.6h0M48.2 525.3h0M50.8 524.7h0M56.6 529.8h0M59.7 497.2h0M49.2 511.8h0M68.7 530h0M61.5 497.4h0M51 528.8h0M60.6 495.6h0M79.9 514.4h0M47.3 525.5h0M77.1 501.7h0M50.8 533.6h0M67.1 530.5h0M76.2 523.6h0M48.5 523.5h0M52.2 534.7h0M56.8 531.9h0M78.1 527.5h0M80.1 520.8h0M81.4 505.8h0M56.2 501.8h0M77.2 503.5h0M81.1 518.4h0M80.2 521h0M79 506.8h0M54.2 530.8h0M79 505.5h0M53.1 526.6h0M70.2 528.6h0M57.9 494.7h0M59.9 501.9h0M48.5 514h0M48.6 516.1h0M65.6 501.1h0M56.5 535.9h0M55 529.3h0M62.1 502.6h0M48 527.5h0M59.4 498.7h0M48.3 512.5h0M79.7 511.2h0M74 504.6h0M71.4 527.5h0M58.4 505.1h0M81.1 520.6h0M50.4 515.5h0M65.1 500h0M82.2 522.3h0M51.2 526.3h0M60.1 499.7h0M74.1 529.4h0M68.7 531.7h0M49.3 508.8h0M48.4 522.4h0M81.6 515.2h0M76.6 504.9h0M56 533.2h0M61.1 499.5h0M53.1 496.5h0M49.5 519h0M71.7 504.8h0M50.7 519.4h0M78.4 524.3h0M48 503.1h0M63.7 501.9h0M51.9 514.9h0M72.5 506.6h0M81.4 517.8h0M81.9 508.3h0M79.4 523.3h0M51.3 526.8h0M71.5 501.4h0M71 502.7h0M81.8 519.7h0M78.7 499.1h0M75.5 499.2h0M50 524.8h0M51.7 504.1h0M47.8 522.2h0M79.6 525.1h0M60.8 502.8h0M69.9 531.4h0M64.4 530.3h0M61.8 533.7h0M52.2 502h0M72.3 527.4h0M69.7 499.2h0M60.7 502.3h0M77.4 501.9h0M53.8 515.2h0M79.2 505h0M54.8 502.3h0M79.6 513.7h0M77.4 504.2h0M64.5 532h0M64.6 503.7h0M76.8 506.7h0M73.3 527.8h0M51.3 522.7h0M64.7 499.9h0M52.8 526.1h0M63.6 531.5h0M53.7 509.1h0M80.6 511.2h0M79.2 507.4h0M63.5 501.9h0M80.8 511.8h0M61.1 502.6h0M68.5 502.3h0M76 523.5h0M77.4 506.2h0M56.9 531h0M61.6 530.8h0M78.8 518.9h0M51.9 509h0M79.1 514h0M58.5 503.3h0M78.3 520.9h0M78.9 510h0M53.9 507.5h0M51 516.9h0M54.8 528h0M79.4 516.7h0M79.6 509.2h0M62.4 530.9h0M72.4 501.6h0M54.8 527.6h0M75.5 503.9h0M78.6 518.1h0M51.8 508.8h0M81.5 512.6h0M77.3 504.5h0M51.4 520.2h0M79.5 520h0M58.1 527.9h0M76.5 506.1h0M75 504.6h0M60.3 502.5h0M55.6 505.4h0M74 525.3h0M75.2 524.4h0M65.4 532.6h0M62.8 500.5h0M80.1 509.7h0M51.8 512.8h0M52 511.3h0M73.6 508.2h0M73.3 528.8h0M72.3 502h0M52.2 509.6h0M62.1 531.1h0M79.9 508.4h0M51.9 523.7h0M57.5 503.4h0M64.5 501.7h0M79.2 513h0M57.1 504.9h0M77.2 523.7h0M78.6 520.5h0M52.6 524.6h0M51 522h0M52.7 509.1h0M78.6 519.7h0M60.2 501.1h0M78.4 505.1h0M50.6 521.6h0M63 499.8h0M75.7 526.9h0M62.2 531.1h0M60.2 530.1h0M64.5 502.7h0M55.8 501.5h0M78.3 508.4h0M78.2 518.8h0M64.5 504.8h0M79.8 515.3h0M63.6 532.7h0M77 522.2h0M67.1 532.7h0M77.6 520.9h0M66.4 531.4h0M79.4 508.6h0M69.6 529.3h0M54.6 506.7h0M74.1 504h0M50.6 521.7h0M66.8 532.3h0M54.7 503.9h0M54 526.5h0M52.4 506h0M54.7 507.6h0M60.7 531.8h0M70.1 502.2h0M55.3 527.7h0M63.5 501.6h0M75 504.6h0M62.6 529.5h0M54.6 502.7h0M72.8 505h0M63.6 502.9h0M50.2 521.8h0M63.4 531.9h0M80.4 510.8h0M56.1 531h0M75.1 504.6h0M74.4 526.5h0M50.4 520.3h0M49.9 520.1h0M54.9 503.9h0M50.6 517.4h0M56.4 503.3h0M76.3 523.9h0M65.6 530.8h0M79.2 512.7h0M71.2 501.3h0M51 526.5h0M79.7 511.5h0M68.3 501.1h0M60.8 529.9h0M56.9 504.3h0M62.5 531h0M51.5 513.1h0M59.9 502.3h0M78.2 511.9h0M58.3 502.5h0M67.1 531.8h0M52.1 508.8h0M59.1 529.3h0M64.1 529.8h0M68.1 502.4h0M52.6 508.5h0M52.2 526h0M78.2 507.1h0M49.6 513.4h0M56.2 502.8h0M69.3 503.9h0M72.2 502.5h0M74 502.9h0M51.8 515.2h0M56.5 505.2h0M51.8 520.4h0M79.4 512.3h0M119.1 483.7h0M99.7 480.1h0M113.1 482.7h0M117.2 483.7h0M111.5 483.2h0M102.5 482.5h0M86.4 484.5h0M113.4 481.8h0M94.9 481.7h0M106.8 480h0M103.9 481.7h0M89.7 485.4h0M124.5 483h0M123.3 482h0M101.6 484h0M90.2 482.1h0M115 484.5h0M114.4 481.9h0M109 483.7h0M99.4 481.4h0M117.8 481.6h0M87.5 485.2h0M98.6 484.2h0M99.7 483.1h0M90.9 483.1h0M110.9 480.7h0M106.7 485.3h0M98.1 482h0M116.1 481.7h0M91.6 484.9h0M118.4 482.2h0M99.1 481.6h0M113.3 483.7h0M87.5 482h0M125.3 484.9h0M111.2 482.2h0M103.1 482.2h0M105.9 481.6h0M99.8 483.3h0M104 481h0M105.1 480.5h0M110.8 481.6h0M101.2 483.7h0M102.8 480.8h0M106.7 482.6h0M92.6 481.7h0M88.6 481.8h0M95 482.8h0M103.1 483.1h0M94.1 483.1h0M100.9 483h0M96.7 481.1h0M116.3 482.5h0M97.5 483.7h0M113.5 482h0M113.7 480.5h0M88.5 482h0M95.9 479.7h0M106.6 481.3h0M93.6 479.9h0M103.5 484h0M106.1 482h0M106.7 484.2h0M98.4 484.7h0M111.3 483.8h0M100.2 482.8h0M111.5 481.2h0M113.8 482.9h0M106.2 480.2h0M110.7 483.7h0M107.1 483.5h0M107 481.3h0M119.9 482.5h0M113.1 483.7h0M98.1 482.4h0M111.4 485h0M123.7 484h0M90.8 481.6h0M101.8 479.9h0M103.7 482.9h0M107.7 484h0M92.5 482.4h0M111 483.7h0M105.4 482.6h0M102.4 480.9h0M113.4 486.3h0M96.8 483.1h0M99.9 482.4h0M113.8 483h0M108.6 478.7h0M96 482.9h0M106.8 482.8h0M111.5 480.3h0M104.2 483.7h0M112.6 481.9h0M107.7 483.7h0M105.5 480.6h0M106.4 482.6h0M94.3 482h0M120.8 483h0M113.8 484.1h0M112.6 483.8h0M109.4 482.1h0M98.1 481.6h0M103.4 482.4h0M126.7 483h0M101.3 482.7h0M92.2 483.3h0M126.5 482.8h0M101.3 483.2h0M112.9 481h0M111 482.9h0M103 480.6h0M89.3 483.2h0M102.7 483h0M101 481.6h0M105.3 482.8h0M95.1 480.7h0M110.6 481.6h0M106.5 481.2h0M75 480.4h0M64.7 482.3h0M72.8 482.8h0M63.4 481.6h0M74.2 481.3h0M74.7 484.5h0M80.3 482.3h0M79.3 482h0M72.3 480.7h0M72.8 483h0M64 481h0M86.9 481.3h0M86.8 484.4h0M64.4 483h0M80.6 483.8h0M84.1 482.4h0M80.6 479.7h0M69.6 482.6h0M70.4 482.9h0M65 481.2h0M77.1 481.5h0M68.8 481.7h0M69.9 482.8h0M64.9 480.8h0M86.1 481h0M87.3 483.3h0M71.1 481.9h0M78.1 480.9h0M72.8 483.1h0M73.2 481.1h0M78 482.2h0M70.5 481.7h0M70.3 478.2h0M85 481.4h0M72.7 481.6h0M81.6 483h0M71.9 483.5h0M80.7 484.6h0M71 482.9h0M77.3 480.7h0M86.5 481.4h0M77.3 483.8h0M71.3 483.8h0M74.2 481.7h0M62.8 479.8h0M62.4 483.5h0M78.6 483.8h0M81.1 483.4h0M63.4 482.5h0M70.7 481.9h0M69.2 480.5h0M78.5 482.4h0M74.3 484.8h0M74.2 483.6h0M85.5 485.4h0M79.6 482.6h0M73.6 481.3h0M68.5 482.3h0M77.4 483h0M78 483h0M86.7 483.9h0M82.6 482.4h0M70.9 483.7h0M69 482.4h0M71.7 481.6h0M66.6 481.9h0M83.9 483.7h0M70.3 483.1h0M76 481.3h0M69.5 481.7h0M66 485.5h0M63.9 482.7h0M57.6 482.9h0M59.6 482.7h0M58.3 482.5h0M65.8 487.6h0M64.4 484.2h0M69.5 482.4h0M63.3 482.2h0M61.8 481.4h0M61.9 483.8h0M56.6 485.9h0M59.1 485.4h0M53.8 485.6h0M56.6 485.4h0M57.5 485.2h0M61 489.6h0M66 487.1h0M54.8 490.8h0M63.1 490.2h0M52.9 491.4h0M61.6 480.8h0M60 483.1h0M63.1 484.1h0M54.7 484.4h0M66.9 490.4h0M51.7 487.5h0M57.5 487.4h0M56.6 485.8h0M64.2 486.3h0M55.4 487.4h0M60.8 485.3h0M57.6 487h0M65.2 486.3h0M60.4 481.7h0M65.9 484.6h0M65.2 485.2h0M55.6 481.6h0M57.7 484.2h0M58.6 483.6h0M60.7 485.3h0M57.5 484.7h0M62.8 484h0M55.4 485h0M71.6 486h0M57.1 488.7h0M65.9 481.8h0M62.7 487.1h0M63.4 483.5h0M56.7 482.4h0M59.7 480.9h0M52.1 488.6h0M58 487.3h0M58.2 483h0M51.2 485.5h0M60.2 487.5h0M52.6 484.3h0M61.3 486.3h0M59.5 487.6h0M61.2 482.3h0M56.7 484.4h0M58 479.9h0M51.8 482.3h0M53.7 482.9h0M59.3 485.6h0M55.6 483.7h0M60.1 481.8h0M59.9 486.2h0M59.5 489h0M57.7 484.7h0M54.8 485.3h0M69.3 484.9h0M60.5 483h0M63 483.2h0M54.1 480.8h0M60.9 491.7h0M57.4 488.9h0M62.3 484.2h0M65.7 488.5h0M57.5 484.5h0M68.3 484.9h0M60.4 480.3h0M62.4 485.6h0M65.2 485.8h0M61.4 485.1h0M62.1 484.5h0M61.7 481.6h0M55.6 487.9h0M58 482.6h0M51.9 484.3h0M55.8 483.6h0M57.7 486.7h0M59.1 485.1h0M59.8 487.2h0M60.5 486h0M54.8 487.2h0M60.2 487.8h0M63.7 479.6h0M58.7 485.7h0M62 487.3h0M60.9 486.8h0M53.8 480.6h0M60 481.5h0M52.1 484.7h0M61.1 486.8h0M57.5 481.3h0M57.7 486.3h0M55.9 488.5h0M59.3 489.3h0M60.2 484.9h0M65.3 488.1h0M59.8 483.6h0M55.7 490.1h0M61.1 487.6h0M64.6 484h0M64.2 483h0M54 483.8h0M50.7 485h0M62.4 486.6h0M62.8 482.2h0M66.7 492.2h0M56.9 497.8h0M62.9 492.9h0M61.3 495.1h0M59.4 496.4h0M61.2 498.4h0M57.4 493.6h0M60.1 499.7h0M63 493.1h0M63.3 491.6h0M57.4 490.7h0M61.3 491.8h0M58.5 498.6h0M59.8 491.1h0M65.4 497.3h0M62.3 498.9h0M57.8 496.3h0M59.9 495.5h0M59.8 499.1h0M61.4 492.2h0M62.2 493h0M60.5 495.2h0M61.8 493.2h0M61.8 492.3h0M61.1 498.1h0M59 499.4h0M56.9 498.6h0M58.5 499.1h0M60 492.4h0M58 494.3h0M59.8 493.6h0M56.7 494.2h0M61.4 495.3h0M56.3 491.2h0M59.5 494.5h0M61.7 495.2h0M54 498.6h0M62.3 491.4h0M59.9 490.9h0M57.3 492.9h0M57.8 497.8h0M59.6 497.7h0M60 492.8h0M60.1 496.3h0M63.9 493.3h0M57.1 490.2h0M61.5 499.3h0M62.2 490.2h0M61.6 498.7h0M61.1 493.8h0M60.6 498.8h0M61 495.4h0M60.5 492.1h0M57.6 491.1h0M60.9 494.2h0M61.7 534.4h0M63.9 547.7h0M56.2 556h0M57.6 550.3h0M57.2 542h0M63.4 546h0M58.3 543.1h0M60.6 537.6h0M62.5 546.6h0M60.2 541.6h0M59.3 546.5h0M59.6 540.1h0M58.7 553.1h0M61.6 543.1h0M64.7 537.3h0M53.4 534.7h0M60.5 545.2h0M59.1 534.1h0M61 546.8h0M59.4 542.8h0M64 554.3h0M59.1 546.2h0M63.9 541.8h0M58.6 547.9h0M62 545h0M58 543.1h0M55.5 546.7h0M58.8 532.3h0M62.5 541.5h0M60.1 548h0M60.6 544.3h0M63.8 546.8h0M60.9 550.7h0M62.8 549.3h0M60.6 555.1h0M58.7 543.2h0M60.4 537.9h0M63.1 533h0M61.9 541.6h0M60.7 544.9h0M61.1 547h0M60.6 541.1h0M63.2 554.3h0M59.8 534.1h0M62.8 551.3h0M58.6 539.1h0M60.2 544.2h0M62.7 537.1h0M62.2 549.9h0M61.8 535.3h0M82.2 499.9h0M80.1 506.2h0M83.7 514.6h0M79.6 507.6h0M86.4 523.1h0M83.6 498.4h0M80.3 502.2h0M82.9 515.5h0M86.3 518.6h0M81.2 515.6h0M85.7 510.8h0M79.7 515.1h0M82.5 505.9h0M85.6 512.4h0M79.4 522.9h0M89.5 500.6h0M82.6 517.5h0M82.6 516h0M80.1 509.2h0M78.1 513.1h0M80.4 507.8h0M86.3 506.5h0M77.3 507.5h0M85.7 503.7h0M76.9 517h0M80.5 507.4h0M78.2 512.2h0M83.6 515.1h0M77 509.3h0M84.3 512.2h0M77.8 511.7h0M85.1 521.2h0M83.1 509.4h0M81 513.8h0M79.6 515.6h0M84.6 518h0M86.2 503.5h0M83 514.6h0M78.2 516.7h0M79.2 507.6h0M82.3 501h0M83.1 524.5h0M86.3 510.5h0M86.8 511.5h0M79.6 511.1h0M89.2 511.8h0M80.4 502.1h0M77.4 504.1h0M87.1 505.1h0M78.4 516.1h0M88.6 515.2h0M80.6 507.8h0M78.6 511.2h0M87.9 512.4h0M81.6 512.3h0M80.1 504.8h0M85.9 519.1h0M87 507h0M85.4 512.7h0M80.4 503.7h0M83.9 506.3h0M79 500.5h0M77.8 510.1h0M79.7 508.7h0M76.6 510.7h0M84 508.6h0M82.4 513.6h0M83.9 513.3h0M83.9 507.1h0M78.2 514.4h0M84.1 510.1h0M83.9 514h0M79.8 502.5h0M83.5 506.9h0M79.1 512.7h0M84.4 511.6h0M85.8 509.5h0M78.1 505.9h0M79.1 513.8h0M86.9 510.3h0M79 521.7h0M83.1 503.2h0M78.3 506.6h0M79.8 515.8h0M81.3 516.3h0M77.1 512.4h0M80.6 512.9h0M79.9 504.5h0M85.8 522.6h0M79.4 504.9h0M95.3 499.6h0M95 524.2h0M85.4 520.2h0M94.9 515.9h0M100 494.4h0M104 510.6h0M93.1 500.4h0M82.4 501.4h0M94.2 529.3h0M106.8 518.6h0M89.1 520.7h0M109.9 515.5h0" stroke="#393939" stroke-width="1.4" stroke-linecap="round"/>
<rect x="86.6" y="471" width="48.1" height="22" fill="none" stroke="#b5163c" stroke-width="1.7"/>
<line x1="130" y1="481.8" x2="153.3" y2="481.8" stroke="#1e4f8a" stroke-width="1.6"/>
<path d="M150.3 478.8L155.3 481.8L150.3 484.8Z" fill="#1e4f8a"/>
<text x="120.3" y="503.2" font-size="7.2" text-anchor="middle">ESLAM</text>
<text x="120.3" y="512" font-size="7.2" text-anchor="middle">7.05</text>
<path d="M99 583.8H135.7V685.9H34.3V583.8H41.5" fill="none" stroke="#222" stroke-width="1"/>
<text x="45.8" y="588.5" font-size="9" fill="#111">CALR<tspan dy="-3.6" font-size="7.8">del/del</tspan></text>
<line x1="31.7" y1="592.7" x2="34.3" y2="592.7" stroke="#222" stroke-width="0.8"/>
<text x="28.9" y="595.2" font-size="7" text-anchor="end">10<tspan dy="-2.6" font-size="4.5">5</tspan></text>
<line x1="31.7" y1="612.3" x2="34.3" y2="612.3" stroke="#222" stroke-width="0.8"/>
<text x="28.9" y="614.8" font-size="7" text-anchor="end">10<tspan dy="-2.6" font-size="4.5">4</tspan></text>
<line x1="31.7" y1="633.6" x2="34.3" y2="633.6" stroke="#222" stroke-width="0.8"/>
<text x="28.9" y="636.1" font-size="7" text-anchor="end">10<tspan dy="-2.6" font-size="4.5">3</tspan></text>
<line x1="31.7" y1="654.1" x2="34.3" y2="654.1" stroke="#222" stroke-width="0.8"/>
<text x="28.9" y="656.6" font-size="7" text-anchor="end">10<tspan dy="-2.6" font-size="4.5">2</tspan></text>
<line x1="31.7" y1="673.8" x2="34.3" y2="673.8" stroke="#222" stroke-width="0.8"/>
<text x="28.9" y="676.3" font-size="7" text-anchor="end">10<tspan dy="-2.6" font-size="4.5">1</tspan></text>
<line x1="32.9" y1="606.4" x2="34.3" y2="606.4" stroke="#222" stroke-width="0.5"/>
<line x1="32.9" y1="602.9" x2="34.3" y2="602.9" stroke="#222" stroke-width="0.5"/>
<line x1="32.9" y1="600.5" x2="34.3" y2="600.5" stroke="#222" stroke-width="0.5"/>
<line x1="32.9" y1="598.6" x2="34.3" y2="598.6" stroke="#222" stroke-width="0.5"/>
<line x1="32.9" y1="597" x2="34.3" y2="597" stroke="#222" stroke-width="0.5"/>
<line x1="32.9" y1="595.7" x2="34.3" y2="595.7" stroke="#222" stroke-width="0.5"/>
<line x1="32.9" y1="594.6" x2="34.3" y2="594.6" stroke="#222" stroke-width="0.5"/>
<line x1="32.9" y1="593.6" x2="34.3" y2="593.6" stroke="#222" stroke-width="0.5"/>
<line x1="32.9" y1="627.2" x2="34.3" y2="627.2" stroke="#222" stroke-width="0.5"/>
<line x1="32.9" y1="623.4" x2="34.3" y2="623.4" stroke="#222" stroke-width="0.5"/>
<line x1="32.9" y1="620.8" x2="34.3" y2="620.8" stroke="#222" stroke-width="0.5"/>
<line x1="32.9" y1="618.7" x2="34.3" y2="618.7" stroke="#222" stroke-width="0.5"/>
<line x1="32.9" y1="617" x2="34.3" y2="617" stroke="#222" stroke-width="0.5"/>
<line x1="32.9" y1="615.6" x2="34.3" y2="615.6" stroke="#222" stroke-width="0.5"/>
<line x1="32.9" y1="614.4" x2="34.3" y2="614.4" stroke="#222" stroke-width="0.5"/>
<line x1="32.9" y1="613.3" x2="34.3" y2="613.3" stroke="#222" stroke-width="0.5"/>
<line x1="32.9" y1="647.9" x2="34.3" y2="647.9" stroke="#222" stroke-width="0.5"/>
<line x1="32.9" y1="644.3" x2="34.3" y2="644.3" stroke="#222" stroke-width="0.5"/>
<line x1="32.9" y1="641.8" x2="34.3" y2="641.8" stroke="#222" stroke-width="0.5"/>
<line x1="32.9" y1="639.8" x2="34.3" y2="639.8" stroke="#222" stroke-width="0.5"/>
<line x1="32.9" y1="638.1" x2="34.3" y2="638.1" stroke="#222" stroke-width="0.5"/>
<line x1="32.9" y1="636.8" x2="34.3" y2="636.8" stroke="#222" stroke-width="0.5"/>
<line x1="32.9" y1="635.6" x2="34.3" y2="635.6" stroke="#222" stroke-width="0.5"/>
<line x1="32.9" y1="634.5" x2="34.3" y2="634.5" stroke="#222" stroke-width="0.5"/>
<line x1="32.9" y1="667.9" x2="34.3" y2="667.9" stroke="#222" stroke-width="0.5"/>
<line x1="32.9" y1="664.4" x2="34.3" y2="664.4" stroke="#222" stroke-width="0.5"/>
<line x1="32.9" y1="661.9" x2="34.3" y2="661.9" stroke="#222" stroke-width="0.5"/>
<line x1="32.9" y1="660" x2="34.3" y2="660" stroke="#222" stroke-width="0.5"/>
<line x1="32.9" y1="658.5" x2="34.3" y2="658.5" stroke="#222" stroke-width="0.5"/>
<line x1="32.9" y1="657.2" x2="34.3" y2="657.2" stroke="#222" stroke-width="0.5"/>
<line x1="32.9" y1="656" x2="34.3" y2="656" stroke="#222" stroke-width="0.5"/>
<line x1="32.9" y1="655" x2="34.3" y2="655" stroke="#222" stroke-width="0.5"/>
<line x1="40.9" y1="685.9" x2="40.9" y2="688.5" stroke="#222" stroke-width="0.8"/>
<text x="40.9" y="697" font-size="7" text-anchor="middle">−10<tspan dy="-2.6" font-size="4.5">3</tspan></text>
<line x1="59.5" y1="685.9" x2="59.5" y2="688.5" stroke="#222" stroke-width="0.8"/>
<text x="59.5" y="697" font-size="7" text-anchor="middle">0</text>
<line x1="76" y1="685.9" x2="76" y2="688.5" stroke="#222" stroke-width="0.8"/>
<text x="76" y="697" font-size="7" text-anchor="middle">10<tspan dy="-2.6" font-size="4.5">3</tspan></text>
<line x1="103" y1="685.9" x2="103" y2="688.5" stroke="#222" stroke-width="0.8"/>
<text x="103" y="697" font-size="7" text-anchor="middle">10<tspan dy="-2.6" font-size="4.5">4</tspan></text>
<line x1="127.5" y1="685.9" x2="127.5" y2="688.5" stroke="#222" stroke-width="0.8"/>
<text x="127.5" y="697" font-size="7" text-anchor="middle">10<tspan dy="-2.6" font-size="4.5">5</tspan></text>
<line x1="84.1" y1="685.9" x2="84.1" y2="687.3" stroke="#222" stroke-width="0.5"/>
<line x1="88.9" y1="685.9" x2="88.9" y2="687.3" stroke="#222" stroke-width="0.5"/>
<line x1="92.3" y1="685.9" x2="92.3" y2="687.3" stroke="#222" stroke-width="0.5"/>
<line x1="94.9" y1="685.9" x2="94.9" y2="687.3" stroke="#222" stroke-width="0.5"/>
<line x1="97" y1="685.9" x2="97" y2="687.3" stroke="#222" stroke-width="0.5"/>
<line x1="98.8" y1="685.9" x2="98.8" y2="687.3" stroke="#222" stroke-width="0.5"/>
<line x1="100.4" y1="685.9" x2="100.4" y2="687.3" stroke="#222" stroke-width="0.5"/>
<line x1="101.8" y1="685.9" x2="101.8" y2="687.3" stroke="#222" stroke-width="0.5"/>
<line x1="110.4" y1="685.9" x2="110.4" y2="687.3" stroke="#222" stroke-width="0.5"/>
<line x1="114.7" y1="685.9" x2="114.7" y2="687.3" stroke="#222" stroke-width="0.5"/>
<line x1="117.8" y1="685.9" x2="117.8" y2="687.3" stroke="#222" stroke-width="0.5"/>
<line x1="120.1" y1="685.9" x2="120.1" y2="687.3" stroke="#222" stroke-width="0.5"/>
<line x1="122.1" y1="685.9" x2="122.1" y2="687.3" stroke="#222" stroke-width="0.5"/>
<line x1="123.7" y1="685.9" x2="123.7" y2="687.3" stroke="#222" stroke-width="0.5"/>
<line x1="125.1" y1="685.9" x2="125.1" y2="687.3" stroke="#222" stroke-width="0.5"/>
<line x1="126.4" y1="685.9" x2="126.4" y2="687.3" stroke="#222" stroke-width="0.5"/>
<path d="M63.2 624C64.7 624 67 623.8 68.7 624.5C70.3 625.2 71.7 626.4 73.2 628.1C74.6 629.7 76 632.1 77.2 634.4C78.4 636.6 79.8 639.3 80.3 641.6C80.9 643.8 81.1 645.8 80.8 647.9C80.5 650 79.7 652.1 78.5 654.2C77.4 656.3 75.5 658.5 74 660.5C72.5 662.5 70.9 664.5 69.5 666.3C68.2 668.2 67.3 670.5 66 671.7C64.6 672.9 63 673.9 61.5 673.5C60 673.2 58.2 671.4 57 669.5C55.8 667.6 55.1 665 54.2 662.3C53.4 659.6 52.4 656.4 52 653.3C51.6 650.1 51.7 646.4 52 643.4C52.3 640.4 53 637.8 53.8 635.3C54.6 632.8 55.9 630.3 57 628.5C58 626.8 59.1 625.7 60.1 624.9C61.1 624.2 61.8 624.1 63.2 624Z" fill="#444444"/>
<path d="M56 605.8C66 605.6 76 605.4 86 604.8C100 604 114 603.8 128.5 604.7C130.5 606.8 130.5 609.8 128.5 611.8C116 612.4 102 612 88 611.2C76 610.8 66 610.6 56 610.5C54.8 609.3 54.8 607 56 605.8Z" fill="#444444"/>
<path d="M55.6 670.2h0M78.5 628.8h0M58.7 624.1h0M56.8 623.8h0M82.1 651.4h0M82.3 644.3h0M64.9 619.9h0M82.9 641.1h0M81.9 650.9h0M61.4 673.9h0M80.2 632.5h0M82.6 650.1h0M60.1 681.1h0M69.7 669.1h0M72.7 661.4h0M78.1 639.7h0M54.2 623.3h0M80.5 645.3h0M56.5 622.8h0M84.2 649.7h0M70.2 619.5h0M70.7 624.6h0M63.1 616.7h0M68.4 618.9h0M71 669.7h0M52.4 642.5h0M75.6 657h0M67.3 623.6h0M73.7 665.5h0M66.5 625.6h0M79.9 641.5h0M80.4 654.3h0M79.9 660.4h0M58.3 672.3h0M67 620.6h0M59.7 671.2h0M58.3 621.9h0M64.3 676h0M71.9 668.6h0M50.9 658.9h0M87.4 647.5h0M49.4 652.5h0M56.7 674.3h0M64.8 674h0M50.5 641h0M69.5 624.5h0M74.7 624.3h0M87.9 645.5h0M75 669.9h0M53.5 632.1h0M61.3 624.1h0M72.2 622.8h0M75.3 624.5h0M48.6 646h0M48.1 654.7h0M68.4 624.8h0M55.7 669.9h0M65.5 619.7h0M78.1 662.5h0M65.4 618h0M64 622.3h0M84.1 645.2h0M81.1 649.5h0M48.7 650.8h0M82.9 651.7h0M73.7 627.4h0M54.3 670.3h0M58.2 672.4h0M73.1 662.5h0M77.1 634.9h0M77.7 631.4h0M58.7 620.2h0M62.6 621h0M51.7 644.3h0M73.9 668.4h0M74.5 629.2h0M49.7 635.4h0M70.2 627.9h0M56.1 671.6h0M70.7 625.2h0M72.2 621.3h0M70.1 622.2h0M80.9 641.2h0M67 623h0M53.2 671.1h0M71.4 667.9h0M58.1 671.2h0M56.4 626h0M72.4 666h0M59.9 673.5h0M72.4 668.2h0M84.2 651.4h0M49.8 625.4h0M77.3 661.9h0M78.1 658.6h0M67.9 676h0M76.8 629.9h0M55.2 624.2h0M85.5 653.7h0M72.7 667.3h0M68.5 675.3h0M71.2 665.2h0M69.3 619.7h0M69.7 623h0M77.9 659.7h0M70.8 667.1h0M71.1 667.1h0M56.7 636.8h0M65 620.6h0M53.5 631.2h0M56.4 641.5h0M65 622.5h0M63.6 621.8h0M53 655.7h0M82.6 637.8h0M53.9 624.7h0M61 624.8h0M71.7 622h0M80.3 624.5h0M82 656h0M52.2 647.6h0M74.7 624.8h0M52.5 641.3h0M52.4 631.1h0M53.6 664.7h0M61.4 622.9h0M78.1 650.9h0M71.6 630.1h0M49.1 664.6h0M55.2 635.1h0M54.9 665.8h0M57.6 621.9h0M57.1 672.9h0M82.9 643.4h0M78.4 652.9h0M69.8 664.8h0M79.8 645.4h0M70.8 664.5h0M49.3 652.4h0M53.9 630.8h0M71.3 621.8h0M70 664.2h0M62.6 673.3h0M55.4 627h0M79 652.5h0M86.5 646h0M54.7 627.4h0M59.1 678.8h0M54.8 666.2h0M69.6 673.8h0M70.6 665h0M75.4 626.7h0M49.5 648.6h0M71.6 670.3h0M61.5 626.1h0M67.9 663.1h0M71.2 669.7h0M48.3 631.7h0M63.1 622.4h0M83.6 653.3h0M55.7 626h0M55.6 662.4h0M55.2 626.7h0M50 651.9h0M65.1 620.8h0M50.3 662.6h0M61.3 622.1h0M62.9 672.7h0M52.2 656.3h0M55.8 669.2h0M47.9 655.4h0M65.6 676.8h0M82.5 646h0M66.5 620.7h0M77.7 650.7h0M67.5 622.9h0M67.3 677.7h0M44.7 659.6h0M68.1 620.4h0M79.1 666.1h0M81 651.3h0M66.7 668.2h0M47.6 633.8h0M60.8 625.3h0M67.3 674.1h0M64.4 623.9h0M61.7 676.4h0M56.3 672.8h0M64.4 673.8h0M53.7 632.4h0M80.2 652.7h0M60.6 618.5h0M83.6 644.3h0M57.3 620.2h0M64.1 624.7h0M79.4 659.4h0M76 627.9h0M49 647.6h0M52.8 658.7h0M53.2 663.9h0M59.1 678.4h0M58.5 620h0M72 634h0M74.3 625.4h0M78.4 656.8h0M67.3 624.3h0M78.8 660.5h0M56.1 632.9h0M64.3 671.3h0M82.2 647.8h0M81.3 632.5h0M77 659h0M51.7 645.2h0M50.8 660.8h0M72.1 627.9h0M73 668h0M49.3 656.8h0M50.6 647.5h0M49.1 659.6h0M82.7 642h0M51.2 635.6h0M56.1 633.1h0M76.6 630.8h0M75.8 663.1h0M54.7 633h0M70.3 667h0M72 672h0M77.9 653.7h0M79.3 657.1h0M79.2 633.1h0M83.9 643h0M62.1 673.4h0M51.9 656.6h0M65.7 622.3h0M75.6 625.5h0M57.4 635.9h0M57.7 625.4h0M63.5 671.1h0M61.6 678.6h0M52.6 625.4h0M67.6 621.4h0M80.3 639.5h0M70.8 670.7h0M81 643.4h0M73.4 662.4h0M84.4 644.4h0M58.1 674.4h0M53.7 654.9h0M66.3 680.6h0M58 675.4h0M52.9 634.5h0M68.2 669.4h0M84.7 645.9h0M60.7 675.7h0M70.3 623.5h0M67.1 667.2h0M66.2 675.1h0M54.1 636.1h0M80.2 638h0M58.5 626.7h0M76.6 625.6h0M71.6 663.6h0M75.6 632.5h0M56.9 674.3h0M54 657.7h0M55.6 634.1h0M75.4 660.9h0M67.2 671.3h0M53.8 660.1h0M50.5 663.4h0M85.4 646.5h0M69.2 669.9h0M52 633.3h0M59.9 622h0M65.5 678.3h0M62.8 622.4h0M64.1 674.2h0M59.2 675.7h0M64.8 673.6h0M64.2 674h0M66.8 672.6h0M68.1 624.7h0M74.2 625.7h0M58.2 627.9h0M52.7 625.6h0M51.2 646.6h0M56.3 626.1h0M62 620.4h0M69.9 627.3h0M76.5 656.6h0M62.5 622.2h0M53.9 661.8h0M68.3 624.7h0M51.9 662.7h0M51.6 648h0M63 619.1h0M64.6 621.6h0M71.8 622.6h0M80.7 640.7h0M55.7 654.8h0M58.6 622.2h0M50.4 645.3h0M52.5 638.8h0M53.3 627.6h0M71.2 667.5h0M79.7 634h0M55.4 623.9h0M69.3 623.4h0M64.4 672.3h0M75.8 659h0M74.6 626.7h0M50.3 641.4h0M49.5 655.7h0M52.8 633.8h0M81 662.2h0M63.8 621.5h0M64.4 621.1h0M74.6 659.7h0M53.2 669.1h0M67.8 668.2h0M62.3 625.1h0M48.5 647.7h0M55.9 629.5h0M75.2 664.2h0M78.3 652.5h0M69.2 625.6h0M62.6 621.9h0M54.2 641.5h0M73.1 664.7h0M82.1 643.4h0M80.2 637.2h0M65.6 622.4h0M53.7 674.3h0M84 654.6h0M85.1 649.4h0M59.4 677.5h0M58.6 624.3h0M59.1 670h0M52.1 631.4h0M53.8 635.7h0M66.3 674h0M67.2 678.4h0M76.3 661.2h0M83.7 648.7h0M73.3 626.1h0M61.3 674h0M75.3 621.8h0M79.5 629.5h0M66.6 671.1h0M62.8 673h0M51.2 638.8h0M64.7 677.2h0M63.7 672.8h0M80.1 634.4h0M61.5 674.4h0M50.5 640.4h0M56.2 624.2h0M76.4 628.2h0M65.2 622.5h0M86 648.9h0M61.9 623.5h0M70.1 673h0M66 670.7h0M50.5 647.3h0M68.9 627.5h0M77 661.3h0M71.4 663.8h0M52.8 658.7h0M57.7 671.9h0M84 649.8h0M51.7 663.4h0M60.1 680.1h0M78.3 654.6h0M50.4 651.8h0M79.2 645.5h0M80.6 648.5h0M52.8 628.6h0M58.1 623.5h0M81.9 650.6h0M52.8 632.1h0M70.2 665.9h0M49.4 644.3h0M54.9 627.2h0M58.2 674.8h0M79.8 649.8h0M64.3 623.7h0M54.8 662.9h0M86.1 646.1h0M85.8 646.8h0M53.1 666.9h0M81.7 645.7h0M81.6 633.2h0M57.7 621.4h0M53.7 628.8h0M78.6 656.6h0M65.4 621.9h0M64.3 617.1h0M66.3 621.9h0M62.8 675.2h0M75.6 664.1h0M78.5 663.1h0M76.8 666h0M78.9 646.6h0M53.5 669.3h0M53.1 646.9h0M75.5 625.3h0M74.1 672.3h0M79.3 648.5h0M68 667.8h0M49.6 655.7h0M69.9 622.3h0M56.8 626.4h0M51.6 633.9h0M70.6 670.6h0M55.4 628.5h0M47.3 639.5h0M72.5 670.6h0M78.5 634h0M78.6 625.5h0M72.1 663.4h0M78.9 635.2h0M60.5 676.7h0M56.2 677.9h0M59.6 624.6h0M48.3 648.1h0M65.8 674.6h0M77.2 659.6h0M80.1 630.1h0M76.8 633.6h0M68.6 619h0M61.5 621.9h0M51.1 654.7h0M78.3 631.1h0M72.3 624.7h0M72.3 674.7h0M62.2 622.5h0M47 644.5h0M78 629.2h0M73.3 659.9h0M81.1 650.9h0M82.4 647h0M66.5 617.7h0M63.4 678.2h0M58.2 623.1h0M67.9 674.2h0M53.4 651.3h0M51.1 638.6h0M64.7 619.7h0M59.1 624.6h0M55 627.8h0M54.4 660.8h0M60.6 679.5h0M57.8 676.4h0M48.6 648.6h0M73.8 663.6h0M75.4 658.4h0M48.3 655.2h0M59.2 670.3h0M71.8 661.5h0M84 648.7h0M51.8 667.3h0M50.5 659.9h0M51.6 657.5h0M52.4 632.9h0M53.8 665.8h0M52.2 647.7h0M75.9 637.1h0M53.7 629.9h0M69 666.1h0M72.3 666.5h0M62.4 674.6h0M63.2 676h0M45.9 629.8h0M59 621.3h0M74 621.7h0M64.3 669.5h0M63.2 617h0M52.4 663.7h0M68.8 624.5h0M50.4 657.9h0M81.1 645.5h0M60.2 625.2h0M55.3 663.1h0M51.7 651h0M73.3 659.2h0M67.5 625.1h0M67.4 624.4h0M81 653.8h0M56.4 669.6h0M52.4 654.1h0M74.8 661.2h0M52.8 643.9h0M65.8 626h0M55.5 638.9h0M67.8 623.7h0M51.3 652.9h0M79.1 642.3h0M61.7 624.3h0M57.8 669.3h0M61.6 625h0M55.4 665.5h0M52.3 645.1h0M54.9 635.2h0M76.6 658.3h0M79.5 648.8h0M51.3 660.5h0M61.1 622.3h0M76.8 654.2h0M59.6 671.3h0M72.8 664.1h0M68.5 624.8h0M68.5 626.4h0M54.5 633.9h0M74.3 633.1h0M69.9 667.1h0M80.4 650.7h0M54 658.2h0M66.4 624.1h0M55.7 629.4h0M52.7 638.3h0M79.2 651.4h0M70.5 626.6h0M78.2 639.6h0M76.1 632.7h0M70.3 627.9h0M59.7 626.6h0M53.7 659.8h0M58.4 668.8h0M78.4 655.1h0M71.3 624.5h0M78 655.6h0M58 628.3h0M62.7 671.8h0M77 631.5h0M61.5 627.1h0M56.2 669.5h0M53.9 655.7h0M50.6 646.5h0M53.9 635.8h0M63.3 623.5h0M53.3 655.6h0M78.2 653.7h0M62.4 624.8h0M59.6 671h0M65 672.6h0M81.6 642.9h0M59 628.6h0M69.6 624.9h0M61.5 672.6h0M72.4 663.9h0M51.7 639.5h0M73.4 662h0M63.8 622.6h0M60.6 673.6h0M73.7 659.6h0M63.8 671.1h0M54.3 633.7h0M82.1 644.3h0M66.7 625.7h0M60.7 625.3h0M78.4 654h0M51.4 659.6h0M65.9 669.8h0M59.4 670h0M51.3 642.7h0M72.2 626.3h0M67 672.7h0M73.2 663.3h0M54.6 634h0M52.6 643.9h0M69.8 669.9h0M53.4 659.2h0M64.5 671.2h0M58.8 672.3h0M53.4 636.4h0M53.5 647.1h0M67 670.2h0M51.3 653.9h0M51.7 642.3h0M54.4 666.4h0M77.9 653.4h0M79.5 651.9h0M77.6 655.7h0M71.4 626.7h0M68 623.6h0M60.8 671.2h0M76.5 655.1h0M59 629.7h0M76.6 635.2h0M69.8 667.1h0M52.2 639.7h0M82.6 645.7h0M59.9 672h0M69.2 624.4h0M78.5 634.8h0M56.2 666.2h0M69.6 625.8h0M74.7 661.4h0M56 668.9h0M50.5 643.1h0M77.9 656.2h0M52.5 640.6h0M52.9 648.3h0M56.6 631h0M62.5 624.9h0M78.2 654.2h0M80.2 641.5h0M71.9 626.3h0M73.1 627.9h0M62.7 672.5h0M71.4 666.1h0M55.1 634h0M54.2 635.6h0M80.8 640.8h0M64.1 623.1h0M71.4 663.8h0M55.5 636.4h0M54.4 656.2h0M69.2 665.9h0M62.7 673.3h0M57.9 672.1h0M69.7 624.5h0M72.8 664.6h0M76.3 630.9h0M53.7 647.5h0M74.9 660.3h0M65.7 672.3h0M51.2 643.3h0M52.4 649.5h0M64.6 670.3h0M71.3 626.5h0M53 645.5h0M52.4 643.7h0M53.9 633.2h0M52.5 646.5h0M74.6 629h0M80.5 652.7h0M53.7 648.2h0M69.9 669.8h0M56.7 628.1h0M80.9 644.7h0M71 660.5h0M56.5 669.4h0M52.3 639.9h0M61.5 625.6h0M64.2 624.8h0M56.8 665.8h0M71.9 665.1h0M78.4 637.2h0M52.1 657.2h0M110.6 606.9h0M91.3 607h0M67.3 609.6h0M120.5 608h0M102.3 607.7h0M59.5 606.7h0M128.9 607.6h0M88.6 606.3h0M125.7 607.7h0M56.7 607.5h0M116.7 609.5h0M92.5 609.3h0M72 606.5h0M98.4 609.1h0M102.9 608.7h0M106.2 608.3h0M102.8 609.3h0M97.7 604.7h0M73.5 608.4h0M57.4 611.6h0M114.1 609.6h0M74.7 607.1h0M126.8 609.7h0M95.4 607.8h0M62.3 607.1h0M81.1 606.5h0M124 606.1h0M121.1 604.1h0M128.8 601.5h0M124.6 609.9h0M74 609.2h0M108.6 607h0M67.1 608h0M99 606.4h0M99.5 606.4h0M110 606.9h0M95.6 604.7h0M76.4 608.4h0M79.5 607.5h0M78.1 605.5h0M69.3 606.3h0M102.4 605h0M66.4 606.5h0M115.6 607.7h0M71.9 610.2h0M122.3 605h0M102.4 605.3h0M70.5 607.3h0M69.2 608.5h0M120.2 610.2h0M62.3 608h0M117.8 608.6h0M91.9 608h0M129.7 608h0M130.3 609.9h0M126.7 605.5h0M119.5 610.1h0M91.3 610.1h0M113.5 608h0M129.1 605.9h0M93.2 608.8h0M108.3 612.8h0M128.5 608.7h0M60.8 609.9h0M74 608.1h0M118.1 609.9h0M128 606h0M81.4 608.7h0M98.1 610h0M78.8 611.2h0M86.2 606.3h0M81.2 607.5h0M111.2 610.2h0M118.5 608.9h0M78.6 607.7h0M93.1 610.3h0M115.1 607.3h0M121.5 605.9h0M118.5 608.5h0M110.4 609.7h0M128.5 607.9h0M100.5 610.1h0M105.5 605.7h0M123 609.6h0M100.6 608.9h0M121 609.5h0M68.1 611.5h0M90.9 604.6h0M102.9 608.8h0M122.7 607.2h0M102.8 606h0M93.8 609.3h0M77.2 606.7h0M82.7 608h0M113.2 612h0M82.8 603.9h0M128.9 610.2h0M80.9 608.7h0M130.9 607.7h0M88.7 608.5h0M113.3 607.8h0M126.9 609.2h0M74.9 605.4h0M82.1 612.1h0M80.8 606.5h0M90.5 606.6h0M80.1 606.8h0M123.8 610.4h0M94.9 610h0M99.4 610.5h0M118.4 605.4h0M58.3 609.4h0M54.4 604.4h0M81.2 607.5h0M104 603.6h0M124.9 609.5h0M121 608.9h0M119.5 608.5h0M97.2 610.8h0M116.3 606.5h0M117.7 609.1h0M113.7 605.8h0M84.2 610.7h0M101.4 608.8h0M95.8 609.9h0M68.1 607.2h0M89.2 609.9h0M101.8 611.5h0M86.8 605.5h0M72.9 611.9h0M117.5 610.4h0M116.3 609.9h0M76.4 606.8h0M68.4 605h0M67.7 610.2h0M97.2 609.3h0M104.9 608.7h0M111 609.8h0M81.7 607.3h0M64.9 608.2h0M54.7 608.5h0M71 605.6h0M125.9 607.4h0M100.4 609.1h0M114 608.6h0M129.9 608h0M90.6 606.4h0M97.2 606.4h0M74.8 608.7h0M60 612.4h0M129.8 603.9h0M93.1 607.4h0M70.7 606.6h0M55.2 606h0M103.2 611.4h0M81.8 605.3h0M78.6 608.3h0M97.9 610.2h0M130.5 607h0M115.4 611.4h0M113.5 611.6h0M97.6 609.2h0M78.1 611h0M98.8 609.3h0M129.2 609.8h0M107.7 605h0M111.2 607.8h0M108 607.7h0M108.3 609.5h0M127.1 609.8h0M86.8 606.2h0M107.1 610.5h0M118.9 608.7h0M129.2 609.2h0M100.1 608.8h0M108.4 609h0M72.3 607.8h0M100.4 608.1h0M93.1 607.5h0M114.6 606.8h0M66.1 608.7h0M117.6 605.3h0M113 607.8h0M117.7 606.3h0M126.6 609.2h0M66.7 608.4h0M103.6 605.6h0M83.2 609.8h0M88.7 607.3h0M64.7 611.2h0M63.5 605.4h0M74.2 607.9h0M101.2 608.5h0M122.6 607.5h0M129.9 605.4h0M87.5 607.3h0M108 609.6h0M99.1 609.8h0M129.2 609.8h0M124.3 604.9h0M100.5 604.9h0M101.2 607.5h0M107.4 606.6h0M101.5 607.2h0M77 610.5h0M110.5 609.8h0M64.2 609.6h0M104 611.4h0M58.6 610.3h0M120.3 606.3h0M89.3 613.2h0M73.9 607.2h0M120.6 606.6h0M99.9 607.7h0M80.9 610.9h0M84.4 609.4h0M80.6 608.8h0M75.3 605.9h0M107.5 609.2h0M104.7 606.7h0M99.4 605.2h0M123 609.1h0M57.5 609.4h0M126.1 609.6h0M122.3 606.5h0M105.4 612.3h0M89.5 606h0M85.5 603.3h0M99.3 610.8h0M91.8 610.1h0M126.9 608.3h0M95.9 609.3h0M127.6 603.5h0M115.9 606.1h0M127.8 608h0M120.2 608h0M110.9 607.3h0M113.4 609.3h0M98.3 609.5h0M83.5 609h0M98.5 608.8h0M57.7 608.6h0M85.5 605.8h0M83.3 606.8h0M114.9 610.7h0M96.7 607.4h0M120.5 605.2h0M115.7 608h0M91 607.5h0M71 608.6h0M126.8 606.8h0M90.4 610h0M77.7 610.8h0M91.9 605.1h0M102.6 609.2h0M111.8 609.5h0M109.2 602.4h0M96.4 606h0M121.8 608h0M104.4 606.7h0M55.6 619h0M62.1 619h0M58.2 620.9h0M55.4 614.8h0M60.4 613.6h0M61.9 621.6h0M57.5 618h0M59.9 621h0M61.3 614.5h0M61.6 619.2h0M62.6 617.7h0M64.2 618.8h0M61.3 615.2h0M62.6 619.7h0M58.6 612.9h0M58.5 618.8h0M63.9 619h0M59.8 620.6h0M59.4 612.4h0M60.1 617h0M62.1 613h0M58.8 615.4h0M60.6 615.4h0M63.4 612.3h0M62.9 614h0M62 621.5h0M58.4 615.1h0M57 616h0M59.6 621.9h0M56.4 617.1h0M62.6 615.5h0M63.2 612.2h0M55.3 618h0M60.1 616h0M57 619.2h0M61.6 614h0M62.4 620.6h0M60.6 619.9h0M57.5 617.4h0M59 619.7h0M59.5 681.1h0M62.9 678.4h0M61 682.6h0M60.8 683.3h0M65.3 675.8h0M60.7 677h0M58.9 677.9h0M61.6 678.2h0M57.5 681.5h0M61.6 683.5h0M59.5 679.7h0M57.7 676.4h0M57.3 679.1h0M60.9 678.3h0M60.6 680h0M58.2 683.2h0M61.9 675.3h0M60.6 674.9h0M59 679.1h0M62.9 675.9h0M63 678.9h0M66.4 676.3h0M67.3 678.9h0M58 675.4h0M58.7 683.3h0M60.3 678.7h0M61.7 680.8h0M58.4 677.4h0M64.1 683h0M65.2 674.7h0M59.1 678.6h0M58.6 676h0M60.5 680.5h0M62.1 678.6h0M62 685h0M56.2 681.4h0M65.3 681.1h0M63.8 682.1h0M59.3 679.2h0M62.4 674h0M82.5 638h0M81.7 640.3h0M78.2 650.1h0M89.6 640.3h0M92.7 632.4h0M86.8 627.2h0M85.6 634.1h0M87.3 640.9h0M87 644.8h0M85.2 637.9h0M89.8 642.8h0M85.1 651.3h0M81.9 653.7h0M87.6 640.6h0M81.7 640.8h0M83.5 647.5h0M85.7 625.7h0M80.2 642.8h0M83.7 646.3h0M85.4 652.8h0M79.9 650.3h0M84.6 642.4h0M85.9 637.4h0M86.1 638.4h0M86.1 634h0M88 628.1h0M80.2 639.7h0M84 633.8h0M81.3 642h0M87.5 650.2h0M81 639.5h0M81.7 628.1h0M81.1 648.9h0M87.2 653.6h0M84.9 652.5h0M80.6 650h0M86.2 646.2h0M86.2 644.6h0M85.8 649.4h0M84.8 645h0M84.8 641.1h0M79.3 625.9h0M78.7 630.3h0M81.6 650h0M96.3 646.1h0M81 643h0M82.1 642.3h0M91.9 652.6h0M88.5 642.3h0M90.6 646.6h0M86.8 630.9h0M80.4 641.4h0M82.1 636h0M82.6 642.5h0M78.4 639h0M90.7 641.3h0M83 650h0M83.8 650.9h0M84.4 649.3h0M88.8 652.2h0M83.9 645.1h0M83.9 643.8h0M80 646.6h0M82.3 646.3h0M83.8 632.8h0M87.5 655.9h0M87 642.3h0M82.9 633.9h0M87.2 645.7h0M92.8 625.2h0M84.5 639.9h0M89.1 639.8h0M78.9 639.6h0M84.9 634.3h0M79.7 642.2h0M86.8 638.3h0M85.1 636.1h0M81.6 641.6h0M87.2 652.5h0M82.5 643.6h0M91.4 646.6h0M81.5 643.3h0M79.8 634.5h0M81.1 640.8h0M83.3 638.5h0M78 655.3h0M86 638.5h0M82.6 642.5h0M84 637.5h0M87.6 644.1h0M111.3 653h0M103.7 649.7h0M112.7 648.6h0M95.4 642.2h0M96.9 618.5h0M100 625.9h0M88.2 655.3h0M95.8 658.2h0M110.6 642.7h0M101.4 645.3h0M103.5 629.3h0M90.7 627.2h0M112.4 657.2h0" stroke="#393939" stroke-width="1.4" stroke-linecap="round"/>
<rect x="86.6" y="596.6" width="49.1" height="22.9" fill="none" stroke="#b5163c" stroke-width="1.7"/>
<line x1="127.5" y1="607.4" x2="153.3" y2="607.4" stroke="#1e4f8a" stroke-width="1.6"/>
<path d="M150.3 604.4L155.3 607.4L150.3 610.4Z" fill="#1e4f8a"/>
<text x="120.3" y="629.7" font-size="7.2" text-anchor="middle">ESLAM</text>
<text x="120.3" y="638.7" font-size="7.2" text-anchor="middle">16.0</text>
<line x1="27.8" y1="701.2" x2="125.5" y2="701.2" stroke="#222" stroke-width="1"/>
<path d="M124 699.4L127.5 701.2L124 703Z" fill="#222"/>
<text x="77" y="711" font-size="9.3" text-anchor="middle" font-style="italic">EPCR</text>
<line x1="162.5" y1="688" x2="162.5" y2="464" stroke="#222" stroke-width="1"/>
<path d="M160.7 465.5L162.5 462L164.3 465.5Z" fill="#222"/>
<text x="160.2" y="575" font-size="10" text-anchor="middle" font-style="italic" transform="rotate(-90 160.2 575)">CD45</text>
<rect x="185.4" y="459" width="100.6" height="99.5" fill="none" stroke="#222" stroke-width="1"/>
<line x1="182.8" y1="468.3" x2="185.4" y2="468.3" stroke="#222" stroke-width="0.8"/>
<text x="180" y="470.8" font-size="7" text-anchor="end">10<tspan dy="-2.6" font-size="4.5">5</tspan></text>
<line x1="182.8" y1="487.7" x2="185.4" y2="487.7" stroke="#222" stroke-width="0.8"/>
<text x="180" y="490.2" font-size="7" text-anchor="end">10<tspan dy="-2.6" font-size="4.5">4</tspan></text>
<line x1="182.8" y1="508.3" x2="185.4" y2="508.3" stroke="#222" stroke-width="0.8"/>
<text x="180" y="510.8" font-size="7" text-anchor="end">10<tspan dy="-2.6" font-size="4.5">3</tspan></text>
<line x1="182.8" y1="527.7" x2="185.4" y2="527.7" stroke="#222" stroke-width="0.8"/>
<text x="180" y="530.2" font-size="7" text-anchor="end">10<tspan dy="-2.6" font-size="4.5">2</tspan></text>
<line x1="182.8" y1="547.7" x2="185.4" y2="547.7" stroke="#222" stroke-width="0.8"/>
<text x="180" y="550.2" font-size="7" text-anchor="end">10<tspan dy="-2.6" font-size="4.5">1</tspan></text>
<line x1="184" y1="481.9" x2="185.4" y2="481.9" stroke="#222" stroke-width="0.5"/>
<line x1="184" y1="478.4" x2="185.4" y2="478.4" stroke="#222" stroke-width="0.5"/>
<line x1="184" y1="476" x2="185.4" y2="476" stroke="#222" stroke-width="0.5"/>
<line x1="184" y1="474.1" x2="185.4" y2="474.1" stroke="#222" stroke-width="0.5"/>
<line x1="184" y1="472.6" x2="185.4" y2="472.6" stroke="#222" stroke-width="0.5"/>
<line x1="184" y1="471.3" x2="185.4" y2="471.3" stroke="#222" stroke-width="0.5"/>
<line x1="184" y1="470.2" x2="185.4" y2="470.2" stroke="#222" stroke-width="0.5"/>
<line x1="184" y1="469.2" x2="185.4" y2="469.2" stroke="#222" stroke-width="0.5"/>
<line x1="184" y1="502.1" x2="185.4" y2="502.1" stroke="#222" stroke-width="0.5"/>
<line x1="184" y1="498.5" x2="185.4" y2="498.5" stroke="#222" stroke-width="0.5"/>
<line x1="184" y1="495.9" x2="185.4" y2="495.9" stroke="#222" stroke-width="0.5"/>
<line x1="184" y1="493.9" x2="185.4" y2="493.9" stroke="#222" stroke-width="0.5"/>
<line x1="184" y1="492.3" x2="185.4" y2="492.3" stroke="#222" stroke-width="0.5"/>
<line x1="184" y1="490.9" x2="185.4" y2="490.9" stroke="#222" stroke-width="0.5"/>
<line x1="184" y1="489.7" x2="185.4" y2="489.7" stroke="#222" stroke-width="0.5"/>
<line x1="184" y1="488.6" x2="185.4" y2="488.6" stroke="#222" stroke-width="0.5"/>
<line x1="184" y1="521.9" x2="185.4" y2="521.9" stroke="#222" stroke-width="0.5"/>
<line x1="184" y1="518.4" x2="185.4" y2="518.4" stroke="#222" stroke-width="0.5"/>
<line x1="184" y1="516" x2="185.4" y2="516" stroke="#222" stroke-width="0.5"/>
<line x1="184" y1="514.1" x2="185.4" y2="514.1" stroke="#222" stroke-width="0.5"/>
<line x1="184" y1="512.6" x2="185.4" y2="512.6" stroke="#222" stroke-width="0.5"/>
<line x1="184" y1="511.3" x2="185.4" y2="511.3" stroke="#222" stroke-width="0.5"/>
<line x1="184" y1="510.2" x2="185.4" y2="510.2" stroke="#222" stroke-width="0.5"/>
<line x1="184" y1="509.2" x2="185.4" y2="509.2" stroke="#222" stroke-width="0.5"/>
<line x1="184" y1="541.7" x2="185.4" y2="541.7" stroke="#222" stroke-width="0.5"/>
<line x1="184" y1="538.2" x2="185.4" y2="538.2" stroke="#222" stroke-width="0.5"/>
<line x1="184" y1="535.7" x2="185.4" y2="535.7" stroke="#222" stroke-width="0.5"/>
<line x1="184" y1="533.7" x2="185.4" y2="533.7" stroke="#222" stroke-width="0.5"/>
<line x1="184" y1="532.1" x2="185.4" y2="532.1" stroke="#222" stroke-width="0.5"/>
<line x1="184" y1="530.8" x2="185.4" y2="530.8" stroke="#222" stroke-width="0.5"/>
<line x1="184" y1="529.6" x2="185.4" y2="529.6" stroke="#222" stroke-width="0.5"/>
<line x1="184" y1="528.6" x2="185.4" y2="528.6" stroke="#222" stroke-width="0.5"/>
<line x1="195.5" y1="558.5" x2="195.5" y2="561.1" stroke="#222" stroke-width="0.8"/>
<text x="195.5" y="570" font-size="7" text-anchor="middle">−10<tspan dy="-2.6" font-size="4.5">3</tspan></text>
<line x1="210" y1="558.5" x2="210" y2="561.1" stroke="#222" stroke-width="0.8"/>
<text x="210" y="570" font-size="7" text-anchor="middle">0</text>
<line x1="221.7" y1="558.5" x2="221.7" y2="561.1" stroke="#222" stroke-width="0.8"/>
<text x="221.7" y="570" font-size="7" text-anchor="middle">10<tspan dy="-2.6" font-size="4.5">3</tspan></text>
<line x1="251.5" y1="558.5" x2="251.5" y2="561.1" stroke="#222" stroke-width="0.8"/>
<text x="251.5" y="570" font-size="7" text-anchor="middle">10<tspan dy="-2.6" font-size="4.5">4</tspan></text>
<line x1="274.6" y1="558.5" x2="274.6" y2="561.1" stroke="#222" stroke-width="0.8"/>
<text x="274.6" y="570" font-size="7" text-anchor="middle">10<tspan dy="-2.6" font-size="4.5">5</tspan></text>
<line x1="230.7" y1="558.5" x2="230.7" y2="559.9" stroke="#222" stroke-width="0.5"/>
<line x1="235.9" y1="558.5" x2="235.9" y2="559.9" stroke="#222" stroke-width="0.5"/>
<line x1="239.6" y1="558.5" x2="239.6" y2="559.9" stroke="#222" stroke-width="0.5"/>
<line x1="242.5" y1="558.5" x2="242.5" y2="559.9" stroke="#222" stroke-width="0.5"/>
<line x1="244.9" y1="558.5" x2="244.9" y2="559.9" stroke="#222" stroke-width="0.5"/>
<line x1="246.9" y1="558.5" x2="246.9" y2="559.9" stroke="#222" stroke-width="0.5"/>
<line x1="248.6" y1="558.5" x2="248.6" y2="559.9" stroke="#222" stroke-width="0.5"/>
<line x1="250.1" y1="558.5" x2="250.1" y2="559.9" stroke="#222" stroke-width="0.5"/>
<line x1="258.5" y1="558.5" x2="258.5" y2="559.9" stroke="#222" stroke-width="0.5"/>
<line x1="262.5" y1="558.5" x2="262.5" y2="559.9" stroke="#222" stroke-width="0.5"/>
<line x1="265.4" y1="558.5" x2="265.4" y2="559.9" stroke="#222" stroke-width="0.5"/>
<line x1="267.6" y1="558.5" x2="267.6" y2="559.9" stroke="#222" stroke-width="0.5"/>
<line x1="269.5" y1="558.5" x2="269.5" y2="559.9" stroke="#222" stroke-width="0.5"/>
<line x1="271" y1="558.5" x2="271" y2="559.9" stroke="#222" stroke-width="0.5"/>
<line x1="272.4" y1="558.5" x2="272.4" y2="559.9" stroke="#222" stroke-width="0.5"/>
<line x1="273.5" y1="558.5" x2="273.5" y2="559.9" stroke="#222" stroke-width="0.5"/>
<path d="M201.5 483.6C210 482.6 222 482.6 234 483C244 483.2 252 483.4 256 484C257 485 256 486 252 486.2C240 486.5 226 486.6 214 486.8C207 487 202 486.6 201.5 485.2Z" fill="#2a7a3a"/>
<path d="M225.1 486.7h0M210.1 485.3h0M221.6 485.8h0M251.3 483.3h0M236.3 484.6h0M210.3 483.8h0M203.8 485.8h0M217.7 483.2h0M215.4 484h0M204.2 484.1h0M200.2 484.5h0M255.9 484.4h0M218.5 481.8h0M244.7 485.9h0M202 483.3h0M215.9 483.8h0M233.2 485.8h0M210.8 484.8h0M223.3 485.1h0M206.8 484.8h0M248.9 485.1h0M213.2 483.1h0M202.4 484.7h0M231.7 485.1h0M236.6 483.9h0M242 483.7h0M229.7 484.3h0M238.7 482.8h0M243.5 485.6h0M243.6 484.1h0M210.1 485.1h0M217.2 484.4h0M218 484.6h0M208.6 484h0M247.7 484.6h0M203.7 483.5h0M248.4 486.5h0M222.7 487.3h0M232.6 483.9h0M219.2 485.5h0M203.5 486.7h0M237.7 484.9h0M235.7 485.6h0M222.7 485.5h0M245.8 485.1h0M222.5 485.1h0M200.2 483h0M219.9 484h0M207.7 484.2h0M258 483.9h0M225.6 486.5h0M257.3 484.8h0M237.7 485.1h0M240.2 485.1h0M210.2 484.3h0M227.5 484.7h0M208.2 485.5h0M202.5 484.2h0M201.7 485.1h0M205.5 484.3h0M220 483h0M246.7 486.1h0M254.1 485.2h0M203.1 485.7h0M220.3 486h0M203.9 486h0M234 482.9h0M224.2 483.4h0M233 484.3h0M218.6 485.4h0M213.7 483.4h0M233.9 485.1h0M218.8 483.3h0M231.6 484.5h0M251.4 484h0M223.7 483.4h0M244.1 485.6h0M209.9 485.4h0M200.9 486.2h0M225.2 485.4h0M221.2 485.4h0M252 484h0M237 484.1h0M229.6 486.2h0M240.7 484.8h0M246.8 485h0M229.8 484.7h0M222.1 482.5h0M225.3 485.6h0M231.5 484.9h0M233.9 482.2h0M230.6 485.8h0M211.1 485.5h0M244.8 484.5h0M233.6 484.2h0M250.7 485.5h0M221.3 483.8h0M230.8 481.7h0M249.4 486.5h0M251.8 485.4h0M254.9 484.8h0M221 484.7h0M223.1 486.6h0M212.1 485.6h0M204.9 484.7h0M222.8 485.9h0M226.3 482.7h0M223.4 486.3h0M243.9 486.6h0M212.6 483.5h0M220.8 482.4h0M213.4 484.7h0M222.9 483h0M200.3 483.9h0M210.9 486.6h0M227.9 485h0M207.3 483.6h0M239.2 484.1h0M252.6 483.2h0M221.5 483.4h0M249.6 484.7h0M219.1 484.9h0M247.8 486h0M243.1 485.7h0M257.3 487h0M219.5 485.3h0M235.7 482.9h0M213.5 487.4h0M219.2 484.8h0M247.7 486.4h0M242.5 482.8h0M242.1 486.1h0M253.3 482h0M251 483.5h0M205.3 487.4h0M210.7 485.9h0M255.3 483.6h0M219.2 485.5h0M251.2 485.1h0M246.9 483.1h0M202.1 485.6h0M254.3 484.6h0M228.2 485.6h0M227.7 482.7h0M210.7 485h0M246.1 484.2h0M252 486h0M242.9 484.5h0M224.5 482.5h0M220.1 482.3h0M210.1 484.4h0M240.7 481.7h0M241.2 485.3h0M253.5 483.6h0M214.5 485.5h0M212 484.5h0M236.3 485.6h0M233 484.6h0M256.3 482.6h0M230.6 483.6h0M227.7 483.7h0M219.8 484.4h0M229.5 485.9h0M225.8 483h0M257.3 484.2h0M233.8 485.9h0M235.3 484.7h0M233.8 483.4h0M213.7 485.2h0M256.9 486.9h0M227.8 485.9h0M220.1 483.7h0M219.4 487.7h0M233.5 483.1h0M232.3 485.8h0M230.8 485h0M237.7 485h0M200.1 483.8h0M243 484.7h0M218.8 485.5h0M219.2 485h0M237.5 484.1h0M255.4 482.4h0M232.3 486.6h0M220.6 485.4h0M235.2 485.4h0M214.1 486h0M239.3 486h0M229.2 484.4h0M236.9 484.9h0M215.6 483.6h0M238 484.2h0M236.5 486.2h0M232.2 486h0M212.4 484.6h0M223.6 486.8h0M203.5 483.3h0M210.1 485h0M240.1 487.1h0M209.6 485.4h0M262 484h0M259 483.5h0M260.5 484.6h0" stroke="#1d6a2e" stroke-width="1.25" stroke-linecap="round"/>
<rect x="194.6" y="467" width="30.2" height="27.8" fill="none" stroke="#b5163c" stroke-width="1.7"/>
<rect x="239.2" y="467" width="44" height="27.8" fill="none" stroke="#1e4f8a" stroke-width="1.7"/>
<text x="211" y="506.5" font-size="7.3" text-anchor="middle">MHCII<tspan dy="-2.8" font-size="5">lo</tspan></text>
<text x="262.3" y="506.5" font-size="7.3" text-anchor="middle">MHCII<tspan dy="-2.8" font-size="5">hi</tspan></text>
<rect x="185.4" y="583" width="100.6" height="103.8" fill="none" stroke="#222" stroke-width="1"/>
<line x1="182.8" y1="591.7" x2="185.4" y2="591.7" stroke="#222" stroke-width="0.8"/>
<text x="180" y="594.2" font-size="7" text-anchor="end">10<tspan dy="-2.6" font-size="4.5">5</tspan></text>
<line x1="182.8" y1="612.3" x2="185.4" y2="612.3" stroke="#222" stroke-width="0.8"/>
<text x="180" y="614.8" font-size="7" text-anchor="end">10<tspan dy="-2.6" font-size="4.5">4</tspan></text>
<line x1="182.8" y1="633" x2="185.4" y2="633" stroke="#222" stroke-width="0.8"/>
<text x="180" y="635.5" font-size="7" text-anchor="end">10<tspan dy="-2.6" font-size="4.5">3</tspan></text>
<line x1="182.8" y1="651.7" x2="185.4" y2="651.7" stroke="#222" stroke-width="0.8"/>
<text x="180" y="654.2" font-size="7" text-anchor="end">10<tspan dy="-2.6" font-size="4.5">2</tspan></text>
<line x1="182.8" y1="673.2" x2="185.4" y2="673.2" stroke="#222" stroke-width="0.8"/>
<text x="180" y="675.7" font-size="7" text-anchor="end">10<tspan dy="-2.6" font-size="4.5">1</tspan></text>
<line x1="184" y1="606.1" x2="185.4" y2="606.1" stroke="#222" stroke-width="0.5"/>
<line x1="184" y1="602.5" x2="185.4" y2="602.5" stroke="#222" stroke-width="0.5"/>
<line x1="184" y1="599.9" x2="185.4" y2="599.9" stroke="#222" stroke-width="0.5"/>
<line x1="184" y1="597.9" x2="185.4" y2="597.9" stroke="#222" stroke-width="0.5"/>
<line x1="184" y1="596.3" x2="185.4" y2="596.3" stroke="#222" stroke-width="0.5"/>
<line x1="184" y1="594.9" x2="185.4" y2="594.9" stroke="#222" stroke-width="0.5"/>
<line x1="184" y1="593.7" x2="185.4" y2="593.7" stroke="#222" stroke-width="0.5"/>
<line x1="184" y1="592.6" x2="185.4" y2="592.6" stroke="#222" stroke-width="0.5"/>
<line x1="184" y1="626.8" x2="185.4" y2="626.8" stroke="#222" stroke-width="0.5"/>
<line x1="184" y1="623.1" x2="185.4" y2="623.1" stroke="#222" stroke-width="0.5"/>
<line x1="184" y1="620.5" x2="185.4" y2="620.5" stroke="#222" stroke-width="0.5"/>
<line x1="184" y1="618.5" x2="185.4" y2="618.5" stroke="#222" stroke-width="0.5"/>
<line x1="184" y1="616.9" x2="185.4" y2="616.9" stroke="#222" stroke-width="0.5"/>
<line x1="184" y1="615.5" x2="185.4" y2="615.5" stroke="#222" stroke-width="0.5"/>
<line x1="184" y1="614.3" x2="185.4" y2="614.3" stroke="#222" stroke-width="0.5"/>
<line x1="184" y1="613.2" x2="185.4" y2="613.2" stroke="#222" stroke-width="0.5"/>
<line x1="184" y1="646.1" x2="185.4" y2="646.1" stroke="#222" stroke-width="0.5"/>
<line x1="184" y1="642.8" x2="185.4" y2="642.8" stroke="#222" stroke-width="0.5"/>
<line x1="184" y1="640.4" x2="185.4" y2="640.4" stroke="#222" stroke-width="0.5"/>
<line x1="184" y1="638.6" x2="185.4" y2="638.6" stroke="#222" stroke-width="0.5"/>
<line x1="184" y1="637.1" x2="185.4" y2="637.1" stroke="#222" stroke-width="0.5"/>
<line x1="184" y1="635.9" x2="185.4" y2="635.9" stroke="#222" stroke-width="0.5"/>
<line x1="184" y1="634.8" x2="185.4" y2="634.8" stroke="#222" stroke-width="0.5"/>
<line x1="184" y1="633.9" x2="185.4" y2="633.9" stroke="#222" stroke-width="0.5"/>
<line x1="184" y1="666.7" x2="185.4" y2="666.7" stroke="#222" stroke-width="0.5"/>
<line x1="184" y1="662.9" x2="185.4" y2="662.9" stroke="#222" stroke-width="0.5"/>
<line x1="184" y1="660.3" x2="185.4" y2="660.3" stroke="#222" stroke-width="0.5"/>
<line x1="184" y1="658.2" x2="185.4" y2="658.2" stroke="#222" stroke-width="0.5"/>
<line x1="184" y1="656.5" x2="185.4" y2="656.5" stroke="#222" stroke-width="0.5"/>
<line x1="184" y1="655" x2="185.4" y2="655" stroke="#222" stroke-width="0.5"/>
<line x1="184" y1="653.8" x2="185.4" y2="653.8" stroke="#222" stroke-width="0.5"/>
<line x1="184" y1="652.7" x2="185.4" y2="652.7" stroke="#222" stroke-width="0.5"/>
<line x1="195.5" y1="686.8" x2="195.5" y2="689.4" stroke="#222" stroke-width="0.8"/>
<text x="195.5" y="697" font-size="7" text-anchor="middle">−10<tspan dy="-2.6" font-size="4.5">3</tspan></text>
<line x1="210" y1="686.8" x2="210" y2="689.4" stroke="#222" stroke-width="0.8"/>
<text x="210" y="697" font-size="7" text-anchor="middle">0</text>
<line x1="221.7" y1="686.8" x2="221.7" y2="689.4" stroke="#222" stroke-width="0.8"/>
<text x="221.7" y="697" font-size="7" text-anchor="middle">10<tspan dy="-2.6" font-size="4.5">3</tspan></text>
<line x1="251.5" y1="686.8" x2="251.5" y2="689.4" stroke="#222" stroke-width="0.8"/>
<text x="251.5" y="697" font-size="7" text-anchor="middle">10<tspan dy="-2.6" font-size="4.5">4</tspan></text>
<line x1="274.6" y1="686.8" x2="274.6" y2="689.4" stroke="#222" stroke-width="0.8"/>
<text x="274.6" y="697" font-size="7" text-anchor="middle">10<tspan dy="-2.6" font-size="4.5">5</tspan></text>
<line x1="230.7" y1="686.8" x2="230.7" y2="688.2" stroke="#222" stroke-width="0.5"/>
<line x1="235.9" y1="686.8" x2="235.9" y2="688.2" stroke="#222" stroke-width="0.5"/>
<line x1="239.6" y1="686.8" x2="239.6" y2="688.2" stroke="#222" stroke-width="0.5"/>
<line x1="242.5" y1="686.8" x2="242.5" y2="688.2" stroke="#222" stroke-width="0.5"/>
<line x1="244.9" y1="686.8" x2="244.9" y2="688.2" stroke="#222" stroke-width="0.5"/>
<line x1="246.9" y1="686.8" x2="246.9" y2="688.2" stroke="#222" stroke-width="0.5"/>
<line x1="248.6" y1="686.8" x2="248.6" y2="688.2" stroke="#222" stroke-width="0.5"/>
<line x1="250.1" y1="686.8" x2="250.1" y2="688.2" stroke="#222" stroke-width="0.5"/>
<line x1="258.5" y1="686.8" x2="258.5" y2="688.2" stroke="#222" stroke-width="0.5"/>
<line x1="262.5" y1="686.8" x2="262.5" y2="688.2" stroke="#222" stroke-width="0.5"/>
<line x1="265.4" y1="686.8" x2="265.4" y2="688.2" stroke="#222" stroke-width="0.5"/>
<line x1="267.6" y1="686.8" x2="267.6" y2="688.2" stroke="#222" stroke-width="0.5"/>
<line x1="269.5" y1="686.8" x2="269.5" y2="688.2" stroke="#222" stroke-width="0.5"/>
<line x1="271" y1="686.8" x2="271" y2="688.2" stroke="#222" stroke-width="0.5"/>
<line x1="272.4" y1="686.8" x2="272.4" y2="688.2" stroke="#222" stroke-width="0.5"/>
<line x1="273.5" y1="686.8" x2="273.5" y2="688.2" stroke="#222" stroke-width="0.5"/>
<path d="M201 605C201 601 206 600 212 600.2C218 600.4 223 601 226 602C233 602.5 240 603 245 604.5C246 606.5 244 608.5 240 608.5C234 609 229 609.5 224 610C218 610.8 210 611 204 610C201 609 201 607 201 605Z" fill="#2a7a3a"/>
<path d="M200.4 606.5h0M206.9 606.4h0M207.8 606.8h0M210.6 603.8h0M215.2 607.4h0M202.8 602.3h0M210.5 604.6h0M219.7 609.5h0M214.8 608.3h0M210.2 602.1h0M213.8 601.2h0M221.5 606.2h0M218.8 603.9h0M202.7 605h0M214.9 605h0M209.1 605.7h0M210.9 609h0M204.5 600h0M211.5 606.2h0M203.2 605.4h0M214.6 606.4h0M213.8 603.7h0M203.7 607.9h0M210 602.1h0M221 607.4h0M212.9 601.5h0M217.6 606.3h0M219.2 605.6h0M202.4 605.1h0M209.6 606.3h0M211 606.9h0M205 604.2h0M209.1 606.6h0M202.2 605.5h0M225.8 601.1h0M218 605.8h0M217.8 605.7h0M213.5 606.4h0M214.7 602.5h0M211.3 610.1h0M220.2 603.4h0M206.6 605.1h0M218.2 607.8h0M208.6 599.6h0M211.8 601.4h0M219 609.2h0M215.9 607h0M215.3 610.1h0M218.3 609.1h0M205.4 604.2h0M212 600h0M210.4 605.5h0M211.7 611.8h0M210.9 605h0M211.3 604.7h0M203.8 608.3h0M212.2 606.4h0M212.2 603.6h0M202.8 604.8h0M215.1 605.2h0M216.3 603.6h0M210.3 605.9h0M211.4 606h0M220.3 604.5h0M212.8 603.9h0M215.2 606.1h0M207.8 603h0M205.1 604.8h0M212.9 604.3h0M211.4 605.9h0M225.6 608.5h0M225.5 605.9h0M213.3 610.4h0M214.2 607.1h0M209.1 604.2h0M216.5 604h0M208.2 601.8h0M213.7 605.3h0M215.2 603.3h0M204.8 608.3h0M212.2 607.5h0M205.4 602.3h0M217.8 608.8h0M222.3 601h0M205.7 604.2h0M207.4 605h0M207.4 601.8h0M211.8 605.8h0M207.6 605.6h0M204.5 604.7h0M210.1 604.4h0M211.6 602.3h0M204.2 603.4h0M216.3 603.1h0M206.6 610.5h0M210.5 604.6h0M206.9 609.2h0M215.1 606.2h0M221.2 602.5h0M202.3 608.3h0M214.5 604.2h0M216.6 605.3h0M223.3 602.3h0M214.1 607.9h0M217.2 604.6h0M209.7 604.4h0M216 604.5h0M211.2 608.1h0M211.4 606.1h0M211.3 605.5h0M199.1 603.2h0M214.1 603.9h0M208.4 605.6h0M225.3 603.6h0M206.5 601h0M214.7 605.4h0M207.1 604.5h0M217.7 608h0M214.1 608.4h0M217.9 604.4h0M216.6 605.9h0M216.5 606.2h0M224.4 602.4h0M214.1 602.8h0M225.5 604.2h0M209.9 605.4h0M211.7 609.8h0M211.7 606.1h0M218.2 609.3h0M206.4 606.3h0M204.3 606.7h0M220.2 604.2h0M210.4 608.5h0M214.6 607.5h0M209.3 604.7h0M209.9 609.4h0M203.3 604.2h0M221.1 605.3h0M205.6 606.1h0M210.7 605.2h0M214.9 607.5h0M203.3 606h0M220.7 602.1h0M211.4 602.6h0M215.9 603.4h0M210.1 604.5h0M214.7 602.2h0M203.8 606h0M219.9 604.2h0M214.4 606.2h0M212.6 605.4h0M208.8 604.9h0M219 606.6h0M219.5 603.7h0M212.7 603.9h0M204.3 607.7h0M210.4 606.1h0M203.7 604.9h0M211.3 604.5h0M217.9 606.6h0M212.8 606.1h0M209.4 603.7h0M210.4 602.9h0M211 605.2h0M218.6 604.4h0M212.8 605.4h0M208.4 605.3h0M201.6 608.3h0M208.6 605.4h0M201.4 606.9h0M204.5 608.9h0M205.9 603.7h0M215.9 608.7h0M200.4 601.3h0M221.5 606.6h0M203.1 604.4h0M216.1 604.5h0M220.8 603.7h0M213 608.4h0M220.7 606.1h0M215.4 604.6h0M211.6 604.1h0M214.3 607.6h0M206.1 602.6h0M212.3 610.5h0M213.3 605.8h0M211.7 601.3h0M207.8 609.2h0M199.6 610h0M204.9 610.6h0M211.2 607h0M208.8 604.4h0M215.3 604.7h0M205.6 604.8h0M215.8 603.6h0M214.1 602.1h0M212.5 602.6h0M216.5 602.9h0M215.6 600.5h0M213 608.2h0M207.1 605.6h0M206.9 606.7h0M216.5 608.3h0M219.8 608.7h0M207.7 605.8h0M215.1 606h0M204.2 610.5h0M210.9 611.1h0M205.8 606.8h0M216.7 601.9h0M210 606.7h0M215.9 606.4h0M214.1 609.5h0M202.9 606.5h0M217.5 603h0M202.6 606.1h0M209.4 605.2h0M210.8 605.2h0M213.8 604.2h0M211.8 604.1h0M206.8 606.3h0M207.1 606.8h0M211.8 608.2h0M215.5 600.5h0M211.8 607.1h0M212.6 605.6h0M218.4 607.2h0M204 605.7h0M217.9 605.9h0M204.4 607.4h0M215.6 608.3h0M213 605.8h0M217 602.7h0M222.2 606.5h0M213.3 607.4h0M216.7 600h0M217.5 605.2h0M207.3 607.7h0M217.6 606.4h0M208.3 605.7h0M206.3 611.8h0M208 607.7h0M221.7 603.3h0M208.8 599.9h0M210.5 602.2h0M212.9 604.9h0M212 605.6h0M209.2 605.8h0M211.6 603.7h0M210.1 604h0M204.3 605.4h0M200.9 606.8h0M211.8 605.9h0M218.9 607.8h0M209.4 606.3h0M219.1 605.1h0M214.2 606.5h0M205.8 606.2h0M209.6 604.8h0M214.6 607.1h0M206.6 604.8h0M210.8 603.1h0M214.2 605h0M207.8 607.8h0M211.5 602.6h0M211.4 605h0M213.7 611.1h0M215.2 609.1h0M210.9 606.6h0M214.9 605.2h0M213.4 604.3h0M216.1 603.2h0M203.7 605.2h0M214.1 605.8h0M202.3 606.5h0M206.7 606h0M209.5 604.8h0M202.9 602.2h0M208.7 602.8h0M213.4 602h0M213.3 606.8h0M207.5 603.1h0M209.9 607.4h0M220.2 610.8h0M212.5 607h0M213.1 605.4h0M205.6 604.6h0M218.6 608.9h0M208.4 601.4h0M223.2 605.5h0M214.7 605h0M201.2 606.2h0M206.2 604.8h0M208.3 604.8h0M200.4 601.6h0M209 603.8h0M216.6 609.4h0M207.6 606.9h0M210.7 600.5h0M219 609.8h0M227.1 608.1h0M228.9 606.8h0M229.2 606.7h0M232.2 605.9h0M233.6 604.7h0M236.8 605.3h0M220.9 608.4h0M229.9 606.1h0M237.4 606.9h0M243.6 607.7h0M223.5 606.1h0M228 606.5h0M242 611.7h0M242.2 607.8h0M235.2 607.3h0M243.8 606.1h0M231.8 605.7h0M230.8 605.5h0M225.2 609.1h0M220.4 608.8h0M225.2 606.5h0M220 608.1h0M226 611.3h0M226.4 607.4h0M235.9 605.3h0M227 605.1h0M235.3 607.5h0M238 604.5h0M226.4 606.8h0M229.3 607.5h0M238.7 607.2h0M227.2 606.9h0M227.7 605.8h0M243 608.1h0M242.9 606.6h0M231.6 604.8h0M233.4 608.2h0M236.1 605h0M232.6 608.6h0M229.2 608.2h0M229 607h0M228.5 604.4h0M227 607.3h0M230.3 607h0M228.5 608.5h0M230.9 607.7h0M229.1 609.2h0M231.4 607.7h0M222.7 605.8h0M233.9 604.7h0M223.2 606.8h0M222.6 608.9h0M234.6 606.4h0M239.2 605.8h0M224.9 608.5h0M232.1 606.6h0M238.1 606.7h0M235.8 607.4h0M238.9 607.9h0M229.2 609.6h0M229.9 610h0M224.4 607.1h0M240 606.3h0M234.8 606.6h0M240.5 607.6h0M234.1 608.9h0M222.9 608.2h0M232.8 609.2h0M232.2 608h0M231.7 605.3h0M229 606.7h0M224.1 606.9h0M229.2 610.1h0M230.5 607.2h0M232.5 608.2h0M222.4 604h0M241.4 605.5h0M226.7 609h0M233.8 605.6h0M236.4 605h0M241.7 606.4h0M234 607h0M243.4 605.3h0M231.4 610.7h0M233.6 606.6h0M234.6 609h0M225.2 605.9h0M239.8 610.4h0M237.9 605.8h0M226.8 605h0M230.8 605h0M236.2 605.8h0M235.1 604.3h0M237.3 608.1h0M237.6 607.5h0M232.3 609.8h0M229.9 607.3h0M241.7 606.2h0M232 607.4h0M233.1 606.6h0M238 610.7h0M229.7 604.5h0M229.2 604.6h0M224.4 605.2h0M238.3 607.3h0M236.2 606.8h0M238.1 606.3h0M239.8 608.5h0M233.3 604.5h0M225.5 607.4h0M225.8 606.7h0M231 609.4h0M227.9 607.2h0M229.3 605.7h0M234.6 608.7h0M223.5 609.6h0M235.1 605.2h0M229.6 607.5h0M231.5 609.4h0M226.8 606.6h0M235.1 606.9h0M230.5 606.8h0M234.4 603.7h0M225.7 605.4h0M225.3 607.8h0M221 611.2h0M228.7 604.6h0M244.2 607h0M234.9 606.7h0M230.5 610.5h0M220.3 607.4h0M227.6 606.4h0M231.6 603.8h0M235.7 607.4h0M235.3 606h0M236.4 606.2h0M236.6 609.3h0M235.7 604.5h0M232.4 605.2h0M243.5 607.3h0M224.5 604.4h0M239.9 605.3h0M234.4 606.4h0M231.2 606.2h0M232.1 609.8h0M226.8 607.9h0M234.9 605.9h0M225.5 605.5h0M235.4 607.3h0M238.1 607.6h0M245.2 607.2h0M240.6 607.1h0M247.8 608h0M253 609.3h0M258 606.9h0M252.3 607.2h0M240.2 604.9h0M248.1 608.6h0M248 608.7h0M249.5 609.2h0M246.1 610.3h0M243.1 606.1h0" stroke="#1d6a2e" stroke-width="1.25" stroke-linecap="round"/>
<rect x="194.6" y="591.7" width="30.2" height="28.3" fill="none" stroke="#b5163c" stroke-width="1.7"/>
<rect x="239.2" y="591.7" width="44" height="28.3" fill="none" stroke="#1e4f8a" stroke-width="1.7"/>
<text x="211" y="630.2" font-size="7.3" text-anchor="middle">MHCII<tspan dy="-2.8" font-size="5">lo</tspan></text>
<text x="262.3" y="630.2" font-size="7.3" text-anchor="middle">MHCII<tspan dy="-2.8" font-size="5">hi</tspan></text>
<line x1="177.7" y1="701.5" x2="274" y2="701.5" stroke="#222" stroke-width="1"/>
<path d="M272.5 699.7L276 701.5L272.5 703.3Z" fill="#222"/>
<text x="227.6" y="711.4" font-size="10" text-anchor="middle" font-style="italic">iA/iE MHCII</text>
<text x="295" y="505" font-size="11" font-weight="bold" fill="#000">H</text>
<line x1="345.3" y1="523.5" x2="345.3" y2="652.5" stroke="#222" stroke-width="0.9"/>
<line x1="345.3" y1="652.5" x2="513.3" y2="652.5" stroke="#222" stroke-width="0.9"/>
<line x1="342.8" y1="652.5" x2="345.3" y2="652.5" stroke="#222" stroke-width="0.8"/>
<text x="341.5" y="655" font-size="7.2" text-anchor="end">0</text>
<line x1="342.8" y1="626" x2="345.3" y2="626" stroke="#222" stroke-width="0.8"/>
<text x="341.5" y="628.5" font-size="7.2" text-anchor="end">100</text>
<line x1="342.8" y1="599.4" x2="345.3" y2="599.4" stroke="#222" stroke-width="0.8"/>
<text x="341.5" y="601.9" font-size="7.2" text-anchor="end">200</text>
<line x1="342.8" y1="572.9" x2="345.3" y2="572.9" stroke="#222" stroke-width="0.8"/>
<text x="341.5" y="575.4" font-size="7.2" text-anchor="end">300</text>
<line x1="342.8" y1="567.2" x2="345.3" y2="567.2" stroke="#222" stroke-width="0.8"/>
<text x="341.5" y="569.7" font-size="7.2" text-anchor="end">500</text>
<line x1="342.8" y1="552.8" x2="345.3" y2="552.8" stroke="#222" stroke-width="0.8"/>
<text x="341.5" y="555.3" font-size="7.2" text-anchor="end">1000</text>
<line x1="342.8" y1="538.5" x2="345.3" y2="538.5" stroke="#222" stroke-width="0.8"/>
<text x="341.5" y="541" font-size="7.2" text-anchor="end">1500</text>
<line x1="342.8" y1="524.2" x2="345.3" y2="524.2" stroke="#222" stroke-width="0.8"/>
<text x="341.5" y="526.7" font-size="7.2" text-anchor="end">2000</text>
<rect x="341" y="573.2" width="7" height="2.2" fill="#fff"/>
<path d="M341.5 572.6L348.5 571.2M341.5 575.6L348.5 574.2" fill="none" stroke="#222" stroke-width="0.8"/>
<text x="301.3" y="584" font-size="7.7" text-anchor="middle" transform="rotate(-90 301.3 584)">Number of ESLAMs in each MHCII</text>
<text x="311" y="584" font-size="7.7" text-anchor="middle" transform="rotate(-90 311 584)">expression group in 6 hind leg bones</text>
<rect x="358.4" y="614" width="24.6" height="38.5" fill="#e8808f"/>
<line x1="370.7" y1="614" x2="370.7" y2="611.2" stroke="#222" stroke-width="0.8"/>
<line x1="366.7" y1="611.2" x2="374.7" y2="611.2" stroke="#222" stroke-width="0.9"/>
<line x1="370.7" y1="652.5" x2="370.7" y2="654.6" stroke="#222" stroke-width="0.8"/>
<path d="M371.2 609.4h0M368.4 614.8h0M372.2 614.8h0" stroke="#c41d42" stroke-width="2.5" stroke-linecap="round"/>
<rect x="395.3" y="550" width="25.2" height="102.5" fill="#e8808f"/>
<line x1="407.9" y1="550" x2="407.9" y2="542" stroke="#222" stroke-width="0.8"/>
<line x1="403.9" y1="542" x2="411.9" y2="542" stroke="#222" stroke-width="0.9"/>
<line x1="407.9" y1="652.5" x2="407.9" y2="654.6" stroke="#222" stroke-width="0.8"/>
<path d="M408.2 537.6h0M408 547.9h0M407 565.2h0" stroke="#c41d42" stroke-width="2.5" stroke-linecap="round"/>
<rect x="445.7" y="639.2" width="25.6" height="13.3" fill="#92b3d6"/>
<line x1="458.5" y1="639.2" x2="458.5" y2="636.8" stroke="#222" stroke-width="0.8"/>
<line x1="454.5" y1="636.8" x2="462.5" y2="636.8" stroke="#222" stroke-width="0.9"/>
<line x1="458.5" y1="652.5" x2="458.5" y2="654.6" stroke="#222" stroke-width="0.8"/>
<path d="M458.7 633.7h0M455.8 637.2h0M458.7 644.1h0" stroke="#1f5694" stroke-width="2.5" stroke-linecap="round"/>
<rect x="483.3" y="634.5" width="24.7" height="18" fill="#92b3d6"/>
<line x1="495.6" y1="634.5" x2="495.6" y2="630.3" stroke="#222" stroke-width="0.8"/>
<line x1="491.6" y1="630.3" x2="499.6" y2="630.3" stroke="#222" stroke-width="0.9"/>
<line x1="495.6" y1="652.5" x2="495.6" y2="654.6" stroke="#222" stroke-width="0.8"/>
<path d="M495.8 628.6h0M495.8 643h0" stroke="#1f5694" stroke-width="2.5" stroke-linecap="round"/>
<rect x="395.3" y="572.3" width="25.2" height="1.6" fill="#fff"/>
<line x1="373.5" y1="533" x2="405.5" y2="533" stroke="#555" stroke-width="1.1"/>
<text x="389.2" y="534" font-size="9" text-anchor="middle">*</text>
<line x1="459.4" y1="622.4" x2="497" y2="622.4" stroke="#555" stroke-width="1.1"/>
<text x="478.2" y="619.6" font-size="7.8" text-anchor="middle">ns</text>
<rect x="476.8" y="529.5" width="5" height="5" fill="#c8102e"/>
<text x="484.5" y="534" font-size="7.2">MHCII<tspan dy="-2.6" font-size="4.8">lo</tspan></text>
<rect x="476.8" y="537.5" width="5" height="5" fill="#1a4b8c"/>
<text x="484.5" y="542" font-size="7.2">MHCII<tspan dy="-2.6" font-size="4.8">hi</tspan></text>
<text x="371" y="664.3" font-size="8" text-anchor="middle">CALR<tspan dy="-3" font-size="5.6">+/+</tspan></text>
<text x="371" y="673.8" font-size="6.6" text-anchor="middle" fill="#333">n=4</text>
<text x="407.2" y="664.3" font-size="8" text-anchor="middle">CALR<tspan dy="-3" font-size="5.6">del/del</tspan></text>
<text x="407.2" y="673.8" font-size="6.6" text-anchor="middle" fill="#333">n=3</text>
<text x="458" y="664.3" font-size="8" text-anchor="middle">CALR<tspan dy="-3" font-size="5.6">+/+</tspan></text>
<text x="458" y="673.8" font-size="6.6" text-anchor="middle" fill="#333">n=4</text>
<text x="494.3" y="664.3" font-size="8" text-anchor="middle">CALR<tspan dy="-3" font-size="5.6">del/del</tspan></text>
<text x="494.3" y="673.8" font-size="6.6" text-anchor="middle" fill="#333">n=3</text>
</svg>
</body></html>
